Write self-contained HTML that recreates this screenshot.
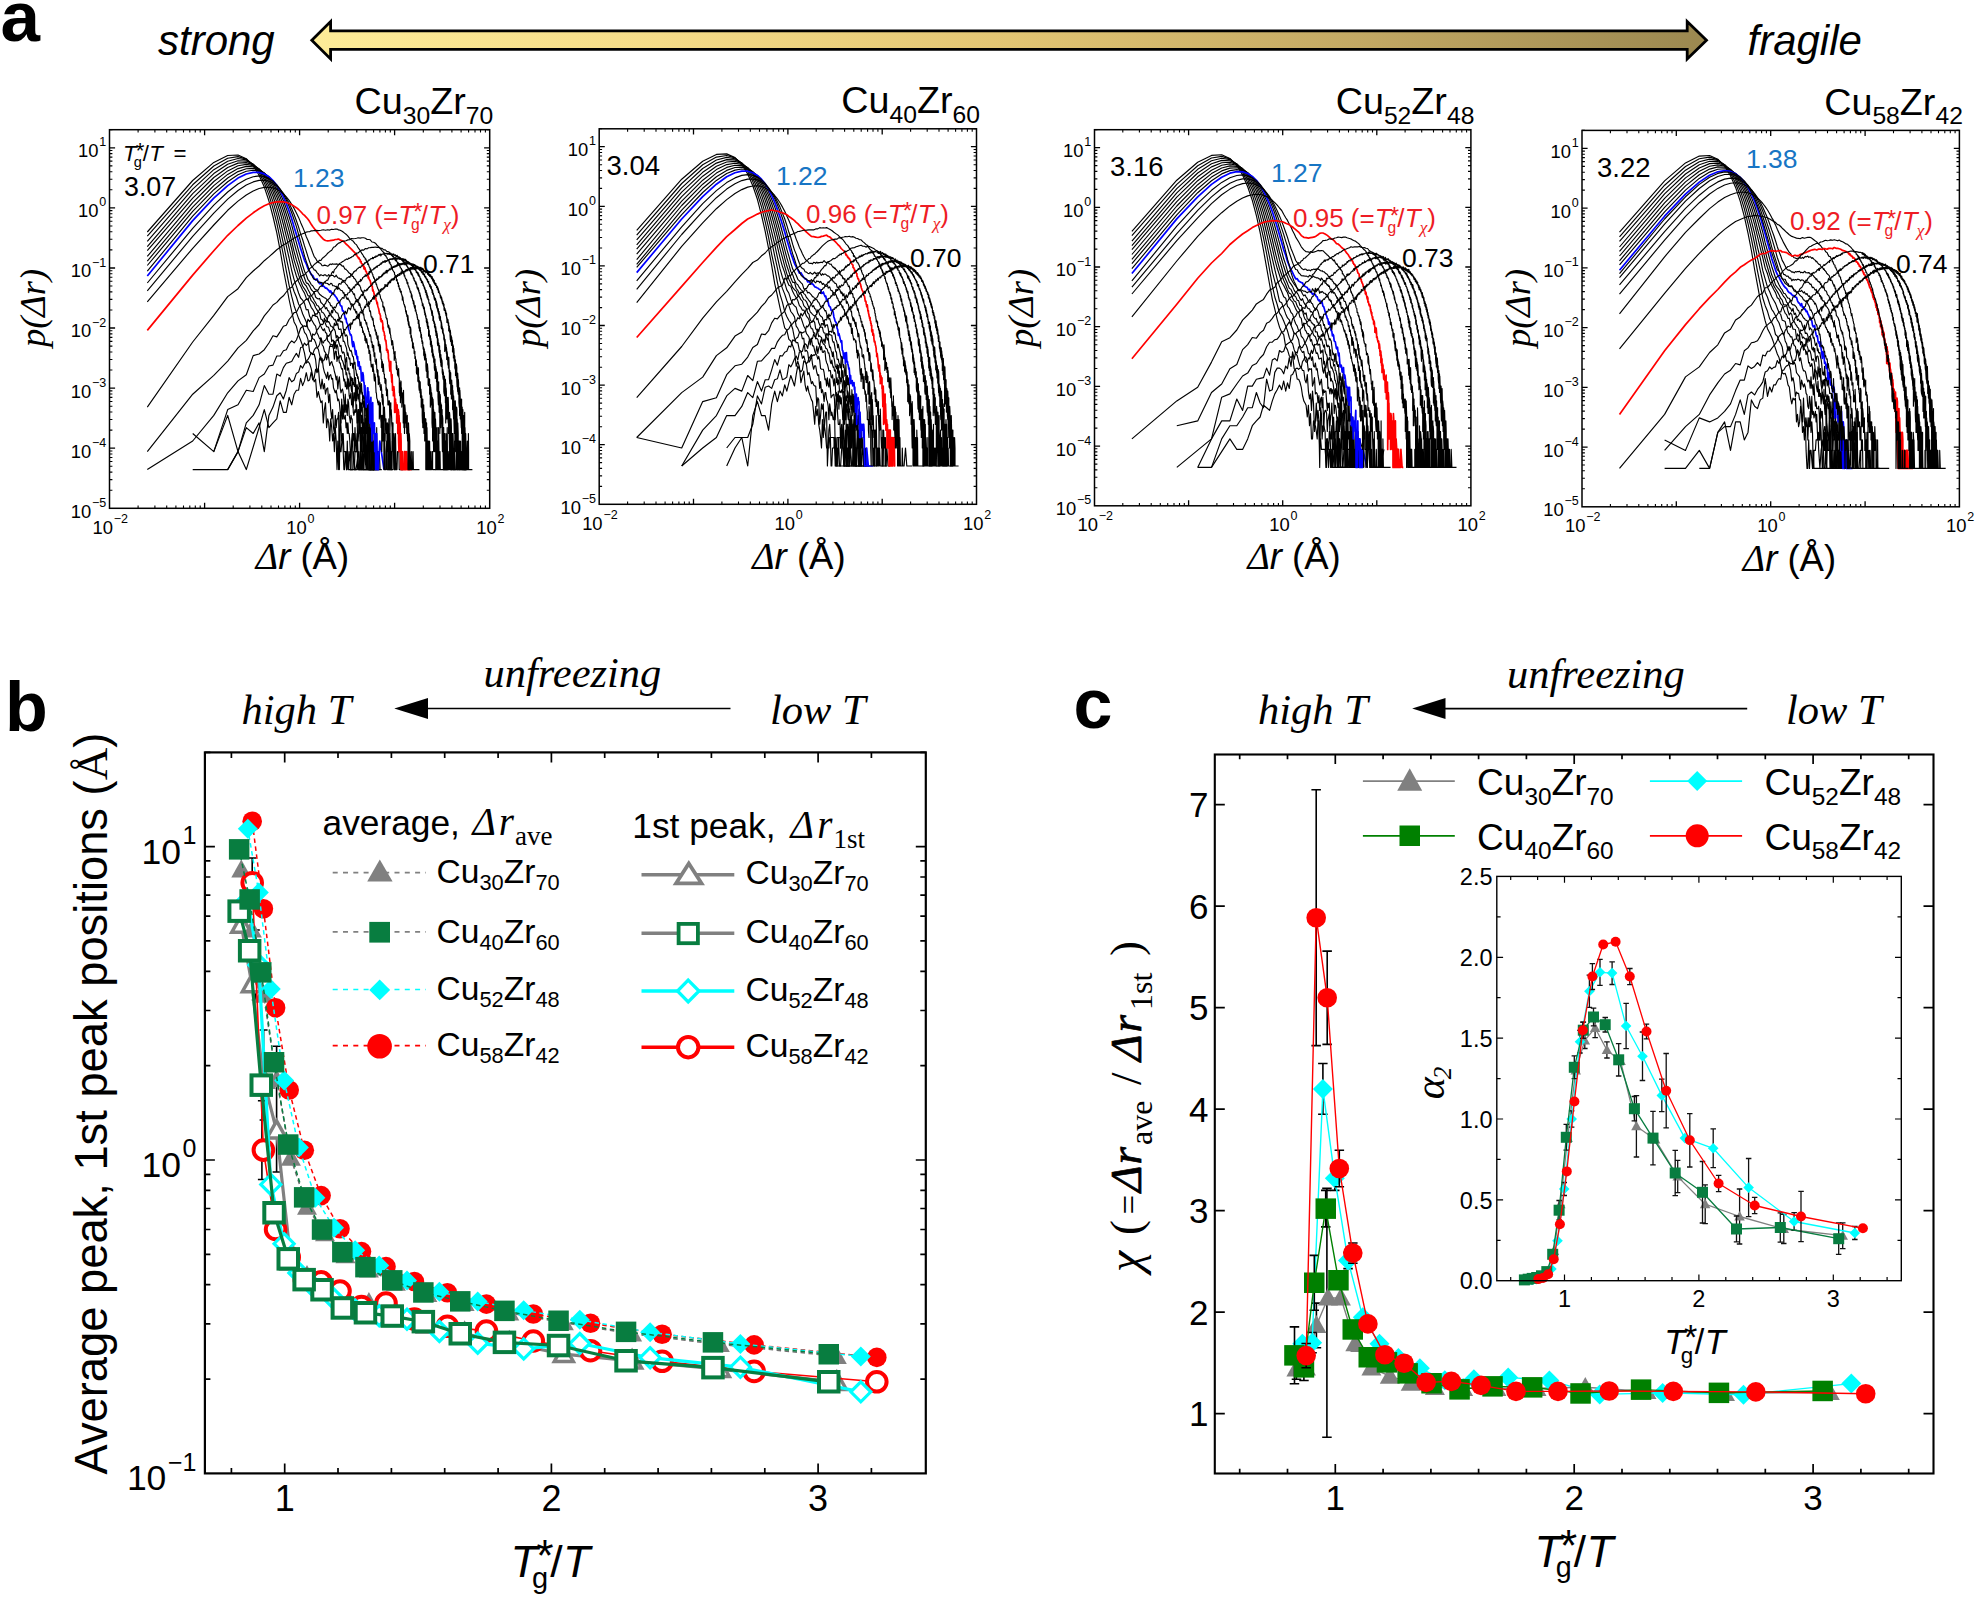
<!DOCTYPE html>
<html lang="en"><head><meta charset="utf-8"><title>Figure</title>
<style>html,body{margin:0;padding:0;background:#fff}svg{display:block}</style></head>
<body>
<svg width="1975" height="1598" viewBox="0 0 1975 1598">
<rect width="1975" height="1598" fill="#fff"/>
<defs><linearGradient id="ga" x1="0" x2="1" y1="0" y2="0"><stop offset="0" stop-color="#fdec98"/><stop offset="0.25" stop-color="#f5dc88"/><stop offset="0.5" stop-color="#e2c573"/><stop offset="0.75" stop-color="#c3a964"/><stop offset="1" stop-color="#9b8850"/></linearGradient></defs>
<path d="M311.8 40.2L330.6 21.5L330.6 30.8L1687.2 30.8L1687.2 21.5L1706.5 40.2L1687.2 58.9L1687.2 49.4L330.6 49.4L330.6 58.9Z" fill="url(#ga)" stroke="#000" stroke-width="2.8" stroke-linejoin="miter"/>
<text x="0.5" y="41" font-family='"Liberation Sans", Arial, Helvetica, sans-serif' font-size="71" text-anchor="start" fill="#000" font-weight="bold" >a</text>
<text x="158" y="55" font-family='"Liberation Sans", Arial, Helvetica, sans-serif' font-size="42" text-anchor="start" fill="#000" font-style="italic" >strong</text>
<text x="1747.5" y="55" font-family='"Liberation Sans", Arial, Helvetica, sans-serif' font-size="42" text-anchor="start" fill="#000" font-style="italic" >fragile</text>
<path d="M204.6 508.3L204.6 502.7M204.6 129.7L204.6 135.3M299.6 508.3L299.6 502.7M299.6 129.7L299.6 135.3M394.6 508.3L394.6 502.7M394.6 129.7L394.6 135.3M109.5 448.2L115.1 448.2M489.7 448.2L484.1 448.2M109.5 388.1L115.1 388.1M489.7 388.1L484.1 388.1M109.5 328L115.1 328M489.7 328L484.1 328M109.5 268L115.1 268M489.7 268L484.1 268M109.5 207.9L115.1 207.9M489.7 207.9L484.1 207.9M109.5 147.8L115.1 147.8M489.7 147.8L484.1 147.8" stroke="#000" stroke-width="1.3" fill="none"/>
<path d="M138.1 508.3L138.1 505.4M138.1 129.7L138.1 132.6M154.9 508.3L154.9 505.4M154.9 129.7L154.9 132.6M166.7 508.3L166.7 505.4M166.7 129.7L166.7 132.6M175.9 508.3L175.9 505.4M175.9 129.7L175.9 132.6M183.5 508.3L183.5 505.4M183.5 129.7L183.5 132.6M189.8 508.3L189.8 505.4M189.8 129.7L189.8 132.6M195.3 508.3L195.3 505.4M195.3 129.7L195.3 132.6M200.2 508.3L200.2 505.4M200.2 129.7L200.2 132.6M233.2 508.3L233.2 505.4M233.2 129.7L233.2 132.6M249.9 508.3L249.9 505.4M249.9 129.7L249.9 132.6M261.8 508.3L261.8 505.4M261.8 129.7L261.8 132.6M271 508.3L271 505.4M271 129.7L271 132.6M278.5 508.3L278.5 505.4M278.5 129.7L278.5 132.6M284.9 508.3L284.9 505.4M284.9 129.7L284.9 132.6M290.4 508.3L290.4 505.4M290.4 129.7L290.4 132.6M295.3 508.3L295.3 505.4M295.3 129.7L295.3 132.6M328.2 508.3L328.2 505.4M328.2 129.7L328.2 132.6M345 508.3L345 505.4M345 129.7L345 132.6M356.8 508.3L356.8 505.4M356.8 129.7L356.8 132.6M366 508.3L366 505.4M366 129.7L366 132.6M373.6 508.3L373.6 505.4M373.6 129.7L373.6 132.6M379.9 508.3L379.9 505.4M379.9 129.7L379.9 132.6M385.4 508.3L385.4 505.4M385.4 129.7L385.4 132.6M390.3 508.3L390.3 505.4M390.3 129.7L390.3 132.6M423.3 508.3L423.3 505.4M423.3 129.7L423.3 132.6M440 508.3L440 505.4M440 129.7L440 132.6M451.9 508.3L451.9 505.4M451.9 129.7L451.9 132.6M461.1 508.3L461.1 505.4M461.1 129.7L461.1 132.6M468.6 508.3L468.6 505.4M468.6 129.7L468.6 132.6M475 508.3L475 505.4M475 129.7L475 132.6M480.5 508.3L480.5 505.4M480.5 129.7L480.5 132.6M485.4 508.3L485.4 505.4M485.4 129.7L485.4 132.6M109.5 490.2L112.4 490.2M489.7 490.2L486.8 490.2M109.5 479.6L112.4 479.6M489.7 479.6L486.8 479.6M109.5 472.1L112.4 472.1M489.7 472.1L486.8 472.1M109.5 466.3L112.4 466.3M489.7 466.3L486.8 466.3M109.5 461.5L112.4 461.5M489.7 461.5L486.8 461.5M109.5 457.5L112.4 457.5M489.7 457.5L486.8 457.5M109.5 454L112.4 454M489.7 454L486.8 454M109.5 451L112.4 451M489.7 451L486.8 451M109.5 430.1L112.4 430.1M489.7 430.1L486.8 430.1M109.5 419.5L112.4 419.5M489.7 419.5L486.8 419.5M109.5 412L112.4 412M489.7 412L486.8 412M109.5 406.2L112.4 406.2M489.7 406.2L486.8 406.2M109.5 401.5L112.4 401.5M489.7 401.5L486.8 401.5M109.5 397.4L112.4 397.4M489.7 397.4L486.8 397.4M109.5 394L112.4 394M489.7 394L486.8 394M109.5 390.9L112.4 390.9M489.7 390.9L486.8 390.9M109.5 370L112.4 370M489.7 370L486.8 370M109.5 359.5L112.4 359.5M489.7 359.5L486.8 359.5M109.5 352L112.4 352M489.7 352L486.8 352M109.5 346.1L112.4 346.1M489.7 346.1L486.8 346.1M109.5 341.4L112.4 341.4M489.7 341.4L486.8 341.4M109.5 337.4L112.4 337.4M489.7 337.4L486.8 337.4M109.5 333.9L112.4 333.9M489.7 333.9L486.8 333.9M109.5 330.8L112.4 330.8M489.7 330.8L486.8 330.8M109.5 310L112.4 310M489.7 310L486.8 310M109.5 299.4L112.4 299.4M489.7 299.4L486.8 299.4M109.5 291.9L112.4 291.9M489.7 291.9L486.8 291.9M109.5 286L112.4 286M489.7 286L486.8 286M109.5 281.3L112.4 281.3M489.7 281.3L486.8 281.3M109.5 277.3L112.4 277.3M489.7 277.3L486.8 277.3M109.5 273.8L112.4 273.8M489.7 273.8L486.8 273.8M109.5 270.7L112.4 270.7M489.7 270.7L486.8 270.7M109.5 249.9L112.4 249.9M489.7 249.9L486.8 249.9M109.5 239.3L112.4 239.3M489.7 239.3L486.8 239.3M109.5 231.8L112.4 231.8M489.7 231.8L486.8 231.8M109.5 226L112.4 226M489.7 226L486.8 226M109.5 221.2L112.4 221.2M489.7 221.2L486.8 221.2M109.5 217.2L112.4 217.2M489.7 217.2L486.8 217.2M109.5 213.7L112.4 213.7M489.7 213.7L486.8 213.7M109.5 210.6L112.4 210.6M489.7 210.6L486.8 210.6M109.5 189.8L112.4 189.8M489.7 189.8L486.8 189.8M109.5 179.2L112.4 179.2M489.7 179.2L486.8 179.2M109.5 171.7L112.4 171.7M489.7 171.7L486.8 171.7M109.5 165.9L112.4 165.9M489.7 165.9L486.8 165.9M109.5 161.1L112.4 161.1M489.7 161.1L486.8 161.1M109.5 157.1L112.4 157.1M489.7 157.1L486.8 157.1M109.5 153.6L112.4 153.6M489.7 153.6L486.8 153.6M109.5 150.5L112.4 150.5M489.7 150.5L486.8 150.5M109.5 129.7L112.4 129.7M489.7 129.7L486.8 129.7" stroke="#000" stroke-width="1.1" fill="none"/>
<rect x="109.5" y="129.7" width="380.2" height="378.6" fill="none" stroke="#000" stroke-width="1.5"/>
<text x="106.3" y="517.7" font-family='"Liberation Sans", Arial, Helvetica, sans-serif' font-size="18.4" text-anchor="end" fill="#000" >10<tspan dy="-10.9" dx="0.8" font-size="12.5">−5</tspan></text>
<text x="106.3" y="457.6" font-family='"Liberation Sans", Arial, Helvetica, sans-serif' font-size="18.4" text-anchor="end" fill="#000" >10<tspan dy="-10.9" dx="0.8" font-size="12.5">−4</tspan></text>
<text x="106.3" y="397.5" font-family='"Liberation Sans", Arial, Helvetica, sans-serif' font-size="18.4" text-anchor="end" fill="#000" >10<tspan dy="-10.9" dx="0.8" font-size="12.5">−3</tspan></text>
<text x="106.3" y="337.4" font-family='"Liberation Sans", Arial, Helvetica, sans-serif' font-size="18.4" text-anchor="end" fill="#000" >10<tspan dy="-10.9" dx="0.8" font-size="12.5">−2</tspan></text>
<text x="106.3" y="277.4" font-family='"Liberation Sans", Arial, Helvetica, sans-serif' font-size="18.4" text-anchor="end" fill="#000" >10<tspan dy="-10.9" dx="0.8" font-size="12.5">−1</tspan></text>
<text x="106.3" y="217.3" font-family='"Liberation Sans", Arial, Helvetica, sans-serif' font-size="18.4" text-anchor="end" fill="#000" >10<tspan dy="-10.9" dx="0.8" font-size="12.5">0</tspan></text>
<text x="106.3" y="157.2" font-family='"Liberation Sans", Arial, Helvetica, sans-serif' font-size="18.4" text-anchor="end" fill="#000" >10<tspan dy="-10.9" dx="0.8" font-size="12.5">1</tspan></text>
<text x="110.2" y="533.7" font-family='"Liberation Sans", Arial, Helvetica, sans-serif' font-size="18.4" text-anchor="middle" fill="#000" >10<tspan dy="-10.9" dx="0.8" font-size="12.5">−2</tspan></text>
<text x="300.3" y="533.7" font-family='"Liberation Sans", Arial, Helvetica, sans-serif' font-size="18.4" text-anchor="middle" fill="#000" >10<tspan dy="-10.9" dx="0.8" font-size="12.5">0</tspan></text>
<text x="490.4" y="533.7" font-family='"Liberation Sans", Arial, Helvetica, sans-serif' font-size="18.4" text-anchor="middle" fill="#000" >10<tspan dy="-10.9" dx="0.8" font-size="12.5">2</tspan></text>
<text x="302.5" y="568.7" font-family='"Liberation Sans", Arial, Helvetica, sans-serif' font-size="36.5" text-anchor="middle" fill="#000" ><tspan font-size="38" font-family='"Liberation Serif", "Times New Roman", Times, serif' font-style="italic">Δ</tspan><tspan font-style="italic">r</tspan> (Å)</text>
<text x="0" y="0" font-family='"Liberation Serif", "Times New Roman", Times, serif' font-size="36.5" text-anchor="middle" fill="#000" font-style="italic" transform="translate(45,308) rotate(-90)" >p(Δr)</text>
<text x="493.2" y="114.1" font-family='"Liberation Sans", Arial, Helvetica, sans-serif' font-size="37.7" text-anchor="end" fill="#000" >Cu<tspan dy="9.5" font-size="24.7">30</tspan><tspan dy="-9.5" font-size="37.7">Zr</tspan><tspan dy="9.5" font-size="24.7">70</tspan></text>
<path d="M693.5 504.3L693.5 498.7M693.5 128.8L693.5 134.4M787.9 504.3L787.9 498.7M787.9 128.8L787.9 134.4M882.2 504.3L882.2 498.7M882.2 128.8L882.2 134.4M599.2 444.7L604.8 444.7M976.5 444.7L970.9 444.7M599.2 385.1L604.8 385.1M976.5 385.1L970.9 385.1M599.2 325.5L604.8 325.5M976.5 325.5L970.9 325.5M599.2 265.9L604.8 265.9M976.5 265.9L970.9 265.9M599.2 206.3L604.8 206.3M976.5 206.3L970.9 206.3M599.2 146.7L604.8 146.7M976.5 146.7L970.9 146.7" stroke="#000" stroke-width="1.3" fill="none"/>
<path d="M627.6 504.3L627.6 501.4M627.6 128.8L627.6 131.7M644.2 504.3L644.2 501.4M644.2 128.8L644.2 131.7M656 504.3L656 501.4M656 128.8L656 131.7M665.1 504.3L665.1 501.4M665.1 128.8L665.1 131.7M672.6 504.3L672.6 501.4M672.6 128.8L672.6 131.7M678.9 504.3L678.9 501.4M678.9 128.8L678.9 131.7M684.4 504.3L684.4 501.4M684.4 128.8L684.4 131.7M689.2 504.3L689.2 501.4M689.2 128.8L689.2 131.7M721.9 504.3L721.9 501.4M721.9 128.8L721.9 131.7M738.5 504.3L738.5 501.4M738.5 128.8L738.5 131.7M750.3 504.3L750.3 501.4M750.3 128.8L750.3 131.7M759.5 504.3L759.5 501.4M759.5 128.8L759.5 131.7M766.9 504.3L766.9 501.4M766.9 128.8L766.9 131.7M773.2 504.3L773.2 501.4M773.2 128.8L773.2 131.7M778.7 504.3L778.7 501.4M778.7 128.8L778.7 131.7M783.5 504.3L783.5 501.4M783.5 128.8L783.5 131.7M816.2 504.3L816.2 501.4M816.2 128.8L816.2 131.7M832.9 504.3L832.9 501.4M832.9 128.8L832.9 131.7M844.6 504.3L844.6 501.4M844.6 128.8L844.6 131.7M853.8 504.3L853.8 501.4M853.8 128.8L853.8 131.7M861.2 504.3L861.2 501.4M861.2 128.8L861.2 131.7M867.6 504.3L867.6 501.4M867.6 128.8L867.6 131.7M873 504.3L873 501.4M873 128.8L873 131.7M877.9 504.3L877.9 501.4M877.9 128.8L877.9 131.7M910.6 504.3L910.6 501.4M910.6 128.8L910.6 131.7M927.2 504.3L927.2 501.4M927.2 128.8L927.2 131.7M939 504.3L939 501.4M939 128.8L939 131.7M948.1 504.3L948.1 501.4M948.1 128.8L948.1 131.7M955.6 504.3L955.6 501.4M955.6 128.8L955.6 131.7M961.9 504.3L961.9 501.4M961.9 128.8L961.9 131.7M967.4 504.3L967.4 501.4M967.4 128.8L967.4 131.7M972.2 504.3L972.2 501.4M972.2 128.8L972.2 131.7M599.2 486.4L602.1 486.4M976.5 486.4L973.6 486.4M599.2 475.9L602.1 475.9M976.5 475.9L973.6 475.9M599.2 468.4L602.1 468.4M976.5 468.4L973.6 468.4M599.2 462.6L602.1 462.6M976.5 462.6L973.6 462.6M599.2 457.9L602.1 457.9M976.5 457.9L973.6 457.9M599.2 453.9L602.1 453.9M976.5 453.9L973.6 453.9M599.2 450.5L602.1 450.5M976.5 450.5L973.6 450.5M599.2 447.4L602.1 447.4M976.5 447.4L973.6 447.4M599.2 426.8L602.1 426.8M976.5 426.8L973.6 426.8M599.2 416.3L602.1 416.3M976.5 416.3L973.6 416.3M599.2 408.8L602.1 408.8M976.5 408.8L973.6 408.8M599.2 403.1L602.1 403.1M976.5 403.1L973.6 403.1M599.2 398.3L602.1 398.3M976.5 398.3L973.6 398.3M599.2 394.3L602.1 394.3M976.5 394.3L973.6 394.3M599.2 390.9L602.1 390.9M976.5 390.9L973.6 390.9M599.2 387.8L602.1 387.8M976.5 387.8L973.6 387.8M599.2 367.2L602.1 367.2M976.5 367.2L973.6 367.2M599.2 356.7L602.1 356.7M976.5 356.7L973.6 356.7M599.2 349.2L602.1 349.2M976.5 349.2L973.6 349.2M599.2 343.5L602.1 343.5M976.5 343.5L973.6 343.5M599.2 338.7L602.1 338.7M976.5 338.7L973.6 338.7M599.2 334.8L602.1 334.8M976.5 334.8L973.6 334.8M599.2 331.3L602.1 331.3M976.5 331.3L973.6 331.3M599.2 328.2L602.1 328.2M976.5 328.2L973.6 328.2M599.2 307.6L602.1 307.6M976.5 307.6L973.6 307.6M599.2 297.1L602.1 297.1M976.5 297.1L973.6 297.1M599.2 289.6L602.1 289.6M976.5 289.6L973.6 289.6M599.2 283.9L602.1 283.9M976.5 283.9L973.6 283.9M599.2 279.1L602.1 279.1M976.5 279.1L973.6 279.1M599.2 275.2L602.1 275.2M976.5 275.2L973.6 275.2M599.2 271.7L602.1 271.7M976.5 271.7L973.6 271.7M599.2 268.7L602.1 268.7M976.5 268.7L973.6 268.7M599.2 248L602.1 248M976.5 248L973.6 248M599.2 237.5L602.1 237.5M976.5 237.5L973.6 237.5M599.2 230L602.1 230M976.5 230L973.6 230M599.2 224.3L602.1 224.3M976.5 224.3L973.6 224.3M599.2 219.6L602.1 219.6M976.5 219.6L973.6 219.6M599.2 215.6L602.1 215.6M976.5 215.6L973.6 215.6M599.2 212.1L602.1 212.1M976.5 212.1L973.6 212.1M599.2 209.1L602.1 209.1M976.5 209.1L973.6 209.1M599.2 188.4L602.1 188.4M976.5 188.4L973.6 188.4M599.2 177.9L602.1 177.9M976.5 177.9L973.6 177.9M599.2 170.5L602.1 170.5M976.5 170.5L973.6 170.5M599.2 164.7L602.1 164.7M976.5 164.7L973.6 164.7M599.2 160L602.1 160M976.5 160L973.6 160M599.2 156L602.1 156M976.5 156L973.6 156M599.2 152.5L602.1 152.5M976.5 152.5L973.6 152.5M599.2 149.5L602.1 149.5M976.5 149.5L973.6 149.5M599.2 128.8L602.1 128.8M976.5 128.8L973.6 128.8" stroke="#000" stroke-width="1.1" fill="none"/>
<rect x="599.2" y="128.8" width="377.3" height="375.5" fill="none" stroke="#000" stroke-width="1.5"/>
<text x="596" y="513.7" font-family='"Liberation Sans", Arial, Helvetica, sans-serif' font-size="18.4" text-anchor="end" fill="#000" >10<tspan dy="-10.9" dx="0.8" font-size="12.5">−5</tspan></text>
<text x="596" y="454.1" font-family='"Liberation Sans", Arial, Helvetica, sans-serif' font-size="18.4" text-anchor="end" fill="#000" >10<tspan dy="-10.9" dx="0.8" font-size="12.5">−4</tspan></text>
<text x="596" y="394.5" font-family='"Liberation Sans", Arial, Helvetica, sans-serif' font-size="18.4" text-anchor="end" fill="#000" >10<tspan dy="-10.9" dx="0.8" font-size="12.5">−3</tspan></text>
<text x="596" y="334.9" font-family='"Liberation Sans", Arial, Helvetica, sans-serif' font-size="18.4" text-anchor="end" fill="#000" >10<tspan dy="-10.9" dx="0.8" font-size="12.5">−2</tspan></text>
<text x="596" y="275.3" font-family='"Liberation Sans", Arial, Helvetica, sans-serif' font-size="18.4" text-anchor="end" fill="#000" >10<tspan dy="-10.9" dx="0.8" font-size="12.5">−1</tspan></text>
<text x="596" y="215.7" font-family='"Liberation Sans", Arial, Helvetica, sans-serif' font-size="18.4" text-anchor="end" fill="#000" >10<tspan dy="-10.9" dx="0.8" font-size="12.5">0</tspan></text>
<text x="596" y="156.1" font-family='"Liberation Sans", Arial, Helvetica, sans-serif' font-size="18.4" text-anchor="end" fill="#000" >10<tspan dy="-10.9" dx="0.8" font-size="12.5">1</tspan></text>
<text x="599.9" y="529.7" font-family='"Liberation Sans", Arial, Helvetica, sans-serif' font-size="18.4" text-anchor="middle" fill="#000" >10<tspan dy="-10.9" dx="0.8" font-size="12.5">−2</tspan></text>
<text x="788.6" y="529.7" font-family='"Liberation Sans", Arial, Helvetica, sans-serif' font-size="18.4" text-anchor="middle" fill="#000" >10<tspan dy="-10.9" dx="0.8" font-size="12.5">0</tspan></text>
<text x="977.2" y="529.7" font-family='"Liberation Sans", Arial, Helvetica, sans-serif' font-size="18.4" text-anchor="middle" fill="#000" >10<tspan dy="-10.9" dx="0.8" font-size="12.5">2</tspan></text>
<text x="798.9" y="569.3" font-family='"Liberation Sans", Arial, Helvetica, sans-serif' font-size="36.5" text-anchor="middle" fill="#000" ><tspan font-size="38" font-family='"Liberation Serif", "Times New Roman", Times, serif' font-style="italic">Δ</tspan><tspan font-style="italic">r</tspan> (Å)</text>
<text x="0" y="0" font-family='"Liberation Serif", "Times New Roman", Times, serif' font-size="36.5" text-anchor="middle" fill="#000" font-style="italic" transform="translate(539.7,308) rotate(-90)" >p(Δr)</text>
<text x="980" y="113.2" font-family='"Liberation Sans", Arial, Helvetica, sans-serif' font-size="37.7" text-anchor="end" fill="#000" >Cu<tspan dy="9.5" font-size="24.7">40</tspan><tspan dy="-9.5" font-size="37.7">Zr</tspan><tspan dy="9.5" font-size="24.7">60</tspan></text>
<path d="M1188.6 505.8L1188.6 500.2M1188.6 129.7L1188.6 135.3M1282.7 505.8L1282.7 500.2M1282.7 129.7L1282.7 135.3M1376.8 505.8L1376.8 500.2M1376.8 129.7L1376.8 135.3M1094.5 446.1L1100.1 446.1M1470.9 446.1L1465.3 446.1M1094.5 386.4L1100.1 386.4M1470.9 386.4L1465.3 386.4M1094.5 326.7L1100.1 326.7M1470.9 326.7L1465.3 326.7M1094.5 267L1100.1 267M1470.9 267L1465.3 267M1094.5 207.4L1100.1 207.4M1470.9 207.4L1465.3 207.4M1094.5 147.7L1100.1 147.7M1470.9 147.7L1465.3 147.7" stroke="#000" stroke-width="1.3" fill="none"/>
<path d="M1122.8 505.8L1122.8 502.9M1122.8 129.7L1122.8 132.6M1139.4 505.8L1139.4 502.9M1139.4 129.7L1139.4 132.6M1151.2 505.8L1151.2 502.9M1151.2 129.7L1151.2 132.6M1160.3 505.8L1160.3 502.9M1160.3 129.7L1160.3 132.6M1167.7 505.8L1167.7 502.9M1167.7 129.7L1167.7 132.6M1174 505.8L1174 502.9M1174 129.7L1174 132.6M1179.5 505.8L1179.5 502.9M1179.5 129.7L1179.5 132.6M1184.3 505.8L1184.3 502.9M1184.3 129.7L1184.3 132.6M1216.9 505.8L1216.9 502.9M1216.9 129.7L1216.9 132.6M1233.5 505.8L1233.5 502.9M1233.5 129.7L1233.5 132.6M1245.3 505.8L1245.3 502.9M1245.3 129.7L1245.3 132.6M1254.4 505.8L1254.4 502.9M1254.4 129.7L1254.4 132.6M1261.8 505.8L1261.8 502.9M1261.8 129.7L1261.8 132.6M1268.1 505.8L1268.1 502.9M1268.1 129.7L1268.1 132.6M1273.6 505.8L1273.6 502.9M1273.6 129.7L1273.6 132.6M1278.4 505.8L1278.4 502.9M1278.4 129.7L1278.4 132.6M1311 505.8L1311 502.9M1311 129.7L1311 132.6M1327.6 505.8L1327.6 502.9M1327.6 129.7L1327.6 132.6M1339.4 505.8L1339.4 502.9M1339.4 129.7L1339.4 132.6M1348.5 505.8L1348.5 502.9M1348.5 129.7L1348.5 132.6M1355.9 505.8L1355.9 502.9M1355.9 129.7L1355.9 132.6M1362.2 505.8L1362.2 502.9M1362.2 129.7L1362.2 132.6M1367.7 505.8L1367.7 502.9M1367.7 129.7L1367.7 132.6M1372.5 505.8L1372.5 502.9M1372.5 129.7L1372.5 132.6M1405.1 505.8L1405.1 502.9M1405.1 129.7L1405.1 132.6M1421.7 505.8L1421.7 502.9M1421.7 129.7L1421.7 132.6M1433.5 505.8L1433.5 502.9M1433.5 129.7L1433.5 132.6M1442.6 505.8L1442.6 502.9M1442.6 129.7L1442.6 132.6M1450 505.8L1450 502.9M1450 129.7L1450 132.6M1456.3 505.8L1456.3 502.9M1456.3 129.7L1456.3 132.6M1461.8 505.8L1461.8 502.9M1461.8 129.7L1461.8 132.6M1466.6 505.8L1466.6 502.9M1466.6 129.7L1466.6 132.6M1094.5 487.8L1097.4 487.8M1470.9 487.8L1468 487.8M1094.5 477.3L1097.4 477.3M1470.9 477.3L1468 477.3M1094.5 469.9L1097.4 469.9M1470.9 469.9L1468 469.9M1094.5 464.1L1097.4 464.1M1470.9 464.1L1468 464.1M1094.5 459.4L1097.4 459.4M1470.9 459.4L1468 459.4M1094.5 455.4L1097.4 455.4M1470.9 455.4L1468 455.4M1094.5 451.9L1097.4 451.9M1470.9 451.9L1468 451.9M1094.5 448.8L1097.4 448.8M1470.9 448.8L1468 448.8M1094.5 428.1L1097.4 428.1M1470.9 428.1L1468 428.1M1094.5 417.6L1097.4 417.6M1470.9 417.6L1468 417.6M1094.5 410.2L1097.4 410.2M1470.9 410.2L1468 410.2M1094.5 404.4L1097.4 404.4M1470.9 404.4L1468 404.4M1094.5 399.7L1097.4 399.7M1470.9 399.7L1468 399.7M1094.5 395.7L1097.4 395.7M1470.9 395.7L1468 395.7M1094.5 392.2L1097.4 392.2M1470.9 392.2L1468 392.2M1094.5 389.2L1097.4 389.2M1470.9 389.2L1468 389.2M1094.5 368.5L1097.4 368.5M1470.9 368.5L1468 368.5M1094.5 357.9L1097.4 357.9M1470.9 357.9L1468 357.9M1094.5 350.5L1097.4 350.5M1470.9 350.5L1468 350.5M1094.5 344.7L1097.4 344.7M1470.9 344.7L1468 344.7M1094.5 340L1097.4 340M1470.9 340L1468 340M1094.5 336L1097.4 336M1470.9 336L1468 336M1094.5 332.5L1097.4 332.5M1470.9 332.5L1468 332.5M1094.5 329.5L1097.4 329.5M1470.9 329.5L1468 329.5M1094.5 308.8L1097.4 308.8M1470.9 308.8L1468 308.8M1094.5 298.3L1097.4 298.3M1470.9 298.3L1468 298.3M1094.5 290.8L1097.4 290.8M1470.9 290.8L1468 290.8M1094.5 285L1097.4 285M1470.9 285L1468 285M1094.5 280.3L1097.4 280.3M1470.9 280.3L1468 280.3M1094.5 276.3L1097.4 276.3M1470.9 276.3L1468 276.3M1094.5 272.8L1097.4 272.8M1470.9 272.8L1468 272.8M1094.5 269.8L1097.4 269.8M1470.9 269.8L1468 269.8M1094.5 249.1L1097.4 249.1M1470.9 249.1L1468 249.1M1094.5 238.6L1097.4 238.6M1470.9 238.6L1468 238.6M1094.5 231.1L1097.4 231.1M1470.9 231.1L1468 231.1M1094.5 225.3L1097.4 225.3M1470.9 225.3L1468 225.3M1094.5 220.6L1097.4 220.6M1470.9 220.6L1468 220.6M1094.5 216.6L1097.4 216.6M1470.9 216.6L1468 216.6M1094.5 213.1L1097.4 213.1M1470.9 213.1L1468 213.1M1094.5 210.1L1097.4 210.1M1470.9 210.1L1468 210.1M1094.5 189.4L1097.4 189.4M1470.9 189.4L1468 189.4M1094.5 178.9L1097.4 178.9M1470.9 178.9L1468 178.9M1094.5 171.4L1097.4 171.4M1470.9 171.4L1468 171.4M1094.5 165.6L1097.4 165.6M1470.9 165.6L1468 165.6M1094.5 160.9L1097.4 160.9M1470.9 160.9L1468 160.9M1094.5 156.9L1097.4 156.9M1470.9 156.9L1468 156.9M1094.5 153.5L1097.4 153.5M1470.9 153.5L1468 153.5M1094.5 150.4L1097.4 150.4M1470.9 150.4L1468 150.4M1094.5 129.7L1097.4 129.7M1470.9 129.7L1468 129.7" stroke="#000" stroke-width="1.1" fill="none"/>
<rect x="1094.5" y="129.7" width="376.4" height="376.1" fill="none" stroke="#000" stroke-width="1.5"/>
<text x="1091.3" y="515.2" font-family='"Liberation Sans", Arial, Helvetica, sans-serif' font-size="18.4" text-anchor="end" fill="#000" >10<tspan dy="-10.9" dx="0.8" font-size="12.5">−5</tspan></text>
<text x="1091.3" y="455.5" font-family='"Liberation Sans", Arial, Helvetica, sans-serif' font-size="18.4" text-anchor="end" fill="#000" >10<tspan dy="-10.9" dx="0.8" font-size="12.5">−4</tspan></text>
<text x="1091.3" y="395.8" font-family='"Liberation Sans", Arial, Helvetica, sans-serif' font-size="18.4" text-anchor="end" fill="#000" >10<tspan dy="-10.9" dx="0.8" font-size="12.5">−3</tspan></text>
<text x="1091.3" y="336.1" font-family='"Liberation Sans", Arial, Helvetica, sans-serif' font-size="18.4" text-anchor="end" fill="#000" >10<tspan dy="-10.9" dx="0.8" font-size="12.5">−2</tspan></text>
<text x="1091.3" y="276.4" font-family='"Liberation Sans", Arial, Helvetica, sans-serif' font-size="18.4" text-anchor="end" fill="#000" >10<tspan dy="-10.9" dx="0.8" font-size="12.5">−1</tspan></text>
<text x="1091.3" y="216.8" font-family='"Liberation Sans", Arial, Helvetica, sans-serif' font-size="18.4" text-anchor="end" fill="#000" >10<tspan dy="-10.9" dx="0.8" font-size="12.5">0</tspan></text>
<text x="1091.3" y="157.1" font-family='"Liberation Sans", Arial, Helvetica, sans-serif' font-size="18.4" text-anchor="end" fill="#000" >10<tspan dy="-10.9" dx="0.8" font-size="12.5">1</tspan></text>
<text x="1095.2" y="531.2" font-family='"Liberation Sans", Arial, Helvetica, sans-serif' font-size="18.4" text-anchor="middle" fill="#000" >10<tspan dy="-10.9" dx="0.8" font-size="12.5">−2</tspan></text>
<text x="1283.4" y="531.2" font-family='"Liberation Sans", Arial, Helvetica, sans-serif' font-size="18.4" text-anchor="middle" fill="#000" >10<tspan dy="-10.9" dx="0.8" font-size="12.5">0</tspan></text>
<text x="1471.6" y="531.2" font-family='"Liberation Sans", Arial, Helvetica, sans-serif' font-size="18.4" text-anchor="middle" fill="#000" >10<tspan dy="-10.9" dx="0.8" font-size="12.5">2</tspan></text>
<text x="1294.1" y="569.3" font-family='"Liberation Sans", Arial, Helvetica, sans-serif' font-size="36.5" text-anchor="middle" fill="#000" ><tspan font-size="38" font-family='"Liberation Serif", "Times New Roman", Times, serif' font-style="italic">Δ</tspan><tspan font-style="italic">r</tspan> (Å)</text>
<text x="0" y="0" font-family='"Liberation Serif", "Times New Roman", Times, serif' font-size="36.5" text-anchor="middle" fill="#000" font-style="italic" transform="translate(1033,308) rotate(-90)" >p(Δr)</text>
<text x="1474.4" y="114.1" font-family='"Liberation Sans", Arial, Helvetica, sans-serif' font-size="37.7" text-anchor="end" fill="#000" >Cu<tspan dy="9.5" font-size="24.7">52</tspan><tspan dy="-9.5" font-size="37.7">Zr</tspan><tspan dy="9.5" font-size="24.7">48</tspan></text>
<path d="M1676.3 506.8L1676.3 501.2M1676.3 130.4L1676.3 136M1770.7 506.8L1770.7 501.2M1770.7 130.4L1770.7 136M1865.1 506.8L1865.1 501.2M1865.1 130.4L1865.1 136M1582 447.1L1587.6 447.1M1959.4 447.1L1953.8 447.1M1582 387.3L1587.6 387.3M1959.4 387.3L1953.8 387.3M1582 327.6L1587.6 327.6M1959.4 327.6L1953.8 327.6M1582 267.9L1587.6 267.9M1959.4 267.9L1953.8 267.9M1582 208.1L1587.6 208.1M1959.4 208.1L1953.8 208.1M1582 148.4L1587.6 148.4M1959.4 148.4L1953.8 148.4" stroke="#000" stroke-width="1.3" fill="none"/>
<path d="M1610.4 506.8L1610.4 503.9M1610.4 130.4L1610.4 133.3M1627 506.8L1627 503.9M1627 130.4L1627 133.3M1638.8 506.8L1638.8 503.9M1638.8 130.4L1638.8 133.3M1647.9 506.8L1647.9 503.9M1647.9 130.4L1647.9 133.3M1655.4 506.8L1655.4 503.9M1655.4 130.4L1655.4 133.3M1661.7 506.8L1661.7 503.9M1661.7 130.4L1661.7 133.3M1667.2 506.8L1667.2 503.9M1667.2 130.4L1667.2 133.3M1672 506.8L1672 503.9M1672 130.4L1672 133.3M1704.8 506.8L1704.8 503.9M1704.8 130.4L1704.8 133.3M1721.4 506.8L1721.4 503.9M1721.4 130.4L1721.4 133.3M1733.2 506.8L1733.2 503.9M1733.2 130.4L1733.2 133.3M1742.3 506.8L1742.3 503.9M1742.3 130.4L1742.3 133.3M1749.8 506.8L1749.8 503.9M1749.8 130.4L1749.8 133.3M1756.1 506.8L1756.1 503.9M1756.1 130.4L1756.1 133.3M1761.6 506.8L1761.6 503.9M1761.6 130.4L1761.6 133.3M1766.4 506.8L1766.4 503.9M1766.4 130.4L1766.4 133.3M1799.1 506.8L1799.1 503.9M1799.1 130.4L1799.1 133.3M1815.7 506.8L1815.7 503.9M1815.7 130.4L1815.7 133.3M1827.5 506.8L1827.5 503.9M1827.5 130.4L1827.5 133.3M1836.6 506.8L1836.6 503.9M1836.6 130.4L1836.6 133.3M1844.1 506.8L1844.1 503.9M1844.1 130.4L1844.1 133.3M1850.4 506.8L1850.4 503.9M1850.4 130.4L1850.4 133.3M1855.9 506.8L1855.9 503.9M1855.9 130.4L1855.9 133.3M1860.7 506.8L1860.7 503.9M1860.7 130.4L1860.7 133.3M1893.5 506.8L1893.5 503.9M1893.5 130.4L1893.5 133.3M1910.1 506.8L1910.1 503.9M1910.1 130.4L1910.1 133.3M1921.9 506.8L1921.9 503.9M1921.9 130.4L1921.9 133.3M1931 506.8L1931 503.9M1931 130.4L1931 133.3M1938.5 506.8L1938.5 503.9M1938.5 130.4L1938.5 133.3M1944.8 506.8L1944.8 503.9M1944.8 130.4L1944.8 133.3M1950.3 506.8L1950.3 503.9M1950.3 130.4L1950.3 133.3M1955.1 506.8L1955.1 503.9M1955.1 130.4L1955.1 133.3M1582 488.8L1584.9 488.8M1959.4 488.8L1956.5 488.8M1582 478.3L1584.9 478.3M1959.4 478.3L1956.5 478.3M1582 470.8L1584.9 470.8M1959.4 470.8L1956.5 470.8M1582 465L1584.9 465M1959.4 465L1956.5 465M1582 460.3L1584.9 460.3M1959.4 460.3L1956.5 460.3M1582 456.3L1584.9 456.3M1959.4 456.3L1956.5 456.3M1582 452.9L1584.9 452.9M1959.4 452.9L1956.5 452.9M1582 449.8L1584.9 449.8M1959.4 449.8L1956.5 449.8M1582 429.1L1584.9 429.1M1959.4 429.1L1956.5 429.1M1582 418.6L1584.9 418.6M1959.4 418.6L1956.5 418.6M1582 411.1L1584.9 411.1M1959.4 411.1L1956.5 411.1M1582 405.3L1584.9 405.3M1959.4 405.3L1956.5 405.3M1582 400.6L1584.9 400.6M1959.4 400.6L1956.5 400.6M1582 396.6L1584.9 396.6M1959.4 396.6L1956.5 396.6M1582 393.1L1584.9 393.1M1959.4 393.1L1956.5 393.1M1582 390.1L1584.9 390.1M1959.4 390.1L1956.5 390.1M1582 369.3L1584.9 369.3M1959.4 369.3L1956.5 369.3M1582 358.8L1584.9 358.8M1959.4 358.8L1956.5 358.8M1582 351.4L1584.9 351.4M1959.4 351.4L1956.5 351.4M1582 345.6L1584.9 345.6M1959.4 345.6L1956.5 345.6M1582 340.8L1584.9 340.8M1959.4 340.8L1956.5 340.8M1582 336.8L1584.9 336.8M1959.4 336.8L1956.5 336.8M1582 333.4L1584.9 333.4M1959.4 333.4L1956.5 333.4M1582 330.3L1584.9 330.3M1959.4 330.3L1956.5 330.3M1582 309.6L1584.9 309.6M1959.4 309.6L1956.5 309.6M1582 299.1L1584.9 299.1M1959.4 299.1L1956.5 299.1M1582 291.6L1584.9 291.6M1959.4 291.6L1956.5 291.6M1582 285.8L1584.9 285.8M1959.4 285.8L1956.5 285.8M1582 281.1L1584.9 281.1M1959.4 281.1L1956.5 281.1M1582 277.1L1584.9 277.1M1959.4 277.1L1956.5 277.1M1582 273.6L1584.9 273.6M1959.4 273.6L1956.5 273.6M1582 270.6L1584.9 270.6M1959.4 270.6L1956.5 270.6M1582 249.9L1584.9 249.9M1959.4 249.9L1956.5 249.9M1582 239.4L1584.9 239.4M1959.4 239.4L1956.5 239.4M1582 231.9L1584.9 231.9M1959.4 231.9L1956.5 231.9M1582 226.1L1584.9 226.1M1959.4 226.1L1956.5 226.1M1582 221.4L1584.9 221.4M1959.4 221.4L1956.5 221.4M1582 217.4L1584.9 217.4M1959.4 217.4L1956.5 217.4M1582 213.9L1584.9 213.9M1959.4 213.9L1956.5 213.9M1582 210.9L1584.9 210.9M1959.4 210.9L1956.5 210.9M1582 190.1L1584.9 190.1M1959.4 190.1L1956.5 190.1M1582 179.6L1584.9 179.6M1959.4 179.6L1956.5 179.6M1582 172.2L1584.9 172.2M1959.4 172.2L1956.5 172.2M1582 166.4L1584.9 166.4M1959.4 166.4L1956.5 166.4M1582 161.6L1584.9 161.6M1959.4 161.6L1956.5 161.6M1582 157.6L1584.9 157.6M1959.4 157.6L1956.5 157.6M1582 154.2L1584.9 154.2M1959.4 154.2L1956.5 154.2M1582 151.1L1584.9 151.1M1959.4 151.1L1956.5 151.1M1582 130.4L1584.9 130.4M1959.4 130.4L1956.5 130.4" stroke="#000" stroke-width="1.1" fill="none"/>
<rect x="1582" y="130.4" width="377.4" height="376.4" fill="none" stroke="#000" stroke-width="1.5"/>
<text x="1578.8" y="516.2" font-family='"Liberation Sans", Arial, Helvetica, sans-serif' font-size="18.4" text-anchor="end" fill="#000" >10<tspan dy="-10.9" dx="0.8" font-size="12.5">−5</tspan></text>
<text x="1578.8" y="456.5" font-family='"Liberation Sans", Arial, Helvetica, sans-serif' font-size="18.4" text-anchor="end" fill="#000" >10<tspan dy="-10.9" dx="0.8" font-size="12.5">−4</tspan></text>
<text x="1578.8" y="396.7" font-family='"Liberation Sans", Arial, Helvetica, sans-serif' font-size="18.4" text-anchor="end" fill="#000" >10<tspan dy="-10.9" dx="0.8" font-size="12.5">−3</tspan></text>
<text x="1578.8" y="337" font-family='"Liberation Sans", Arial, Helvetica, sans-serif' font-size="18.4" text-anchor="end" fill="#000" >10<tspan dy="-10.9" dx="0.8" font-size="12.5">−2</tspan></text>
<text x="1578.8" y="277.3" font-family='"Liberation Sans", Arial, Helvetica, sans-serif' font-size="18.4" text-anchor="end" fill="#000" >10<tspan dy="-10.9" dx="0.8" font-size="12.5">−1</tspan></text>
<text x="1578.8" y="217.5" font-family='"Liberation Sans", Arial, Helvetica, sans-serif' font-size="18.4" text-anchor="end" fill="#000" >10<tspan dy="-10.9" dx="0.8" font-size="12.5">0</tspan></text>
<text x="1578.8" y="157.8" font-family='"Liberation Sans", Arial, Helvetica, sans-serif' font-size="18.4" text-anchor="end" fill="#000" >10<tspan dy="-10.9" dx="0.8" font-size="12.5">1</tspan></text>
<text x="1582.7" y="532.2" font-family='"Liberation Sans", Arial, Helvetica, sans-serif' font-size="18.4" text-anchor="middle" fill="#000" >10<tspan dy="-10.9" dx="0.8" font-size="12.5">−2</tspan></text>
<text x="1771.4" y="532.2" font-family='"Liberation Sans", Arial, Helvetica, sans-serif' font-size="18.4" text-anchor="middle" fill="#000" >10<tspan dy="-10.9" dx="0.8" font-size="12.5">0</tspan></text>
<text x="1960.1" y="532.2" font-family='"Liberation Sans", Arial, Helvetica, sans-serif' font-size="18.4" text-anchor="middle" fill="#000" >10<tspan dy="-10.9" dx="0.8" font-size="12.5">2</tspan></text>
<text x="1789.5" y="571" font-family='"Liberation Sans", Arial, Helvetica, sans-serif' font-size="36.5" text-anchor="middle" fill="#000" ><tspan font-size="38" font-family='"Liberation Serif", "Times New Roman", Times, serif' font-style="italic">Δ</tspan><tspan font-style="italic">r</tspan> (Å)</text>
<text x="0" y="0" font-family='"Liberation Serif", "Times New Roman", Times, serif' font-size="36.5" text-anchor="middle" fill="#000" font-style="italic" transform="translate(1530,308) rotate(-90)" >p(Δr)</text>
<text x="1962.9" y="114.8" font-family='"Liberation Sans", Arial, Helvetica, sans-serif' font-size="37.7" text-anchor="end" fill="#000" >Cu<tspan dy="9.5" font-size="24.7">58</tspan><tspan dy="-9.5" font-size="37.7">Zr</tspan><tspan dy="9.5" font-size="24.7">42</tspan></text>
<g transform="scale(0.1)" fill="none" stroke-linejoin="round">
<path d="M1473 2320l454-515l211-181l139-69l103-5l83 37l69 70l59 96l52 118l46 137l41 157l38 163l34 178l32 189l29 150l28 150l26 120l24 105l23 43l22 89l20 51l20 55l19 73l18 101l17-17l16 22l16 49l15 75l15 57l14-26l14 181l14-58l12 58l13 54l12-19l12 221l11-133l11-69l11 249l11-87l10 40l10 181l10-221l10 87l9 134l9-75l9 181l9-240l9 134l8 286l8-286l8 286l8-361l8 181l8 0l15-181l7 181l7 180l7 0l7-180l13 180l13-180l7 180l12 0l41 0l21 0l11 0" stroke="#000" stroke-width="11.5"/>
<path d="M1473 2362l454-514l211-188l139-77l103-17l83 25l69 56l59 80l52 102l46 120l41 135l38 147l34 162l32 157l29 159l28 144l26 111l24 93l23 67l22 62l20 47l20 24l19 66l18 23l17 50l16 118l16 20l15 12l15-6l14 55l14 132l14-46l12 137l13 72l12-98l12 98l11-54l11 106l11-52l11-12l10 149l10-85l10 154l10 93l9-93l9 180l9 59l9-181l9 122l8-87l8 0l8-66l8 573l8-542l8 122l7 134l8 0l7-75l7 181l7 0l7 0l7 0l6 180l7-286l6 286l13-180l12 180l24 0l5-180l17 180l10 0l26-180l15 180l4 0l10 0l13 0l13 0l17 0" stroke="#000" stroke-width="11.5"/>
<path d="M1473 2413l454-521l211-195l139-85l103-27l83 14l69 43l59 67l52 87l46 104l41 119l38 130l34 143l32 144l29 142l28 134l26 126l24 77l23 55l22 70l20 36l20 61l19 42l18 41l17 67l16 22l16 49l15 29l15 9l14 30l14 46l14 23l12 55l13 53l12-19l12 92l11 45l11 26l11 37l11-63l10 79l10-46l10-7l10 45l9-8l9 94l9 24l9 26l9-26l8 55l8 51l8-18l8 37l8 96l8 106l7-239l8 199l7-141l7 141l7 0l7-35l7 122l6-47l7 106l6-106l7 106l6 0l6 75l6 106l6 180l6-286l6-75l6 181l16 180l6-180l5 0l11 0l5 0l5-106l10 286l10 0l5-180l9 180l5 0l4-180l14 180l17 0l17 0l46 0l38 0" stroke="#000" stroke-width="11.5"/>
<path d="M1473 2467l454-531l211-200l139-94l103-35l83 4l69 31l59 55l52 73l46 90l41 103l38 116l34 125l32 135l29 120l28 121l26 125l24 91l23 68l22 66l20 50l20 21l19 33l18 64l17-3l16 68l16 28l15 27l15 26l14 17l14 66l14 29l12 33l13-9l12 67l12 18l11 46l11 17l11 22l11 0l10 27l10 78l10-27l10-13l9 36l9 19l9 45l9 32l9 53l8-39l8 129l8-81l8-40l8 109l8 50l7-26l8-12l7 38l7 80l7 115l7-181l7 181l6-75l7 106l6-164l7 37l6 127l6 35l6 40l6-75l6 35l6 0l6 221l5-75l6 0l5 181l6-240l5 134l5 106l6-106l5-75l5 361l5 0l5 0l10 0l5 0l4-286l5 286l14-180l4 180l22-180l25 180l4-180l3 180l8 0l47 0" stroke="#000" stroke-width="11.5"/>
<path d="M1473 2507l454-526l211-206l139-100l103-44l83-5l69 21l59 43l52 62l46 76l41 90l38 101l34 106l32 120l29 119l28 115l26 107l24 97l23 77l22 57l20 41l20 42l19 31l18 50l17 14l16 37l16 41l15 20l15 27l14 44l14-2l14 31l12 38l13 31l12 25l12 20l11-20l11 40l11 4l11 78l10 9l10 12l10 24l10-11l9 6l9 43l9 99l9-77l9-3l8 104l8-49l8 7l8 55l8 0l8 42l7 22l8-6l7 68l7 55l7-17l7 75l7-49l6 72l7-23l6-83l7 83l6 90l6 33l6-33l6-29l6 120l6 0l6-40l5 115l6 31l5-31l6-27l5 27l5-27l6 0l5 27l5 287l5 0l5-75l5-146l5 0l5 221l4-75l5 0l5-59l4 59l5 181l4 180l5 0l8-361l5 75l4 286l8-180l9 180l4-180l8 0l3 180l12 0l19 0l14 0l7 0l55 0" stroke="#000" stroke-width="11.5"/>
<path d="M1473 2564l454-538l211-211l139-106l103-51l83-14l69 12l59 33l52 50l46 65l41 77l38 88l34 98l32 104l29 114l28 105l26 99l24 112l23 76l22 72l20 60l20 51l19 29l18 27l17 40l16 5l16 46l15 14l15 21l14 35l14 22l14 24l12 4l13 64l12 4l12 26l11-12l11 28l11 29l11 2l10 9l10 37l10 8l10 94l9-15l9 2l9 81l9-54l9 62l8-47l8 25l8 67l8 43l8-24l8 0l7 43l8 8l7 21l7 27l7 37l7-51l7 106l6-20l7 49l6 114l7-98l6 75l6-21l6-37l6 58l6 48l6-69l6 225l5-23l6-120l5 0l6 80l5-130l5 218l6-48l5 181l5 0l5-133l5 0l5 239l5-212l5-27l4 420l5-240l5 240l4-106l5-75l4-146l5 327l4 0l4-106l5-134l4 0l4 240l4-327l4 221l5 286l4 0l4-286l4-134l7 240l4 180l4-286l4 286l7 0l4 0l11-180l10 180l7 0l36 0" stroke="#000" stroke-width="11.5"/>
<path d="M1473 2611l454-540l211-215l139-112l103-58l83-22l69 4l59 24l52 40l46 54l41 66l38 77l34 85l32 93l29 100l28 100l26 108l24 101l23 83l22 70l20 82l20 54l19 37l18 18l17 36l16 30l16 31l15 18l15 30l14 23l14 27l14 5l12 26l13 9l12 30l12 3l11 17l11 23l11 11l11 41l10-4l10 18l10 27l10 1l9 12l9 10l9 9l9 22l9 65l8-25l8 12l8 51l8 25l8 22l8-11l7 57l8 20l7-12l7 6l7 28l7 84l7-42l6-22l7 130l6-22l7 0l6 59l6-6l6 84l6-49l6 15l6 62l6-62l5 62l6-19l5 40l6-21l5 0l5 96l6 66l5-130l5 0l5 112l5-48l5 66l5 19l5 127l4-58l5 133l5-75l4 35l5 146l4-264l5 264l4-106l4 106l5-59l4-122l4 256l4-134l4 59l5 0l4-59l4 240l4-287l3 181l4 0l4-134l4 240l4 180l4 0l3 0l4 0l7-286l4 286l7 0l3 0l4 0l3 0l4 0l3-180l7 180l10-180l31 0l9 180l17 0" stroke="#000" stroke-width="11.5"/>
<path d="M1473 2655l454-541l211-217l139-117l103-64l83-28l69-4l59 15l52 31l46 45l41 55l38 66l34 75l32 82l29 89l28 91l26 96l24 97l23 86l22 79l20 67l20 67l19 55l18 49l17 7l16 25l16 34l15 16l15 11l14 48l14 14l14 6l12-6l13 41l12 10l12 15l11 8l11 30l11-13l11 31l10 3l10 34l10-3l10 29l9 0l9 17l9 12l9-4l9 33l8 25l8-17l8 55l8 5l8-4l8 0l7 59l8-16l7 80l7-3l7 11l7 27l7 18l6 20l7 66l6-25l7 38l6 25l6-11l6 75l6-23l6 0l6 5l6 44l5-53l6 69l5 72l6 87l5-80l5 139l6-37l5-32l5 32l5 0l5 12l5-23l5 61l5 168l4 27l5-96l5 44l4 52l5-133l4 18l5 19l4 44l4-63l5 40l4 181l4-40l4 0l4 87l5-87l4 0l4 87l4-122l3 181l4 0l4-59l4 0l4 240l4-287l3 287l4 0l7 180l4-180l3-181l4 181l3 180l4 0l3 0l4-286l10 106l3-106l7 286l6-180l6 0l10 180" stroke="#000" stroke-width="11.5"/>
<path d="M1473 2712l454-550l211-223l139-122l103-69l83-35l69-11l59 8l52 23l46 35l41 47l38 56l34 64l32 72l29 78l28 83l26 83l24 93l23 83l22 81l20 68l20 74l19 62l18 38l17 47l16 19l16 30l15 12l15 23l14 17l14 0l14 27l12 17l13 10l12 10l12 7l11 8l11 4l11 10l11 12l10 18l10 7l10 30l10-1l9 23l9 6l9 9l9 15l9 16l8 4l8 1l8 27l8 33l8 28l8-7l7 9l8-3l7 67l7 15l7 29l7 32l7-6l6-6l7 18l6 78l7 22l6 12l6 24l6 8l6-8l6 16l6 31l6 16l5 0l6 45l5 30l6-17l5 68l5 11l6 51l5-14l5 44l5-15l5 49l5 49l5-11l5-38l4 97l5 27l5-106l4 79l5 13l4 99l5-70l4 33l4-33l5-15l4 212l4-164l4 106l4-69l5 249l4-228l4 75l4 212l3-287l4-21l4 127l4 122l4 0l4 134l3-134l4 420l4 0l3-286l4-75l3 181l4-240l3 59l4 361l3-180l4-106l3 286l7-286l10 286l3-180l3-240l3 420l10-180l9 180l12 0" stroke="#000" stroke-width="11.5"/>
<path d="M1473 2760l454-554l211-224l139-126l103-75l83-41l69-17l59 1l52 15l46 28l41 38l38 47l34 55l32 62l29 68l28 73l26 77l24 82l23 75l22 73l20 67l20 62l19 57l18 37l17 47l16 24l16 35l15 8l15 33l14 13l14-11l14 31l12 17l13-12l12 38l12-4l11 10l11 12l11 0l11 14l10 7l10 18l10-12l10 28l9-6l9 14l9 3l9 15l9 11l8 11l8 21l8 5l8 9l8 31l8 11l7-1l8 49l7-1l7 8l7 40l7 33l7-6l6 41l7 11l6 15l7 43l6 13l6 24l6 20l6-4l6 21l6 65l6 35l5-51l6 20l5 29l6 38l5 43l5-41l6 45l5 38l5-22l5 94l5-19l5-22l5 73l5-11l4-16l5 50l5 94l4 0l5-62l4-20l5 27l4 64l4 9l5 130l4-101l4 101l4 51l4 63l5-44l4-19l4-130l4 0l3 149l4-112l4 93l4 19l4 202l4 0l3-181l4-75l4 303l3-180l4 314l3-287l4-96l3 308l4 0l3-106l4 106l3-106l4 287l3-106l3-75l3 361l4-180l3-106l3-75l3 181l3 180l4 0l3 0l3 0l6-180l3 0l6-106l42 286" stroke="#0000ff" stroke-width="17"/>
<path d="M1473 2830l454-547l211-231l139-132l103-80l83-48l69-25l59-8l52 7l46 18l41 28l38 36l34 44l32 51l29 57l28 62l26 66l24 70l23 68l22 80l20 72l20 68l19 72l18 58l17 47l16 52l16 25l15 33l15 21l14 0l14 7l14 23l12-3l13 7l12-3l12 18l11-24l11 13l11 0l11 3l10 11l10 2l10-15l10 2l9 21l9 1l9 1l9 9l9-5l8 23l8 9l8-16l8 7l8 12l8 7l7 1l8 5l7 21l7-6l7 29l7-8l7 19l6 19l7 9l6-14l7 15l6 12l6 8l6 20l6 16l6-13l6 3l6 14l5 7l6 28l5 10l6-8l5 25l5 14l6-17l5 29l5 20l5-2l5 26l5-1l5 16l5 55l4-19l5-17l5 55l4-8l5 13l4 44l5-14l4 21l4 19l5-13l4 68l4-44l4 53l4 16l5-43l4 35l4 23l4 32l3 5l4-26l4 78l4-31l4 8l4 92l3-57l4 82l4 42l3-24l4 0l3 9l4 60l3-74l4 56l3 12l4 75l3 25l4-69l3 44l3-15l3 87l4 72l3 0l3 45l3 17l3 0l4 37l3 0l3 21l3-21l3-19l4 19l0 162l6-93l0-25l6-44l0 127l6 75l0 47l6-122l0 362l5-181l0-106l6-75l0 256l5 0l0-75l6-146l0 507l8 0l0-361l3 361l6 0l6 0l0-180l6-106l5 286l5 0l11 0l8 0l33 0" stroke="#000" stroke-width="11.5"/>
<path d="M1473 2908l454-544l211-233l139-140l103-86l83-54l69-32l59-15l52-1l46 10l41 19l38 27l34 34l32 41l29 46l28 52l26 55l24 58l23 63l22 63l20 68l20 56l19 64l18 55l17 54l16 48l16 41l15 18l15 24l14 5l14 22l14 14l12 20l13-13l12 6l12 4l11-9l11 0l11 12l11-1l10-14l10 13l10-3l10-1l9-1l9 5l9 12l9-5l9-13l8 15l8 9l8 6l8-1l8 11l8-5l7 7l8 11l7 0l7 17l7-2l7 10l7 10l6 7l7 5l6 12l7 18l6-5l6 14l6 19l6-20l6 21l6 1l6 13l5 14l6 8l5-9l6 31l5 17l5 1l6 18l5-7l5 24l5-2l5-3l5 38l5-21l5 14l4 27l5 0l5 31l4-5l5 30l4-22l5 40l4-9l4 33l5 31l4-1l4-3l4 22l4 19l5-16l4 37l4 6l4 25l3-13l4 34l4 0l4 29l4 21l4-17l3 3l4 20l4 50l3 6l4-8l3 57l4-30l3 22l4 44l3-55l4 107l3 3l4-38l3 87l3-8l3 25l4 14l3-55l3 85l3 45l3-29l4 77l3-66l3 143l3-10l3-75l4 31l0 44l6-9l0 40l6 11l0 24l6-12l0-44l6 56l0 71l5 0l0 35l6 40l0-106l5 66l0 221l6-40l0-35l5 35l0-118l5 118l0 221l5-134l0-87l6 0l0 87l5-47l0 106l5-59l0 240l5 0l0-287l4 47l0 420l5-180l0-106l5-221l0 507l5 0l6-361l5 181l0 180l5 0l4 0l0-180l6 180l4-286l13 106l4 180l4 0l13 0" stroke="#000" stroke-width="11.5"/>
<path d="M1473 3019l454-536l211-233l139-147l103-92l83-61l69-40l59-25l52-11l46-2l41 7l38 14l34 20l32 26l29 30l28 35l26 39l24 41l23 46l22 44l20 50l20 45l19 47l18 51l17 38l16 43l16 37l15 42l15 39l14 17l14 26l14 16l12 4l13 10l12 18l12 0l11-6l11 3l11 4l11 4l10-7l10-11l10-3l10 5l9-8l9 4l9-1l9 2l9-4l8 2l8 2l8 3l8-8l8 9l8-1l7 11l8 5l7-3l7 12l7 14l7 8l7-1l6 9l7 5l6 8l7 11l6 4l6 6l6 0l6 18l6-8l6 20l6-1l5 1l6 19l5-1l6 10l5 1l5 18l6 1l5 15l5 2l5 16l5-7l5 14l5-1l5 13l4 6l5 27l5 4l4 13l5-1l4 15l5 6l4 17l4 8l5 21l4-13l4 21l4 4l4-3l5 21l4 34l4 1l4 18l3 0l4-14l4 18l4 31l4 17l4-8l3 5l4 38l4 21l3-1l4-3l3 27l4 6l3-18l4 39l3 35l4 8l3-10l4 33l3 22l3-15l3 14l4 40l3-26l3 21l3 41l3-19l4 34l3-42l3 100l3-47l3 30l4 31l0 12l6 38l0-79l6 27l0 33l6 37l0 51l6 4l0 81l5-52l0-13l6 35l0 69l5-12l0-62l6 93l0 6l5 0l0 44l5 0l0 43l5 9l0-52l6 16l0 102l5-24l0 79l5-55l0-12l5 12l0 26l4 99l0 21l5 0l0-40l5 19l0 21l5-21l0-19l4 181l0 146l5-181l0-106l5-21l0 96l4 0l0-27l5 93l0 40l4 47l0 240l4-106l0-181l5 0l0 106l4 181l6 180l0-361l6 75l0 106l4 180l5-286l0-75l6 361l5 0l4 0l5-180l11 0l3 0l3 180l10 0l29 0" stroke="#000" stroke-width="11.5"/>
<path d="M1473 3304l454-553l211-244l139-154l103-98l83-74l69-53l59-41l52-29l46-20l41-12l38-7l34-2l32 2l29 6l28 10l26 11l24 15l23 16l22 18l20 20l20 23l19 16l18 19l17 20l16 23l16 26l15 23l29 37l28 36l25 28l24 26l22 13l22 3l20-1l20-3l18-2l18-7l17-1l16-4l16 11l15 5l22 10l21 24l19 17l19 19l18 18l17 18l17 17l5 5l5 16l6-6l5 17l5 8l7 4l0 8l10-1l0 13l10 7l0 17l9-1l0 14l9 6l0 7l9 2l0 18l9-1l0 25l9 5l0-17l8 30l0 5l8 5l0 13l9 8l0 15l8 2l0 25l7-6l0 14l6 8l4 10l4 5l3 11l4 27l4-7l3 15l4 7l3 2l4 45l3-13l4 20l3 0l4 25l3 9l4 15l3 0l3 7l3 3l4 22l3 12l3 7l3 24l3-17l4 31l3 13l3 10l3 9l3 17l4 22l0 8l6 4l0 5l6 16l0 36l6-7l0 27l6-2l0 5l5 3l0-13l6 35l0 48l5-19l0 39l6 4l5 24l0 17l5 3l0 33l5 5l0 11l6 0l0 11l5 47l0 38l5 2l0-15l5 10l0 22l4-11l0-8l5 50l0 27l5 27l0 4l5 17l0 27l4 42l0 12l5-58l0-23l5-13l0 77l4 42l0 13l5 53l0 18l4 9l0-80l4 120l0 35l5 0l0-24l4 24l0 55l4 0l0-90l4 35l0 13l4 42l0 166l5 0l0-133l4 0l0 81l4 0l0-44l4 96l4-27l0 133l4-133l0-48l3 75l0 66l4-35l0 181l4-59l0-180l4 27l0 287l4 106l0-362l3 75l0 181l4 0l0-75l4 75l0-181l3 181l0 106l4 180l0-361l3 75l0 286l3-180l4 0l0 180l5 0l0-180l6 180l4 0l5 0l6 0l0-180l8 0l0 180l2 0l6 0l2 0l6-180l5 180l3 0l6 0l19 0l15 0" stroke="#ff0000" stroke-width="17"/>
<path d="M1473 4071l454-651l211-266l139-188l103-79l83-111l69-66l59-50l52-53l46-38l41-37l38-34l34-25l32-25l29-13l28-21l26-15l24-19l23-10l22-13l20-12l20-8l19-6l18-10l17-3l16-1l16-9l15 0l29-4l28 2l25-3l24-5l22 5l22-6l20 4l20-9l18 3l18-5l17 1l16 8l16 3l15 9l22 15l21 16l19 19l19 25l18 15l17 12l17 23l16 13l15 28l20 27l18 33l7 8l9 15l0 7l9 4l8 15l0 6l8-1l0 14l9 6l0 6l8 8l0 20l7 3l0-9l8 30l8 9l0 14l7-3l0 13l7 13l8 17l0 6l7 8l0 13l7 10l0 12l6-3l6 24l3 0l3 13l3 4l4 25l3-5l3 11l3 15l3 5l4 12l3 9l3 2l3 12l3 4l4 19l0 13l6 6l6 25l0 8l6 10l6 11l0 6l5 12l6 2l0 45l5-7l0 16l6-7l0 27l5 17l0-36l5 37l5 26l6 19l0 18l5 6l0 7l5-5l5 42l0 14l4 5l0 25l5 6l0-25l5 9l0 22l5 19l0 6l4 26l0-52l5 57l5 20l0 19l4 5l0 9l5 41l0 17l4-2l0-13l4-6l0-23l5 40l0 42l4-5l0-17l4 63l0 9l4-18l0 84l4-26l0-46l5-15l0 40l4 23l4 12l0 33l4-5l0 67l4 11l0-46l4 25l0 16l3 0l0 42l4 20l0-45l4-6l0 58l4-27l0-48l4 90l3 8l0 144l4-26l0 55l4-67l0-63l3 101l0 99l4-181l0-37l3 9l0 72l4-12l0 24l3 125l0 44l4-98l0-31l3-14l0 99l4 0l3-37l0 239l3-158l0-169l4 252l0 122l3-47l0-106l3 106l0 106l3-146l0-141l4 48l0 133l3 0l3 0l0-106l3 31l0 122l3 0l3 0l0 59l3 0l0-106l3-75l0 181l3 75l4-134l0 420l5 0l0-467l4 106l0 181l4 180l0-361l5 75l0 286l4-180l7 180l4 0l4 0l0-180l4 180l4 0l6 0l0-180l3 180l5 0l6 0l6 0l9 0l11 0l12 0l11 0" stroke="#000" stroke-width="11.5"/>
<path d="M1473 4516l454-574l211-188l139-143l103-132l83-76l69-94l59-64l52-86l46-56l41-53l38-26l34-39l32-27l29-38l28-35l26-13l24-39l23-23l22-19l20-26l20-10l19-6l18-23l17-12l16-28l16-11l15-12l15-18l14-10l14-12l14-8l12-13l13 3l12-19l12-11l11-7l11-12l11-9l11-15l20-16l20-13l18-30l18-9l17-19l16-14l16-5l15-11l22-4l21-4l19-8l19-3l18-10l17 1l17-2l16-3l15-4l20 3l18-4l18 1l17 5l17 12l15 0l16 3l18 22l17 2l17 10l16 20l16 14l18 21l17 22l16 16l7 7l0 6l5 10l0 7l5 1l6-1l0 10l5 5l6 8l0 8l7 6l7 5l0 11l8 7l0 14l7-5l0 10l6 14l7 3l0 29l7-6l6 21l0 7l7 7l6 12l6 2l0 19l7 12l0 10l6-5l0 15l6 12l0 18l5-2l0-9l3 7l0 14l4 8l0 14l4-7l0-4l4 9l0 30l4-8l0-4l3 14l0 16l4 4l0 8l4 6l0-17l3 10l0 22l4 6l0-13l4 18l3-14l0 27l4 1l0 10l3 0l0 13l3-3l0 41l4-13l0-21l3 14l0 9l4 22l0 5l3 11l0 8l3 8l4 2l0 9l3-2l0 17l3 1l0-8l3 9l0 18l3 17l0 7l4-3l0 14l3 13l0-30l3 32l0 9l3-5l0 20l3-1l0-15l3 35l0 11l4 21l0-59l4 46l0 36l5 18l0-40l4 33l0 25l4 1l0-16l5 25l0 53l4-31l0-35l4 26l0 75l4 8l0-27l4 29l0 27l4-2l0-22l4 47l0 45l4-19l0-32l4 8l0 50l4-9l0-10l4 32l0 37l4 3l0-18l4-5l0 70l4-11l0-10l3 32l0 60l4-23l0-37l4 16l0 116l3 13l0-94l4 35l0 28l4-12l0 50l3-32l0 94l4 9l0-142l3 16l0 100l4-23l0 98l3 35l0-75l3-18l0 37l4 56l0 26l3-72l0-38l3 110l0 45l4-16l0-67l3 38l0 143l3 0l0-63l3-51l0 114l4 25l0 58l3 75l0-202l3-37l0 286l3 0l0-205l3 52l0 153l3 0l0-228l3 106l0 181l3-59l0-153l4 106l0 181l4-134l0-87l4 0l0 146l3-146l0 507l4-180l0-181l4-106l0 467l4 0l0-420l4 240l0 180l4 0l0-180l3-106l0 286l5 0l0-286l3 106l0 180l4 0l3 0l0-286l4 286l4 0l0-180l3 180l4 0l5 0l3-180l7 0l0 180l11 0l4 0l11 0l7 0" stroke="#000" stroke-width="11.5"/>
<path d="M1473 4696l454-286l211-256l139-226l103-119l83-62l69-191l59-16l52-43l46-67l41-72l38 11l34-53l32-53l29-10l28-58l26-32l24-37l23-3l22-44l20-32l20-16l19-22l18-19l17 9l16-37l16-5l15-9l15-33l14 0l14-7l14-10l12-27l13-11l12-1l12-27l11-6l11-11l11-13l11 0l10-23l10-22l10 2l10-29l9-13l9 11l9-32l9-7l9-11l8-11l8-10l8-11l8-8l8-7l8-4l7-4l8-8l7-1l7-5l7-8l7-1l7-6l6-5l7 5l6-2l7-12l6 5l6-3l6-7l6 2l6-8l6-2l6-2l5-5l6-6l5-10l6 2l5-5l5 4l6-14l15-1l20-19l18-12l18 2l17-16l17 4l15-12l16-1l18-2l17 0l17-4l16 4l16 0l18 7l17 3l16 15l16-1l15 16l17 4l15 9l0 6l6 11l7-1l0 10l7 3l0-10l6 13l0 9l7 2l0-8l6 9l0 7l6 1l0 7l7-7l0 24l6-4l0 8l6 5l0-10l6 12l0 7l5 4l0 9l6-9l0 19l6-5l0 11l5 0l0 4l6-2l0 14l5 1l0 13l6 0l5 7l0 12l5 3l5-2l0 13l5 5l0 12l6-4l0 14l7-3l0 23l6-4l0 9l7 21l5 3l0 4l3 3l0 9l3 3l0-12l3 13l0 13l3 13l3 2l0-14l4 4l0 19l4 10l0 6l5-1l0 14l4 2l0 9l4-1l0 15l5 2l0 18l4-3l0 7l4-6l0 14l4 0l0 39l4-12l0-14l4 15l0 24l4-3l0 21l4-4l0 13l4-6l0 30l4 8l0-34l4 25l0 24l4 15l4 13l0-32l4 7l0 48l3-14l4 14l0 11l4 6l0 12l3 4l0 9l4-5l0 26l4-3l0 25l3 3l0-7l4 10l0 35l3 2l0-15l4-19l0 74l3 7l0-47l3 34l0 39l4-16l0-22l3 6l0 26l3 2l0 23l4-3l0 46l3 2l0-24l3-3l0 38l3-10l0 41l4-13l0 31l3-10l0-10l3 10l0 36l3 0l0 24l3 11l0-23l3 5l0 76l3 0l0-58l3-3l0 74l4 33l0-85l4 26l0 44l4 7l0-51l4 71l0 49l3 49l0-125l4 71l0 60l4-39l0 100l4-15l0-124l4 49l0 83l3-60l0 137l4 10l0-64l4-8l0 72l3-10l0-46l4-8l0 150l3 0l0-14l4-82l0 225l3-44l0-160l4 35l0 88l3-17l0 75l3 0l0-120l4 62l0 239l3 47l0-303l3 54l0 383l4-134l0-286l3 58l0 287l3 181l0-420l3 58l0 256l4 0l0-221l3-66l0 393l3-181l0-212l3 153l0 240l3-181l0-146l3 87l0 420l3 0l0-420l3 59l0 361l4 0l0-361l4-59l0 420l4 0l0-286l3 0l0 286l3 0l0-180l4 180l0-420l7 420l3 0l4 0l0-180l3 180l5 0l5 0l4 0l3 0l7 0l5 0l10 0l9 0l26 0" stroke="#000" stroke-width="11.5"/>
<path d="M1927 4335l211 181l139-420l103-48l83-146l69 13l59-139l52-36l46-80l41-9l38-91l34 0l32-52l29-11l28-58l26-30l24 19l23-28l22-57l20-61l20-17l19-6l18 8l17-75l16 24l16-22l15-43l15 7l14-20l14 3l14-25l12-23l13-4l12-10l12-14l11-23l11-5l11-30l11-8l10-9l10-9l10-22l10-8l9-20l9 9l9-34l9-15l9-4l8-19l8 13l8-39l8-7l8 5l8 1l7-23l8 6l7-14l7-7l7 5l7 3l7-16l6-14l7-1l6-4l7-7l6-4l6 9l6-14l6-12l6-7l6 5l6-10l5-7l6-13l5 2l6-9l5-2l5 3l6-14l5-6l5-3l7-4l0-6l10-2l0-4l10 1l0 4l9-10l0-6l9-4l9-5l0-4l9-3l0-7l9-1l0-11l8 3l8-4l0-12l9 2l0 5l8-6l7-11l0-4l8 4l7-11l8-6l7 2l7-6l0-7l7 2l0 11l7-12l7-1l0-7l6 1l0 6l7-10l0-5l6 1l0 7l7-4l6-3l0-6l6 1l0-7l6 4l0-8l6 4l0 4l6-4l0-8l6 5l0 14l6-11l0-5l5 0l6-2l5 0l6-3l5-6l0 13l6-8l5 1l5-5l5 2l6-2l0 6l8 2l0-7l7 2l0 6l7-5l0-5l7 2l0 11l7-4l0-5l7-2l0 8l7 2l6-4l0 8l7 3l0-8l6-4l0 10l6 3l7 3l0-10l6 7l0 7l6-2l0 7l6-2l0-7l5-1l0 10l6 0l0 6l6-2l0 5l6-4l0 9l5-3l0 10l5 5l0-15l6 7l0 7l5 1l0 5l5-1l0 7l6 3l5-1l0 13l5 1l0-18l6 13l0 11l6-1l0 14l7-4l0 12l6 4l0-8l6 5l0 12l6-1l0 10l6-1l0 9l6 3l6 7l0 9l6-6l0 19l6 5l0-10l6 12l0 17l5-10l0 22l6 6l0-14l5 6l0 10l5 3l0 8l6 12l0 9l5-5l0 15l4-7l0 21l4-3l0 8l4-3l0 8l4 3l0 12l4 6l0-19l3 9l0 18l4 4l0-14l4 22l0 16l3-3l0 13l4 2l0-15l3 10l0 17l4 0l0-18l3 18l0 15l4-6l0 17l3 0l0 12l4 7l0-16l3 13l0 21l3 6l0-17l4 23l0 12l3 4l0-12l3 8l0 15l3-4l0 8l4 20l0 5l3 0l0 29l3-2l0-5l3 9l0-23l3 16l0 20l3-10l0 24l3 0l0-5l3-11l0 30l3-22l0 45l4-16l0 37l4 8l0-25l4 21l0 22l4-12l0 26l3 5l0 27l4 13l0-43l4 11l0 47l4 26l0-54l3 11l0 58l4-3l0-23l4 6l0 96l3-45l0-19l4 12l0 27l4 22l0 17l3 23l0-46l4 12l0 83l3 0l0-65l3 23l0 62l4-7l0-46l3 61l0 47l4-3l0-68l3 39l0 70l3-4l0-61l3 45l0 33l4 11l0-47l3 58l0 24l3 9l0-68l3 55l0 61l3 27l0-92l4-20l0 95l3-45l0 143l3-57l0-30l3-32l0 82l3 22l0-83l3 29l0 103l4-34l0 118l4 13l0-194l3 40l0 95l4-10l0 127l4 75l0-192l3-38l0 155l4-58l0 208l3-96l0-112l4 42l0 378l3-146l0-247l3 31l0 123l4-69l0 249l3-87l0-141l4 0l0 181l3 0l0-106l3-27l0 239l3 181l0-362l4 35l0 221l3-75l0 181l3 180l0-420l3 0l0 240l3-106l0 286l3 0l0-361l3 0l0 361l4 0l0-286l3 0l0 286l3 0l0-180l4 180l0-361l5 181l0 180l4 0l0-180l3 180l0-420l4 420l4 0l3 0l0-180l7 180l4 0l2-180l7 180l6 0l7 0l3 0l9 0l17 0l12 0" stroke="#000" stroke-width="11.5"/>
<path d="M2138 4516l139-362l103 362l83-287l69-75l59-106l52-192l46 86l41 0l38-202l34 21l32-85l29-44l28-8l26-9l24-45l23-36l22 39l20-98l20-5l19-40l18 24l17-18l16-29l16 7l15-76l15 14l14-15l14-38l14-14l12-22l13-23l12 7l12-9l11-56l11 25l11 14l11-41l10-27l10 6l10-15l10-41l9 26l9-50l9-9l9 9l9-17l8-25l8-3l8-12l8 8l8-22l8-13l7-4l8-16l7 2l7 7l7-38l7 1l7 1l6-1l7 3l6-20l7-3l6-3l6-4l6-21l6-5l6 4l6-4l6-8l5-14l6-4l5 11l6-19l5-13l5 5l6-4l5-16l5 13l5-15l5-9l5-8l5 0l5 3l4-23l5 16l5-6l4-8l7-11l0-6l9-7l0-4l9 0l8-11l0-8l8 4l0 11l9-8l0-5l8-4l7-11l0-5l8 12l0-26l8-4l0 14l7-7l0-10l7-6l8-4l7 1l7-13l6 3l0-11l7 4l7-10l6-1l0-8l7-1l0 9l6-2l0-13l6-1l6-3l6 2l6-8l0-6l6 2l0-5l6 4l0-14l6 1l0 7l5-9l6-7l0-6l5 2l0 7l6-2l5 1l0-11l5-4l0 9l5-4l0 10l6-10l0-7l5 9l6-3l0-6l7 2l0-4l7 1l0-7l8-3l0 8l7-8l0-5l6 1l0 4l7-2l0-5l7 2l0 7l6-6l0-5l7-1l0 8l6-7l6 0l0 7l7-7l0-9l6 6l0 7l6 2l0-12l6 3l0 12l5-9l0-8l6 9l6 1l0-7l5-6l0 21l6-7l0-8l5 3l0 5l6-1l0 7l5-6l5-1l0 14l5-5l0-10l5 4l0 10l6 6l0-17l7 3l0 9l6 6l0-13l7 0l0 15l6-9l0 19l6-5l0-6l6 6l0 8l6-2l0-5l6 4l0 8l6-4l0 15l6 3l0-10l6 1l0 10l5-2l0 9l6 5l0-10l5-2l0 13l6-3l0 15l5 4l0-14l5 1l0 20l6-7l0 19l5 6l0-19l5 8l0 9l5-2l0 14l6-1l0 18l7 6l0-12l6 8l0 12l5-11l0 24l6 10l0-22l6 19l0 7l6-1l0 16l5 0l0 22l5-3l0-12l3 19l3-4l0 24l3-7l0-11l4 10l0 14l3-6l0-9l3 5l0 11l3 3l0 18l3 3l0-16l3 14l0 8l3-3l0-4l3 16l0 10l4 8l0-18l4 16l0 12l4-3l0 27l4 0l0-15l4-2l0 42l3-6l0-15l4 3l0 34l4 16l0-33l4 20l0 12l3-14l0 29l4 5l0-11l4 8l0 25l3 4l0 10l4-5l0 12l3-7l0 18l4 9l0-21l3 11l0 36l4-7l0 14l3-4l0 18l4-6l0 29l3-16l0 37l3-6l0-40l4 32l0 21l3-5l0 50l3-22l0-21l3 10l0 42l4-6l0 25l3 5l0-21l3 2l0 52l3 3l0-28l3-6l0 42l3-7l0 31l3 18l0-59l3 26l0 64l3-9l0-37l4 6l0 59l3 5l0-48l4 28l0 73l4 24l0-72l3 17l0 38l4-11l0 28l3-26l0 65l4 33l0-74l4 4l0 98l3 21l0-58l3-16l0 81l4 40l0-81l3 7l0 101l4 14l0-88l3 38l0 26l3 29l0-71l3 33l0 89l4 26l0-55l3 11l0 66l3 23l0-77l3 19l0 35l3 49l0 97l4 27l0-142l3-39l0 196l3-67l0-81l3 37l0 56l3-110l0 235l3-200l0 402l4-133l0-218l3 37l0 239l4 35l0-181l3 19l0 96l4-27l0-123l3 75l0 106l4 75l0-256l3 98l0 264l3-106l0-106l4 66l0 146l3 181l0-393l3 31l0 256l3-134l0 420l4-180l0-327l3 87l0 240l3 180l0-507l3 87l0 420l3 0l0-361l3 0l0 361l3-180l0-181l3 0l0 181l4 180l0-361l5 181l0 180l3 0l0-180l4 0l0 180l4 0l0-286l5 286l3 0l4 0l5 0l3-180l5 180l5 0l0-286l13 286l4 0l8 0l9-180l6 180l49 0" stroke="#000" stroke-width="11.5"/>
<path d="M1927 4696l350 0l103-180l83-240l69 59l59-106l52 287l46-362l41-83l38-114l34-29l32 62l29-88l28-126l26 42l24-18l23-66l22-13l20-66l20 26l19-40l18-30l17-16l16-29l16-38l15 15l15-43l14-21l14 0l14-12l12-24l13-64l12 34l12 17l11-25l11-2l11-21l11-29l10 11l10-18l10-15l10-21l9-8l9-19l9-52l9 24l9-11l8-34l8-17l8 19l8-37l8 13l8-6l7-27l8-10l7-9l7-9l7 15l7-30l7 14l6 12l7-23l6-24l7-14l6 7l6 2l6 13l6-19l6-24l6 3l6-3l5-12l6 3l5-10l6-5l5-18l5-7l6 10l5-15l5-6l5 3l5 4l5-24l5 5l5-19l4 6l5-21l5 2l4-8l5 12l4-17l5-14l4 2l4-21l5-4l4 5l4 3l4-5l4 3l5-14l4-3l4 10l4-17l3 2l4-11l4-3l4 1l4-11l4-1l3 3l4-13l4 3l3 1l4-5l3-22l4 14l3-10l4-11l3 1l4 3l3-15l4 11l3-8l3-10l3-5l4 0l3 7l3-8l3-13l3 12l4-2l4-1l6-11l0-14l6 13l6-5l0-10l6 2l6 1l0-6l6 3l0-13l5-4l0 10l6-6l0-12l5 0l0-11l6 2l0 9l5-7l5 1l0-15l5 1l0 7l6 0l0-19l5-5l0 19l6 7l0-26l7 2l0 7l7-9l8-9l0-6l7 1l0 11l6-12l7 2l0-13l7-2l0 12l6-10l0-10l7 0l0 7l6-1l0-11l6-2l0 7l7 0l0-9l6 0l0 8l6-5l0-10l6 6l0-13l5 6l0 9l6-10l0-13l6 5l0 9l5-2l0-10l6-3l0 10l5-2l6 4l0-13l5 6l5 5l0-14l5 0l0 9l5 2l0-9l6 5l0-10l7-5l0 24l6-15l0-8l7 2l0 5l6 4l0-11l6 2l0 8l6 4l0-16l6 1l0 16l6-4l0-8l6 0l0 13l6-8l6 2l0 5l5 5l0-12l6 6l0 7l5-1l0-5l6 1l0 13l5 7l0-22l5 7l0 11l6-4l0-7l5 0l0 9l5 3l0-7l5 1l0 13l6 5l0-10l7 1l0 11l6-1l0 12l5-5l0-6l6-2l0 22l6-2l0-9l6 4l0 20l5-3l0-10l6 5l0 15l5-6l0 15l6 7l0-19l5 11l0 11l5-9l0 22l5-5l0-9l5 9l0 13l6-6l0 18l6-4l0 14l6-9l0 17l5-3l0 12l5 5l0-11l4 16l0 6l4-12l0 24l3-9l4 6l0 10l4-11l0 22l3-2l0 6l4 0l0 8l3-4l0 21l4 3l0-23l3 15l0 12l4-3l0 15l3-1l0-20l4 21l0 15l3 1l0-6l3 6l0 26l4 4l0-32l3 23l0 21l3-4l0-10l4 8l0 16l3-1l0 15l3-11l0 25l3 9l0 5l3-11l0-10l3 22l0 9l3-1l0-21l4 11l0 31l3-11l0 38l3 1l0-42l3 12l0 47l4 10l0-45l3 29l0 26l4-4l0 21l4 14l0-38l3 15l0 34l4-11l0 23l3-28l0 57l4 19l0-56l3 28l0 39l4 0l0-41l3 13l0 33l4-5l0 20l3-12l0 64l3 12l0-64l4 35l0 17l3-10l0 30l3 1l0 23l3 12l0-48l3 18l0 37l4-7l0 22l3-13l0 49l3 11l0-50l3 32l0 31l3-17l0 118l3-19l0-101l3 36l0 65l3-3l0-34l4-11l0 58l4 29l0-64l3 27l0 98l4-15l0-64l3 27l0 56l4-33l0 75l3 14l0-71l3 44l0 53l4 0l0-108l3 82l0 66l3-24l0 87l4 52l0-133l3 24l0 100l3-9l0-78l3-13l0 215l3-40l0-66l4 31l0 123l3-48l0-142l3 67l0 90l3 33l0-134l3 0l0 240l3 0l0-194l3 55l0 139l4 93l0-232l3 51l0 181l4 146l0-327l3 40l0 141l3-93l0 314l4-134l0-268l3 88l0 420l3 0l0-327l4-35l0 362l3 0l0-445l3 25l0 600l3 0l0-507l3 146l0 361l3 0l0-467l4 106l0 361l3 0l0-286l4 0l0 286l3 0l0-286l4 0l0 286l3 0l4 0l4 0l0-286l3 286l4 0l5 0l0-180l3 0l4 180l3-180l10 180l3 0l5 0l3 0l5 0l9 0" stroke="#000" stroke-width="11.5"/>
<path d="M2277 4696l103-180l83 180l128-420l52-180l46 180l41-47l38-40l34-181l32 115l29 0l28-150l26 75l24-106l23-40l22 0l20-118l20 72l19-47l18-82l17 82l16-9l16-79l15 79l15-24l14-84l14 29l14-40l12-97l13-14l12 58l12-25l11-4l11-56l11 56l11-39l10-26l10-74l10 5l10 0l9 2l9-22l9-32l9 32l9-40l8-7l8 7l8-33l8 7l8-2l8-21l7-3l8-12l7-4l7-43l7 1l7 6l7-13l6-17l7-1l6-13l7-6l6-2l6-10l6 52l6-64l6 15l6 0l6-22l5-24l6 7l5-9l6 5l5-13l5 4l6-28l5 21l5-5l5-23l5-15l5 38l5-34l5-20l4-6l5 3l5 9l4-9l5-7l4 4l5-22l4-3l4-9l5-13l4-9l4 13l4-10l4-20l5-5l4 3l4 8l4-16l3 0l4-18l4 28l4-1l4-12l4-19l3-7l4 9l4 0l3-17l4-5l3 0l4-17l3 11l4-7l3-22l4 36l3-12l4-9l3-15l3 1l3-9l4 0l3 5l3 9l3-29l3 10l4-13l3 15l3-25l3 11l3 0l4-10l6-6l0-14l6-10l0 27l6-13l6-9l0-12l5 2l0 5l6-3l0 8l5-12l0-8l6 1l0 6l5-6l0-11l5-2l0-21l5 4l0 19l6-4l0-10l5 0l0 7l5-11l0-6l5 13l0 7l4-25l0-10l5-5l0 16l5-4l0-6l5-6l0-11l4 7l0-13l5 13l0 7l5-10l0-17l4 3l0-10l5 10l4-3l0-12l4 2l0 5l5-2l0 7l4-10l0-6l5 1l0 13l6-5l0-23l7 2l0-5l6-3l0 8l6 4l0-19l6-3l0 9l5 0l0-17l6 3l0 8l6-3l0-8l5 3l0-15l6 3l0 16l5-12l0-6l6 0l0-14l5-4l0 24l5-12l5 2l0-11l5 7l0-15l6 4l0 5l7 1l0-10l6-1l0 10l7-9l0-10l6-5l0 14l6-6l0-10l6-2l0 14l6-1l0-16l6-4l0 8l6 3l0-14l6 5l6 4l0-17l5 2l0 22l6-12l0-12l5-2l0 15l6-4l0-9l5-1l0 22l5-10l0-8l6-1l0 8l5 1l0-18l5 4l0 14l5-1l0-12l6 4l0 13l7-3l0-19l6-4l0 22l5 1l0-17l6 5l0 11l6 1l0-13l6 1l0 22l5-6l0-15l6-3l0 24l5-9l0-9l6 3l0 13l5 3l0-15l5 8l0 7l5-7l0 21l5 8l0-18l6 4l0 6l6-6l0 12l6-3l0 14l5-6l0-14l6 10l0 6l6-13l0 31l5-8l0-12l6 3l0 26l5 4l0-17l6 9l0 17l5 2l0-18l5-1l0 19l5-4l0 15l5 8l0-22l6 6l0 25l4 1l0 13l3-5l0-15l4 2l0 22l3-8l0 18l3 8l0-19l3-8l0 27l3-9l0 18l4 5l0-15l3 4l0 11l3 10l0-22l3 2l0 17l3-2l0 7l3 1l0 17l4 0l0-16l4 18l0 15l3-7l0-16l4 17l0 16l4-13l0 35l3 2l0-22l4 9l0 12l3 4l0 4l4-2l0 10l3 5l0 15l3-9l0 25l4 2l0-21l3 5l0 22l4 9l0-22l3 9l0 26l3-11l0 23l3-11l0 28l4-6l0-19l3 18l0 18l3 8l0-21l3 4l0 28l3-22l0 49l3 12l0-34l3 13l0 19l4 1l0-19l3 21l0 16l3 16l0-34l3 21l0 25l3 10l0-32l4 10l0 45l3-10l0 52l4-3l0-33l3 1l0 30l4 14l0-39l3 40l0 20l4-27l0 81l3-8l0-40l3-1l0 35l3-12l0 39l4-25l0 55l3 44l0-92l3 26l0 84l3-18l0-30l4-7l0 69l3 26l0-84l3 33l0 51l3-7l0-47l3 13l0 106l3-14l0-62l3 39l0 32l3-56l0 122l4-10l0-86l3 38l0 89l4-4l0-54l3 13l0 110l3 16l0-93l4 0l0 155l3-33l0-89l3 19l0 96l3 29l0-135l4 35l0 133l3 58l0-140l3 34l0 106l3 48l0-181l3 66l0 102l3 40l0-150l3 35l0 115l3-64l0 149l4 44l0-129l3-64l0 276l3-106l0-146l4 88l0 199l3 0l0-199l3 58l0 141l4 87l0-228l3-58l0 345l3-59l0-205l3 0l0 445l3-240l0-122l4-58l0 600l3 0l0-542l3 75l0 467l3 0l0-420l3-122l0 542l3-286l0-134l3-153l0 573l3 0l0-420l3 134l0 286l4 0l0-361l3 181l0 180l3 0l0-180l3 0l0 180l4 0l0-180l3-106l0 286l4 0l0-180l4 0l0 180l3 0l0-361l2 181l0 180l3 0l4 0l7 0l7 0l5 0l6 0l6 0" stroke="#000" stroke-width="11.5"/>
</g>
<g transform="scale(0.1)" fill="none" stroke-linejoin="round">
<path d="M6367 2303l450-511l210-180l137-68l103-5l83 37l68 69l59 95l51 117l46 136l41 158l37 162l34 173l31 171l30 179l27 121l26 122l24 102l23 98l21 23l21 92l19 16l19 48l18 52l17 153l16-50l16 56l15 157l15-63l14-52l13 137l14 63l12-51l13 66l12 33l12 37l11 20l11 105l11 122l10-179l11 92l10-65l9 152l10 58l9 74l9 105l9-284l9 179l8-132l9 58l8 74l8 105l8 0l15 0l8-105l42 0l25 285l13 0l35 0l27 0l67 0" stroke="#000" stroke-width="11.5"/>
<path d="M6367 2351l450-516l210-187l137-77l103-16l83 24l68 56l59 80l51 101l46 119l41 134l37 149l34 155l31 170l30 138l27 142l26 120l24 79l23 93l21 49l21 41l19 27l19 58l18 94l17 43l16-2l16 79l15 6l15 73l14-23l13 49l14 43l12 95l13-22l12 54l12 58l11-21l11 32l11 12l10 0l11 204l10-87l9 19l10 247l9-87l9-117l9 52l9-52l8 262l9-105l8-75l8 0l8 539l8-180l7-179l8-58l7 132l7 285l7 0l7-180l14 0l6-105l7 285l6-285l6 285l7-180l6 180l6-285l6 105l6 180l5 0l6 0l11-180l6-105l16 285l88 0l9 0" stroke="#000" stroke-width="11.5"/>
<path d="M6367 2399l450-521l210-193l137-85l103-26l83 13l68 43l59 67l51 86l46 103l41 118l37 130l34 142l31 137l30 145l27 124l26 127l24 75l23 57l21 64l21 51l19 59l19 23l18 31l17 93l16 22l16 39l15-2l15 67l14-6l13 131l14-9l12 18l13 100l12-18l12-55l11 93l11 50l11-34l10 0l11 67l10 30l9-8l10 137l9-68l9 110l9-29l9 45l8 74l9-90l8 0l8 70l8 20l8 48l7 132l8-157l7 52l7 65l7-35l7 35l7 40l7 0l6-105l7 389l6 180l6-180l7-105l6 0l6 0l6 0l6 0l5 0l6 105l17-105l5 0l5 105l6 180l5-180l20 0l5 0l5 180l14 0l4 0l5-180l18 180" stroke="#000" stroke-width="11.5"/>
<path d="M6367 2449l450-527l210-199l137-92l103-35l83 3l68 32l59 54l51 73l46 88l41 103l37 114l34 123l31 133l30 126l27 127l26 115l24 85l23 57l21 70l21 34l19 61l19 43l18 22l17 14l16 61l16 29l15 13l15 42l14 44l13 22l14 53l12 14l13 21l12 76l12-66l11 76l11 0l11 49l10 28l11 18l10 38l9-27l10 40l9 82l9 6l9 0l9 0l8 33l9 72l8-9l8 72l8-81l8 69l7 24l8-84l7 96l7 93l7-18l7 0l7-17l7 0l6 54l7 200l6-105l6-165l7 113l6 117l6 87l6 0l6 0l5-47l6 284l6-179l5-58l6 237l5-105l5-219l6 219l5 285l5-180l5-179l5 359l5-180l5 180l5-180l4 0l5 180l5-359l4 179l5 0l9 0l9 180l4 0l4 0l13-180l12 180l12 0l4 0l7 0l40 0" stroke="#000" stroke-width="11.5"/>
<path d="M6367 2491l450-525l210-204l137-99l103-43l83-6l68 21l59 43l51 61l46 76l41 89l37 100l34 108l31 119l30 116l27 119l26 110l24 87l23 63l21 77l21 50l19 9l19 54l18 34l17 25l16 31l16 50l15 16l15 30l14-1l13 27l14 35l12 12l13 25l12 57l12 30l11 0l11 43l11-1l10 59l11-4l10 10l9 47l10 0l9 57l9-33l9 57l9 3l8-18l9 6l8 83l8 31l8 15l8 32l7 37l8-6l7 0l7 66l7 8l7-32l7 60l7 53l6-72l7 38l6 133l6 0l7-17l6 74l6-105l6 180l6-132l5 0l6 80l6-62l5 62l6 52l5 105l5-40l6-117l5 204l5-247l5 200l5-132l5 596l5-417l5 0l4 58l5 179l5-237l4 237l5 180l4-417l5 58l4 179l5 0l4-179l4 0l4 74l9 285l4-180l4 0l4 180l4-180l8 180l4 0l11 0l4 0l11 0l3 0l4 0" stroke="#000" stroke-width="11.5"/>
<path d="M6367 2542l450-531l210-209l137-106l103-50l83-14l68 12l59 33l51 50l46 64l41 76l37 88l34 97l31 103l30 109l27 106l26 116l24 88l23 88l21 74l21 57l19 40l19 44l18 20l17 14l16 48l16 8l15 30l15 14l14 46l13 14l14 16l12 41l13 14l12 56l12 17l11 5l11-14l11 20l10 62l11 10l10 29l9 39l10-8l9 12l9 3l9 47l9 21l8 2l9 12l8 29l8 2l8 12l8 34l7-3l8 42l7 51l7 15l7-37l7 47l7 27l7-5l6 42l7-13l6 20l6 108l7-47l6 69l6-51l6 29l6 85l5 15l6-15l6 15l5-29l6 0l5 45l5 54l6 125l5-195l5 51l5 87l5 132l5-157l5 82l5-30l4 65l5 40l5-105l4 152l5-47l4 179l5 105l4-284l9 0l4 105l4 74l5 285l4-359l4 359l4-359l4 74l4-74l4 359l4-180l4 180l3-180l8-105l4 105l7 180l11-180l7 180l3 0l7 0l14 0l13 0" stroke="#000" stroke-width="11.5"/>
<path d="M6367 2596l450-541l210-213l137-111l103-57l83-22l68 4l59 24l51 40l46 53l41 66l37 76l34 84l31 93l30 101l27 98l26 105l24 91l23 94l21 77l21 61l19 59l19 46l18-1l17 62l16 19l16 33l15-1l15 35l14 27l13 2l14 18l12 29l13 33l12 38l12 12l11 14l11 8l11 7l10-2l11 39l10-12l9 41l10 23l9 23l9 2l9-1l9 42l8 15l9 1l8 43l8-1l8 28l8-23l7 59l8 40l7-6l7 34l7 18l7 45l7-48l7 60l6 25l7 54l6 11l6 17l7-44l6 90l6-80l6 127l6-68l5 126l6-58l6 37l5-37l6 58l5 74l5 15l6-15l5 105l5-119l5 167l5-68l5-37l5 37l5 20l4 75l5-27l5 0l4 57l5-30l4 30l5 122l4 58l5-145l4 219l4-132l4 132l5-74l4-58l4-47l4 179l4 285l4-180l4 0l4 180l4 0l3 0l4-180l4-237l7 237l4 0l7 180l4-285l7 105l7 0l3 180l23 0l4 0l3-180l9 180l12 0" stroke="#000" stroke-width="11.5"/>
<path d="M6367 2644l450-542l210-219l137-116l103-63l83-29l68-4l59 16l51 31l46 44l41 55l37 65l34 74l31 81l30 89l27 94l26 94l24 93l23 89l21 81l21 70l19 68l19 32l18 54l17 35l16 11l16 30l15 19l15 13l14 27l13 10l14 29l12 12l13 20l12 13l12 21l11 27l11-11l11 31l10 2l11 40l10-20l9 7l10 32l9 11l9 7l9 7l9 42l8-10l9 66l8-21l8 0l8-3l8 39l7 48l8 11l7 2l7 5l7 1l7 52l7 17l7-5l6 30l7 44l6 27l6 0l7 72l6 5l6-5l6 36l6 10l5 43l6-6l6-91l5 188l6 8l5-74l5 58l6 134l5-90l5 104l5-39l5-101l5 77l5 24l5 105l4-66l5 153l5 27l4-165l5 90l4-39l5 62l4 52l5-27l4 92l4 0l4-214l5 122l4-48l4 140l4 145l4-145l4 145l4-58l4-47l4 0l3 105l4-58l4 237l4-179l3 74l4 105l4-324l3 504l4-180l3 180l4-180l3 0l4 180l3 0l14-180l19 180l15 0l12 0l15 0" stroke="#000" stroke-width="11.5"/>
<path d="M6367 2674l450-528l210-221l137-121l103-69l83-34l68-11l59 7l51 23l46 35l41 47l37 55l34 64l31 71l30 77l27 81l26 85l24 90l23 84l21 82l21 70l19 67l19 63l18 28l17 33l16 41l16 16l15 17l15 16l14 45l13 10l14 5l12 27l13-6l12 13l12 13l11 17l11 4l11 15l10 8l11 3l10 22l9 5l10 21l9 23l9 7l9-8l9 12l8 13l9 19l8-4l8 29l8 44l8-25l7 37l8-7l7 25l7 20l7 37l7 6l7 46l7 22l6-14l7 18l6 54l6 8l7 26l6 46l6-35l6 30l6 31l5 21l6 31l6 23l5-15l6 3l5 75l5 32l6-27l5 45l5 71l5-8l5-113l5 155l5 51l5-93l4 93l5-69l5 69l4-22l5 100l4 113l5-80l4 57l5 23l4-142l4 194l4-75l5-74l4 179l4-144l4-18l4 162l4 122l4-122l4 122l4-47l3 0l4 105l4-58l4-87l3 40l4 47l4-152l3 152l4 132l3 105l4 0l3 0l4-179l3 74l4 105l3 0l7-105l6 285l10 0l3-180l3 180l3 0l3 0l3-180l3 180l3 0l9 0l6 0l14 0l11 0" stroke="#000" stroke-width="11.5"/>
<path d="M6367 2726l450-536l210-223l137-125l103-74l83-40l68-17l59 1l51 15l46 27l41 38l37 46l34 55l31 61l30 68l27 72l26 77l24 74l23 76l21 75l21 70l19 65l19 53l18 50l17 35l16 27l16 36l15-5l15 26l14 22l13 14l14 4l12 26l13-6l12 19l12 8l11-2l11 13l11 16l10 4l11 6l10 3l9 10l10 3l9 9l9 32l9-3l9-11l8 22l9 23l8-4l8 46l8-14l8 29l7 33l8 13l7 3l7 31l7 4l7-5l7 22l7 47l6 18l7 26l6 6l6 11l7 53l6 11l6 58l6-18l6 23l5 23l6 23l6 21l5-17l6 93l5 6l5 35l6 41l5-37l5-17l5 108l5-33l5-79l5 93l5-5l4 24l5 21l5 34l4-12l5 75l4 82l5-82l4 71l5 0l4 11l4-30l4 53l5-12l4 0l4-22l4 71l4-25l4 144l4 105l4-82l4-97l3 301l4-179l4-48l4 23l3-62l4 62l4-23l3 140l4 219l3-254l4 122l3 132l4-132l3 0l4 0l3 58l3 0l4 0l3-58l3 132l3-132l4 58l6 359l3 0l3 0l9 0l5 0l0-180l16 180l8 0l20 0l21 0" stroke="#0000ff" stroke-width="17"/>
<path d="M6367 2808l450-540l210-232l137-130l103-80l83-47l68-25l59-8l51 7l46 18l41 27l37 37l34 43l31 51l30 56l27 62l26 67l24 66l23 76l21 73l21 74l19 69l19 67l18 53l17 55l16 43l16 25l15 36l15 14l14 10l13 8l14 12l12 8l13 3l12 8l12-18l11 12l11-5l11 18l10 7l11-19l10 5l9-1l10 14l9-13l9 14l9 16l9-10l8 10l9 10l8 10l8-2l8-12l8 31l7-6l8-6l7 23l7 14l7 0l7 4l7 27l7 16l6-1l7-11l6 3l6 13l7 26l6-2l6 23l6 9l6 18l5-14l6 27l6 0l5 11l6 21l5-15l5 27l6 11l5-2l5 41l5 3l5 14l5-12l5 35l5 11l4-22l5 23l5 46l4-5l5 2l4 24l5 9l4-32l5 101l4-19l4-32l4 65l5 21l4 30l4-12l4 0l4 10l4 2l4 25l4-17l4 57l3 60l4-21l4 75l4-78l3 18l4 37l4-17l3 57l4 62l3 47l4 42l3-55l4 124l3-130l4 93l3 9l3-41l4-8l3 145l3-105l3 105l4-121l3 134l3 0l3 45l3-31l3 31l3 74l3-74l5 74l0 48l6 57l0 75l6 0l5 0l0 105l6 74l0-311l6 92l0 87l5 0l0-87l6 145l0 179l5 180l0-417l5 58l7 0l5 359l9 0l0-180l7 0l0 180l9 0l6 0l0-180l4 180l7 0" stroke="#000" stroke-width="11.5"/>
<path d="M6367 2893l450-548l210-232l137-136l103-86l83-53l68-32l59-15l51-1l46 9l41 19l37 27l34 35l31 40l30 46l27 51l26 54l24 60l23 57l21 64l21 71l19 52l19 69l18 57l17 40l16 49l16 43l15 35l15 17l14 6l13 26l14 4l12 11l13 4l12-13l12 13l11 6l11-10l11-10l10 14l11-4l10-3l9 5l10-9l9 18l9 10l9-16l9 11l8-5l9-3l8 3l8 8l8 8l8 0l7 4l8 8l7 10l7 5l7 10l7 3l7 18l7 2l6 9l7 7l6-2l6 9l7 29l6 4l6-5l6 18l6 5l5 7l6 21l6 15l5-17l6 12l5 28l5-5l6-18l5 34l5 10l5-13l5 24l5 42l5-19l5 7l4 14l5 6l5 22l4 17l5 10l4 1l5-4l4 30l5-4l4 50l4 1l4 26l5 18l4-29l4 31l4-12l4 40l4-14l4 40l4-40l4 44l3 20l4 7l4 16l4 57l3-20l4-15l4 16l3 57l4 14l3 18l4 35l3-15l4 26l3-6l4 17l3 69l3-8l4 8l3 15l3-33l3 10l4 44l3 32l3 15l3 45l3-12l3 117l3-86l3 115l5-29l0-79l6 45l0 63l6-63l0 179l5-105l0-11l6 34l0 179l6 0l0-223l5 143l6 37l0 200l5-132l0-87l5-51l0 317l6 0l0-247l5 125l0 122l5 58l0-145l5 219l5-74l0 359l5-285l5-74l5 74l0 105l4 0l0-324l5 324l0 180l5 0l0-180l4 0l0 180l9 0l0-180l5 0l0 180l6-180l6 180l11 0l19 0l18 0l19 0" stroke="#000" stroke-width="11.5"/>
<path d="M6367 3027l450-563l210-236l137-141l103-91l83-61l68-39l59-25l51-11l46-2l41 7l37 14l34 20l31 26l30 30l27 34l26 38l24 42l23 44l21 48l21 44l19 46l19 49l18 43l17 48l16 39l16 44l15 29l15 35l14 27l13 23l14 18l12 7l13 19l12 2l12-1l11 6l11-15l11 1l10 9l11-14l10 12l9-7l10 1l9-2l9-1l9 3l9-11l8-8l9 10l8 7l8 2l8-2l8 3l7 7l8 8l7 1l7-2l7 15l7 7l7 13l7-4l6 14l7-5l6 14l6 3l7 9l6 9l6 1l6 12l6 13l5-8l6 13l6 9l5-3l6 12l5 22l5-8l6 8l5 11l5-11l5 36l5-5l5-3l5 10l5 17l4 2l5 19l5 4l4-8l5 21l4 24l5 0l4 28l5-3l4 2l4 10l4-5l5 37l4-1l4 6l4 8l4 36l4 14l4-24l4 31l4 12l3-1l4 19l4 28l4-16l3 8l4 26l4 9l3 29l4-1l3 0l4 28l3 2l4 36l3 1l4-9l3 51l3-21l4 6l3 29l3-11l3 23l4 26l3-21l3 41l3 26l3-34l3 63l3 14l3 12l5 18l0-40l6 38l0 79l6-15l0-14l5 0l0 41l6 42l0 37l6-29l0-50l5 39l0 49l6 9l0 89l5-53l0-26l5 73l0 13l6 0l0 37l5 42l0-99l5 65l0 44l5 0l0-10l5 63l0 82l5-45l0-25l5 25l0 119l5-105l0-14l4 142l0 25l5 0l0-68l5 20l0 23l4 0l0 82l5 35l0-92l4-48l0 180l5 105l0 179l4-324l5 0l0 145l4-105l0-105l4 152l4 58l0 74l4 105l5-105l0 285l4 0l0-180l4-105l0-74l4 179l0 180l4-285l0-74l6 179l5-105l4 105l0 180l4-285l7 285l7-180l11 180l3 0l4 0l5 0l9 0" stroke="#000" stroke-width="11.5"/>
<path d="M6367 3375l450-511l210-239l137-151l103-108l83-71l68-60l59-45l51-26l46-23l41-18l37-10l34-6l31-7l30 8l27 2l26 13l24 4l23 11l21 9l21 18l19 13l19 14l18 14l17 17l16 13l16 18l15 15l29 24l27 29l25 21l24 21l22 3l21 4l21 4l19-4l18-7l18-3l17-6l16-3l16 13l15 4l21 20l21 14l19 19l19 21l18 18l17 24l16 15l16 15l5 10l8 11l0 12l9 0l0 9l10 5l0 11l9 3l0 8l10 2l0 8l9 9l0 7l8 15l0 5l9 13l9 8l0 24l8 3l0 8l8 7l0 22l8 4l0-10l8 18l0 5l7 5l0 23l6 8l4 20l3-2l4 4l4 19l3 11l4 6l3 5l4 10l3 8l4 22l3 9l4 10l3 10l3 8l4 2l3 10l3 26l3 0l4 11l3 2l3 13l3 24l3 18l3 0l3-3l3 28l5 18l0 10l6 3l0-22l6 59l0 4l5-4l0 21l6 21l0 9l6 19l0 9l5-10l0 29l6 8l0 19l5 2l0 22l5-2l0 57l6-5l0 17l5-24l0 52l5-11l0-7l5 21l0 19l5 46l5-1l0-6l5 29l0 7l5 12l0 5l4 21l0 24l5 22l0 32l5-18l0-11l4 38l5 49l0 15l4 43l5 12l0 19l4-6l0-53l5 87l0 32l4-39l0 105l4-66l0-16l4 8l0 16l5 28l0 9l4-37l0 105l4-12l0 39l4 105l0 48l4-138l0-66l4 117l0 266l4-152l0-52l4-80l0 162l4 0l0-82l3-97l0 254l4 47l0-204l4 117l0 145l4 0l0-58l3 0l0-47l4 47l0 237l4 0l0-237l3 132l0 105l4 0l3 0l4-105l0-74l3 0l0 359l4 0l0-359l2 74l6-74l0 359l4 0l0-180l5 0l0 180l3 0l0-285l4 105l5 180l4 0l0-285l2 0l3 105l3 0l6-105l4 285l7 0" stroke="#ff0000" stroke-width="17"/>
<path d="M6367 3977l450-512l210-283l137-164l103-105l83-95l68-74l59-61l51-58l46-24l41-43l37-28l34-40l31-23l30-19l27-25l26-14l24-18l23-11l21-15l21 1l19-19l19-6l18-9l17-6l16-11l16-1l15-4l29-8l27-1l25-2l24-2l22 2l21-10l21 0l19-13l18 4l18-2l17 2l16-4l16 9l15 7l21 13l21 18l19 13l19 13l18 17l17 17l16 12l16 21l15 22l19 18l19 33l20 22l0 11l8 2l0 8l9 6l0 25l8 4l0-12l8 15l8 19l0 10l8 5l0 11l7 8l0 5l8 1l0 7l7 6l0 6l7 13l0 8l7 1l0 13l7 7l0 10l7 3l0 14l7 13l0 10l6 2l7 12l0 16l5 13l3 10l3-10l3 11l3 18l3 8l3 5l3 20l5 7l6 4l0 15l6 17l0 6l5 10l0 16l6-3l0 10l6 9l5 12l0 19l6-3l0 6l5 17l0 6l5 13l0 6l6 1l0 25l5-1l0 14l5 10l0 5l5 3l0 16l5-5l0 12l5 19l0 22l5 2l0 24l5 4l0 13l4 22l0 21l5-15l5 17l0 15l4-18l0 50l5-1l0 7l4-8l0 33l5 5l0-18l4 50l5-29l0 61l4 4l0-51l4 60l0 13l4 18l0-37l5 54l0 34l4-43l0-4l4 22l0 10l4 0l0 33l4 0l0-8l4 43l0 80l4-50l0-98l4 65l0 16l4 54l0 122l3-68l0-62l4 12l0 35l4 5l0 59l4 6l0-70l3 10l0 42l4 24l0 27l4-7l0-32l3-12l0 142l4-77l0-34l3 58l0 53l4 0l0-19l3 0l0 75l4-24l0-69l3 69l0 36l4-24l0 66l3 0l0-15l3 66l0-198l4 105l3 58l0 17l3 105l3-48l0 180l3-105l4 0l0-27l3-25l0 117l3-35l0-162l3 132l0 210l3-237l3 27l0 152l3-47l0 105l4 74l0-311l4 27l0 389l5-105l0-254l4 180l0 179l5-105l0-179l4 0l0 105l4 74l0 285l4-180l0-324l6 324l0 180l4-180l0-284l4 284l0 180l5-180l0-105l5 285l9 0l7 0l3-180l5 180l4 0l4 0l5 0l14-180l13 180l3 0l9 0l40 0" stroke="#000" stroke-width="11.5"/>
<path d="M6367 4375l450-449l210-155l137-215l103-78l83-117l68-41l59-100l51-51l46-47l41-58l37-38l34-51l31-25l30-37l27-33l26-16l24-12l23-70l21 13l21-39l19 0l19-35l18-15l17-19l16-13l16-9l15-16l15-15l14-1l13-12l14-12l12-11l13-13l12-3l12-19l11-5l11-13l11-4l10-12l11-9l19-20l19-21l18-20l17-15l17-15l16-13l15-9l22-7l21-4l20-5l19 0l18-15l17 4l17-8l16-2l15-5l20 2l18-5l18 8l17-4l17 6l16 10l15 3l18 11l18 2l17 18l16 13l15 15l18 11l17 32l17 15l12 7l0 11l5 5l0 5l5 3l0-9l5 17l0 7l6 1l0 13l8 1l7 1l0 21l7-2l0 11l7 1l0 7l7 13l6 3l0 14l7-3l0 23l7-5l0 13l6-3l0 26l6-4l0 12l7 2l0 17l6-8l0 22l6-5l0 11l6 19l0 5l6 3l0 6l5 3l0 19l3-6l0-9l4 23l0 8l4 9l0 7l4 3l0 8l3 1l0 8l4 3l0-10l4 14l0 19l3-2l0 9l4-4l0 23l3 7l0-19l4 21l0 4l3 16l4-1l0 15l3 5l0-15l4 15l0 18l3-3l0-13l3 19l0 25l4 5l0 5l3 4l0-20l3 11l0 37l3 9l0-22l3 8l0 8l4 2l0 6l3 6l0 38l3 0l0-18l3 23l0 5l3 3l0-11l3 19l0 48l3-13l0-24l4 3l0 16l4 12l0 34l5 10l0-20l4 15l0 42l5 11l0-25l4 11l0 27l4-10l0 24l4 8l0 22l4 11l0-33l5 13l0 40l4 30l0-72l4 70l0 19l4 12l4 0l0 20l3 4l0 14l4 18l0 38l4 25l0-76l4 30l0 84l4-7l0-16l4-32l0 80l3-8l0 35l4-24l0 91l4-11l0-76l3 33l0 48l4-39l0 98l3 7l0-109l4 33l0 76l3 14l0-80l4 40l0 55l3-22l0-33l3 26l0 108l4-38l0-70l3 70l0 60l4 24l0 144l3-156l0-63l3 100l0 29l3-29l0 119l4 23l0-191l3 148l0 43l3-62l0 179l3-35l0-179l3 35l0 114l3-52l0-80l3 105l0 27l3 30l0 122l3-122l0-82l4 25l0 237l4 179l0-464l4 140l0 145l4-58l0 417l3 0l0-464l4 179l0 105l4 180l0-464l4 105l0 359l3 0l0-180l4-105l0 285l4 0l0-180l3-105l0 285l4 0l0-180l5 180l0-359l4 179l0 180l3 0l0-285l3 285l5 0l5 0l4 0l6 0l4 0l6 0l2 0l9 0l7 0l7 0l10 0" stroke="#000" stroke-width="11.5"/>
<path d="M6367 4375l450 105l210-464l137-39l103-230l83-89l68-16l59-71l51-95l46-31l41-105l37 6l34-39l31-78l30-47l27 7l26-33l24-23l23-22l21-56l21-16l19 5l19-49l18 4l17-19l16-10l16-33l15-16l15 3l14-8l13-31l14 0l12-21l13-21l12 1l12-25l11 2l11-21l11-24l10 2l11-31l10 11l9-29l10-6l9-14l9-13l9-10l9-8l8-14l9-9l8 3l8-22l8-13l8-8l7 3l8-6l7-4l7-4l7-7l7-5l7-8l7 4l6-2l7-1l6-7l6-8l7 2l6-6l6-13l6 0l6-2l5-12l6 3l6 6l5-14l6 1l5-1l5-3l6-6l5-3l5-14l8 12l17-12l18-9l18-17l17-3l17-1l16-11l15-3l18-6l18-6l17 10l16 0l15 9l18-7l17 2l17 7l15 7l16 8l17 16l18 6l0 7l7 2l0 8l7 6l0-15l6 14l7 7l0 8l6-3l0 13l7-3l0-4l6 11l0 11l6 1l0-13l6 14l0 10l6-4l0 16l6 3l0-12l5 9l0 10l6 4l6 8l0 5l5 1l0 16l6 2l0-6l5 8l0 15l5-5l0 12l5-6l0 12l6-3l0 15l5 7l0-20l6 20l0 22l6-8l0 22l7-6l0 13l6-3l0 26l6 7l0-19l5 15l0 15l3 1l0 8l3 3l0-14l3 5l0 22l4 3l0-10l4 30l0 13l5-3l0-10l4 8l0 23l5 1l0-6l4 2l0 24l4-1l0 10l4-2l0 25l4 10l0-22l5 22l4 5l0 15l4 0l0-6l4 15l0 19l4 10l0-21l3 12l0 35l4-4l0 16l4-14l0-10l4 39l0 21l4 5l0-17l4 6l0 20l3 1l0 13l4-4l0 26l4-12l0 28l3 2l0-15l4 15l0 29l3 17l0-38l4 31l0 22l3-18l0 51l4-1l0-33l3-19l0 63l3 11l0-64l4 69l0 15l3-14l0 41l4 2l0-36l3 16l0 52l3-5l0 32l3-10l0 24l4-3l0-44l3 36l0 59l3-27l0-31l3 38l0 30l3-8l0-31l3 45l0 32l3-5l0-33l3 4l0 52l3 27l0-72l4 55l0 38l4 6l0-33l4 24l0 66l4 39l0-79l3 17l0 62l4 24l0-63l4 43l0 103l4-56l0-51l3 56l0 73l4-22l0-45l4 6l0 85l3 8l0-40l4-21l0 154l3 39l0-114l4 29l0 71l3 29l0-147l4 105l0 112l3 95l0-219l4-35l0 179l3-90l0 195l3-125l0-85l4 48l0 237l3-40l0-197l3 57l0 140l4 40l0-180l3-57l0 284l3 58l0-210l3 65l0 219l3-74l0-105l3 47l0-122l4-30l0 389l3 0l0-284l3-132l0 596l3-180l0-179l3-105l0 464l4-180l0-237l3 132l0 285l4 0l0-464l4 105l0 359l3 0l0-417l4 417l3 0l0-285l4 105l0 180l7 0l0-180l4 180l4 0l0-285l2 285l6 0l3 0l14 0l21 0" stroke="#000" stroke-width="11.5"/>
<path d="M6817 4660l210-359l137-145l103-197l83-75l68 27l59-156l51 52l46-194l41-4l37-42l34-35l31-48l30 0l27-66l26-37l24-28l23-5l21-45l21-16l19-37l19-13l18-25l17 1l16-36l16 12l15-56l15 27l14-27l13-11l14-35l12 4l13-6l12-28l12-18l11-11l11-28l11 3l10-21l11-5l10-16l9-25l10-11l9 9l9-38l9-1l9-16l8 1l9-21l8-12l8-3l8-11l8-16l7 11l8-19l7-3l7-18l7 13l7-26l7-3l7 11l6-3l7-11l6-19l6-1l7 2l6-4l6-21l6 4l6-24l5 25l6-13l6-6l5-11l6-1l5 4l5-12l6 8l5-14l5-12l8 3l0-16l9-1l0 8l10-11l0-9l9-2l0 8l10-7l0-7l9-11l0-10l8 3l9-6l9 5l0-14l8 8l0-16l8-1l0 8l8-9l8-13l7 0l0-7l8 3l7-1l7-10l0-5l8-3l0 10l7-4l0-4l6 0l0-10l7-3l0 11l7-2l6-6l0-7l7 2l6-3l7-3l0-5l6-1l6 2l6 3l6-9l5 1l0-5l6-3l0 7l6 0l5-7l0-5l6 5l5 6l0-16l6 4l5-1l0 6l5-3l0 7l5-8l5-4l7-3l0 8l7-3l7-3l8 5l7-1l6-6l0 14l7 6l0-17l7 6l0 9l6-4l0-5l7 7l0-16l6 11l0 13l7-5l6 0l0-7l6 4l0 11l6 4l0-8l6 4l0 6l6 2l0-10l5 8l0 9l6-8l0-6l6 9l0 9l5 1l0 6l6 3l0-16l5 8l0 9l5-2l0 10l5-2l0-6l6 10l5 4l6-1l0 18l6-2l7 9l0 5l6 5l0-11l6 4l0 18l7-8l0 17l6 0l0-5l6 12l0 4l6 0l0 16l5-1l0 8l6-3l0 5l6 4l0 14l6-11l0 22l5-2l6 6l0 17l5-3l0 13l5-4l0 17l6 10l0-27l5 26l0 10l5-2l0 12l4-1l0-7l4 12l0 7l4 10l0 5l3-10l0 28l4-7l0 22l4-5l0-13l3 1l0 19l4 0l0 12l3-2l0 7l4-6l0 19l3-1l0 7l4 7l0 12l3 8l0-21l4 19l0 18l3 6l0-15l3 10l0 12l4 10l0-25l3 25l0 17l3-9l0 33l3-8l0-5l4 15l0 12l3-6l0 13l3 3l0-11l3 3l0 17l3 13l0 11l3-2l0 27l3-14l0-19l3 32l0 12l4-12l0 42l4 10l0-26l4-10l0 44l4-5l0 15l3-11l0 25l4-4l0 40l4-5l0-24l4 5l0 57l4 3l0-23l3 18l0 9l4 2l0 41l4 6l0-29l3 10l0 35l4-7l0 51l3-14l0-29l4 17l0 44l3 20l0-42l4 14l0 28l3 9l0 46l3 30l0-69l4 20l0 32l3 29l0-71l3 61l0 46l4 28l0-86l3 41l0 45l3 0l0-31l3 15l0 100l4-9l0-75l3 54l0 64l3 27l0-87l3-16l0 115l3 0l0-73l3 29l0 97l3-47l0-45l4 33l0 136l3-19l0-99l4 0l0 57l4 24l0 58l3-40l0 114l4 31l0-187l3 42l0 114l4 0l0-39l3-65l0 189l4-37l0-62l3 29l0 113l4 82l0-261l3 82l0 149l4 65l0-197l3 0l0 284l3 0l0-122l3-125l0 379l4 285l0-664l3 160l0 324l3 0l0-416l3 179l0 417l4-359l0-180l3 180l0 359l3 0l0-464l3 105l0 359l3 0l0-285l3-74l0 359l3 0l0-285l3 0l0 285l4 0l0-285l4-132l0 417l3 0l0-180l4 180l4 0l0-180l4 0l0 180l4 0l0-180l3 180l5 0l3 0l12 0l6 0l10 0l5 0l4 0" stroke="#000" stroke-width="11.5"/>
<path d="M6817 4660l210-180l137-105l103-219l83 0l68-92l59-138l51 51l46-161l41 95l37-114l34 0l31-99l30-102l27 56l26-96l24 4l23-38l21-9l21-53l19 10l19-72l18 12l17-28l16-10l16-46l15-3l15 7l14-10l13-2l14-58l12 10l13-26l12-16l12-4l11-10l11-19l11-21l10-25l11-7l10-43l9 5l10-11l9-8l9-9l9-23l9 9l8-26l9-15l8-11l8 0l8 7l8-29l7-4l8-2l7-5l7-20l7 5l7-14l7-19l7-3l6 4l7 10l6-44l6 16l7-20l6 12l6-14l6-14l6-18l5 13l6 0l6-17l5-6l6 9l5-1l5-5l6-12l5-19l5 2l5-6l5-2l5-5l5-9l5-5l4-12l5 6l5 5l4-17l5-7l4 3l7-4l0-18l9 2l0 17l8-22l0-7l9-11l8-2l0 7l8-16l8 2l0-12l8 3l0-7l7 1l0-9l8 0l0-9l7-2l0 9l7-8l7-3l0-8l7 6l0 4l7-18l7-2l0-5l6-5l0 11l7-21l6 5l6-8l7-2l0-8l6 4l6-8l6 0l6 0l0-8l5 1l0 5l6-1l0-24l6 11l5-2l0-5l6 5l0-14l5 5l5-2l6 2l5 3l0-7l5-2l0-10l5 3l0 6l6-4l0-5l8-1l7 4l0-12l7 5l7-9l0-4l7-4l0 14l6-2l0-10l7-2l0 17l7-7l0-11l6 4l0 4l6-3l0-6l7 2l0 5l6-1l0-8l6 3l6 0l6 4l6-4l0-4l5-5l0 16l6-1l0-5l5 6l0-12l6 7l0 7l5-1l0-13l6 12l0 5l5-7l0-7l5 6l5 1l0 12l5-4l0-10l6 4l7 1l0 13l6-2l0-5l7-2l0 14l6-1l0-6l6 8l6 6l0 11l6-7l0-14l6 13l0 9l6 1l0 4l6 7l0-21l5 18l6-3l0 13l5-1l0 8l6-4l0-4l5 8l0 12l6 1l0-7l5 5l5 5l0 11l5-3l0 12l5 0l0-9l6 9l0 15l6 2l0 9l6 3l0-12l6 11l0 15l6-4l0 11l6-2l0 9l5 3l0 7l6 0l0 13l5-1l0 23l6 13l0-29l4 18l3-9l0 24l4-5l0 13l3-7l0 18l3-3l3-1l0 4l3-7l0 22l3 0l0 8l3 2l0-12l3 17l0 5l4-11l0 31l4 0l0 7l4-2l0 16l4 13l0-27l3 16l0 12l4 9l0 5l4-2l0 19l4-3l0-18l4 27l0 15l3-20l0 49l4-11l0-15l3 10l0 18l4-7l0 26l4-9l0 33l3-7l0-30l4 29l0 17l3-8l0 18l4-9l0 22l3-4l0 26l3 11l0-29l4 33l0 13l3-9l0 22l3-1l0 7l4 16l0-32l3 19l0 60l3-25l0-20l3-1l0 35l3 12l0-28l4 26l0 36l3 1l0-16l3-3l0 58l3 6l0-43l3 14l0 31l3-2l0 7l3-3l0 36l4 36l0-74l4 34l0 37l3 15l0-34l4 8l0 47l4-23l0 73l3-4l0-55l4 30l0 60l3 16l0-58l4 23l0 37l3-33l0 84l3 6l0-70l4 5l0 97l3-14l0-61l4 61l0 65l3-31l0 93l3-17l0-92l3 38l0 96l4-47l0-83l3 99l0 81l3-23l0-74l3 16l0 81l3 33l0-102l3 32l0 53l3 36l0-75l4 47l0 58l3-21l0 68l3 0l0-113l3 8l0 163l4-58l0 272l4-140l0-132l3 0l0 237l3-57l0-105l4-17l0 179l3 35l0-117l4-62l0 266l3 0l0-152l3 0l0 152l4-87l0 504l3-180l0-416l3 57l0 180l3 74l0-254l4 122l0 237l3 180l0-539l3 75l0 464l3 0l0-359l3-58l0 132l3-219l0 504l3 0l0-285l3 105l0 180l4 0l0-285l5-74l0 359l4 0l0-180l4 0l0 180l3 0l0-285l3 105l0 180l3 0l5 0l0-180l4 180l2 0l7 0l3 0l11 0l6 0l14 0" stroke="#000" stroke-width="11.5"/>
<path d="M7267 4480l83-105l68 0l59 0l51-132l46-284l41 80l37-167l34-12l31 24l30-87l27-9l26-90l24 99l23-9l21-17l21-124l19 22l19-37l18-45l17-27l16 40l16-81l15 0l15-6l14-60l13-15l14 12l12 36l13-76l12-6l12-20l11 2l11-45l11 23l10 13l11-47l10-40l9 26l10-43l9-2l9-36l9 0l9 16l8-35l9-20l8-1l8 5l8-41l8 16l7-35l8 23l7-5l7-11l7-27l7-11l7-18l7 2l6 1l7-21l6 5l6 0l7-24l6 7l6-3l6-5l6-4l5-25l6 9l6-17l5-2l6-16l5-7l5 4l6 4l5-5l5-10l5-10l5-17l5-8l5 23l5 3l4-12l5-14l5-22l4 14l5-25l4-3l5 26l4-13l5-7l4-10l4-12l4-19l5 17l4-6l4-6l4 1l4-6l4-20l4-1l4 8l4 13l3-29l4 7l4-23l4 7l3-11l4 15l4-10l3-3l4-10l3-2l4-9l3-2l4-6l3 4l4 0l3-14l3-10l4 13l3-1l3-5l3 0l4-10l3 10l3-4l3-6l3-6l3-6l5 0l0-11l6 6l0-14l6 7l6 0l5-4l0-15l6 3l6-7l5-1l6-6l5-8l5 0l0 8l6-10l0-6l5-9l5 0l0 4l5-3l0-7l6-3l0 7l8-7l0-8l7-4l0 12l7-8l0-10l7 1l0-5l7-4l0 8l6-5l0-10l7 0l0 8l7-3l0-12l6 1l0 10l6-2l0-22l7 11l0 9l6-13l0-11l6 6l0 6l6-10l0-4l6 1l0 7l6-1l0-8l5 4l0-10l6 6l0 7l5-11l0-5l6-3l0 6l5 3l0-6l6-4l0 17l5-12l0-9l5-4l0 12l5-1l0-5l5-3l0 10l6-1l0-13l7-2l0 10l6 4l0-17l7 7l0 12l6-4l0-7l6 2l0-10l6 5l0 4l6-3l0 8l6-4l0-6l6 7l0 6l6 6l0-20l5 10l0 9l6 3l0-12l5-6l0 13l6-2l0 6l5-2l0-10l6 2l0 15l5 2l0-9l5 3l0-9l5 6l0 15l5 2l0-11l6 2l0 7l6 3l0-6l6 0l0 6l6-1l0 18l6 4l0-21l6 5l0 13l5-8l0 16l6-1l0 6l5-2l0 13l6-3l0-8l5 11l0 11l6-4l0 13l5-14l5 7l0 13l5-1l0 10l5-5l0 13l6 4l0-15l6 12l0 17l6-4l0 11l5-6l0 19l6 7l0-15l5 17l0 10l3-4l0 8l4 1l0 6l4-3l0 10l3 4l4-1l0 16l3 0l0-10l4 3l0 25l3-4l0 20l4 0l0-14l3 11l0 9l4 0l0-19l3 21l0 11l3 7l0 9l4 4l0-13l3 4l0 18l3 0l0-4l3 2l0 19l4 1l0 17l3 7l0-27l3 14l0 20l3-3l0 15l3 9l0-27l3 10l0 27l3-5l0 16l3 11l0-23l3 12l0 22l4 5l0-29l3 24l0 16l4 6l0 11l4 0l0 21l3 5l0-25l4 20l0 25l4 18l0-45l3 23l0 31l4 11l0-34l3 32l0 34l3-2l0-17l4-5l0 31l3-15l0 39l4-8l0 44l3-3l0-16l3-1l0 18l3-5l0 43l4 22l0-68l3 36l0 43l3 13l0-46l3-9l0 90l3 13l0-62l4 27l0 79l3-18l0-73l3 36l0 47l3 36l0-85l3 15l0 82l3-14l0-53l4 29l0 58l3-15l0 51l4-34l0 69l3 28l0-102l4 33l0 81l3-4l0-102l3 52l0 93l4 14l0-79l3 18l0 127l3-29l0-65l4 23l0 84l3 21l0-74l3-6l0 127l3-16l0-105l4 89l0 79l3 11l0-145l3 13l0 143l3 78l0-215l3 68l0 132l3 48l0-122l3 23l0 99l3-99l0 204l4 0l0-167l3-13l0 237l3 75l0-237l4 37l0 160l3 145l0-390l4 105l0 180l3 47l0-227l3-20l0 305l3-237l0 596l4-180l0-441l3 82l0 359l3 180l0-417l3-152l0 569l3 0l0-359l4-58l0 417l3 0l0-285l3-132l0 417l3 0l0-359l3-105l0 464l3 0l0-180l3 180l0-417l4 237l0 180l5 0l0-285l4 285l3 0l0-180l3 180l4 0l2 0l5 0l3 0l10 0l9 0l6 0l8 0" stroke="#000" stroke-width="11.5"/>
<path d="M7267 4660l83-180l68-105l59 285l51-504l46-140l41 140l37 0l34 145l31-262l30-128l27 105l26-105l24 48l23-111l21 63l21-85l19-71l19 52l18 53l17-113l16-89l16 40l15 20l15-20l14-89l13 13l14 15l12-15l13-39l12-16l12-21l11 14l11-11l11 4l10-18l11-75l10 75l9-54l10-26l9-43l9-26l9 39l9-15l8-20l9 44l8-59l8-38l8 1l8 25l7-45l8-4l7 0l7 2l7 8l7-46l7-35l7 38l6-21l7-16l6 4l6 0l7 13l6-23l6-11l6-15l6 6l5-14l6-32l6 31l5-18l6-16l5-9l5 5l6 1l5-25l5-10l5 19l5-22l5 27l5-37l5-7l4 8l5-29l5 10l4-24l5 21l4-15l5-19l4 3l5 16l4-3l4-21l4-13l5 13l4-10l4 3l4-29l4 7l4-3l4-8l4 21l4-27l3 4l4-16l4 4l4-6l3-11l4-7l4 4l3-5l4-10l3-3l4 3l3-12l4 16l3-11l4-15l3-1l3-5l4-5l3 2l3 15l3-28l4 8l3-21l3 15l3 1l3 6l3-17l3-8l3-6l5-1l0-12l6-3l0 8l6-7l5-2l0-6l6 0l0-7l6-11l5 1l0-8l6 9l5 3l0-17l5-3l0 14l6-6l0-15l5-10l5 4l0-15l5 1l0 14l5 4l0-15l5-1l0-7l5 3l5-1l0-19l4 7l0 4l5-3l0-4l5-2l0-8l4 2l0-11l5 10l0 10l4-10l0-9l5-3l4-4l5-1l0-7l4 7l0 4l4-10l5 1l0-10l7-3l6-2l0-4l6 5l0-19l6 5l0-11l6 0l0 11l6-1l0-12l5 1l0 13l6-13l0-17l5 9l0 5l6-1l0-14l5 8l6-9l5-3l0 8l5-6l0-4l5-1l0 8l5-8l0-16l6 5l0 17l7-9l0-24l6 8l0 6l7 7l0-21l6 6l6 4l0-11l6 3l0-12l6-6l0 16l6 1l0-18l6-1l0 20l6-4l0-8l5-4l0 7l6-3l0-6l5-3l0 10l6 2l0-5l5 3l0-13l6-3l0 9l5-1l0-9l5-1l0 21l5-8l0-14l5 1l0 18l6-3l0-14l6-5l0 13l6 6l0-13l6 0l0 13l6-3l0-10l6 5l0 8l5 2l0-7l6 2l0-7l5 5l0 9l6 4l0-19l5-3l0 22l6-5l0-5l5 2l0 13l5 4l0-14l5-3l0 18l5 2l0-17l6 11l0 8l6 6l0-13l6 1l0 22l5 6l0-18l6 1l0 18l6 2l0-16l5 7l0 18l6 9l0-24l5 14l0 9l5-5l0 16l5 3l0-20l6 6l0 23l5 1l0-17l5 10l0 20l5 4l0-14l5-1l0 16l3-4l0 14l3 2l0-11l3-5l0 14l4 1l0 11l3-11l0 23l3 7l0-17l3 3l0 12l3-3l3-4l0 21l3 0l0-14l4 14l0 24l3 2l0-17l4 5l0 21l4 4l0-17l3 12l0 22l4-4l0-15l3 8l0 17l4-6l0 20l3 11l0-23l4 12l0 15l3-2l4 3l0 19l3 8l0-17l4 1l0 15l3-2l0 35l3-6l0-16l3-6l0 39l4 6l0-14l3-1l0 35l3 9l0-36l3 19l0 20l4-15l0 33l3 10l0-19l3-5l0 38l3 8l0-35l3 21l0 17l3 6l0-22l3 18l0 40l3 5l0-22l4 2l0 40l3 9l0-28l4-1l0 26l3-4l0 32l4 13l0-34l3 8l0 58l4 9l0-36l3 10l0 42l3 28l0-73l4 14l0 45l3-20l0 59l3 3l0-45l3 12l0 62l4 6l0-54l3 16l0 38l3-14l0 59l3-22l0 50l3 0l0-60l3 23l0 41l3-2l0 52l3 21l0-60l4-9l0 87l3 18l0-57l3 18l0 74l4 19l0-90l3-11l0 105l4 17l0-93l3 46l0 69l3-73l0 156l4-13l0-96l3 62l0 89l3-61l0-103l3 80l0 134l3-9l0-130l4 74l0 105l3-145l0 372l3-68l0-327l3 102l0 126l3-71l0 213l3-43l0-180l3-19l0 199l3-112l0 237l4-57l0-180l3 27l0 153l3-87l0 179l4 40l0-285l3 85l0 379l3-179l0-200l4-19l0 266l3 0l0-152l3 65l0 324l3 0l0-416l3 57l0 254l3-219l0 504l3 0l0-417l4-47l0 464l3 0l0-504l3 145l0 359l3 0l0-285l3-74l0 359l3 0l0-285l4-74l0 359l4 0l0-285l3 0l0 285l3 0l0-180l4 0l0 180l3 0l0-285l4 105l0 180l3 0l3 0l4 0l6 0l3 0l3 0l9 0l5 0" stroke="#000" stroke-width="11.5"/>
</g>
<g transform="scale(0.1)" fill="none" stroke-linejoin="round">
<path d="M11319 2313l449-511l209-180l138-68l102-6l82 37l69 69l58 96l51 117l46 137l41 152l37 167l34 179l31 174l30 169l27 146l25 100l24 102l23 79l22 49l20 26l20 121l18 31l18 59l17 18l16-18l16 129l15 18l15 87l14 0l13 28l14 53l12 82l13 54l12 21l11 22l12 118l11-118l11 205l10-122l10 254l10 0l10-180l10 48l9 0l9 58l9 74l8-180l9 0l8 285l9-105l8 105l7 0l23 0l7 0l15 180l7-285l13 285l7-180l6 0l7 180l6-180l6 180l12 0l40 0l92 0" stroke="#000" stroke-width="11.5"/>
<path d="M11319 2356l449-512l209-187l138-77l102-16l82 25l69 55l58 81l51 102l46 119l41 135l37 151l34 147l31 156l30 165l27 154l25 116l24 75l23 87l22 32l20 46l20 51l18 47l18 67l17 43l16 19l16 62l15 39l15 17l14 62l13 43l14 16l12 29l13 0l12 96l11 28l12-84l11 166l11 79l10-51l10 165l10-193l10 119l10 285l9-106l9-179l9 179l8-105l9 105l8 465l9-597l8 58l7 254l8-132l8 0l14 58l8 359l7-285l7 0l13 105l7-179l6 0l7 179l6 0l6 180l6 0l6-359l6 179l6 0l11 180l17-180l16 180l10 0l25 0" stroke="#000" stroke-width="11.5"/>
<path d="M11319 2411l449-525l209-193l138-85l102-26l82 14l69 44l58 67l51 87l46 104l41 118l37 132l34 139l31 145l30 142l27 142l25 97l24 95l23 106l22 13l20 57l20 55l18 40l18 19l17 53l16 41l16 46l15-1l15 31l14 29l13 83l14 25l12 20l13-12l12 87l11 21l12 0l11 90l11-24l10 6l10-6l10 174l10-32l10-53l9 163l9-14l9 14l8 91l9-75l8 149l9-114l8-18l7 105l8-105l8 343l7-180l7-31l8 0l7 31l7 180l6-106l7-39l7-35l6 180l7 74l6 0l6-132l6 237l6 180l12-180l6-105l5 0l6 285l5-180l11-179l6 359l5 0l5-285l5 105l5 0l5 180l19 0l37 0l48 0l4 0" stroke="#000" stroke-width="11.5"/>
<path d="M11319 2457l449-528l209-199l138-92l102-34l82 4l69 32l58 55l51 74l46 90l41 103l37 116l34 122l31 130l30 135l27 122l25 107l24 97l23 72l22 52l20 52l20 15l18 81l18 20l17 42l16 16l16 56l15 41l15 23l14 45l13-4l14 61l12 12l13 20l12 42l11 11l12 35l11 52l11 6l10 17l10 46l10-35l10 91l10 10l9-40l9 69l9-12l8 65l9 49l8 49l9-30l8-28l7 81l8 82l8-58l7 28l7-14l8 0l7 98l7 95l6-74l7 47l7-47l6 227l7-87l6-35l6-105l6 140l6 219l6-219l6 145l6 359l5-359l6 0l5-106l6 180l5 285l6-359l5-58l5 417l5-285l10 285l5-359l5 74l5 105l4 180l5 0l9-180l5 0l4 0l5-105l4 105l50 0l19 180l10 0" stroke="#000" stroke-width="11.5"/>
<path d="M11319 2497l449-525l209-204l138-99l102-42l82-5l69 22l58 44l51 62l46 77l41 90l37 102l34 111l31 117l30 121l27 113l25 113l24 89l23 70l22 70l20 32l20 41l18 32l18 54l17 21l16 15l16 34l15 37l15 26l14 5l13 51l14 13l12 78l13-31l12 67l11 14l12 28l11-5l11 19l10 58l10-17l10 49l10 14l10 14l9 30l9 33l9-7l8 20l9 40l8 0l9-4l8-4l7 70l8 61l8 20l7-55l7 17l8 75l7 8l7-52l6 161l7-12l7 24l6 42l7-54l6 0l6 54l6-42l6 28l6 14l6 196l6-83l5 0l6 25l5 58l6 74l5-39l6 324l5-285l5-105l5 211l5-180l5 74l5 48l10 132l4-74l5 179l5 0l4-237l5 58l4 359l5-359l4 359l9-285l4 285l4 0l5 0l8 0l12 0l4-180l4 0l3 180l4 0l4 0l8-285l3 285l4 0l21 0l7 0l3 0" stroke="#000" stroke-width="11.5"/>
<path d="M11319 2545l449-529l209-209l138-105l102-50l82-13l69 13l58 34l51 51l46 66l41 78l37 89l34 98l31 103l30 117l27 107l25 110l24 97l23 83l22 65l20 53l20 44l18 50l18 35l17 9l16 38l16 31l15 7l15 44l14 22l13 25l14-2l12 2l13 53l12 30l11 11l12 45l11 14l11 4l10 25l10 21l10 6l10 32l10 11l9 8l9 27l9 25l8 33l9-9l8-2l9 90l8-25l7 15l8-23l8 141l7-27l7 57l8 11l7-60l7-37l6 86l7 41l7 41l6-41l7 99l6-26l6 26l6 0l6 19l6 44l6 99l6-61l5-26l6 105l5-93l6 93l5 40l6 47l5-47l5 105l5 35l5-140l5 140l5-161l5 200l5 48l4 58l5 74l5-132l4-122l5 0l4 0l5 254l4 285l5-359l4 74l4-132l4 417l5-180l8 180l12 0l4 0l4-180l3-105l4 0l4 285l11-285l4 285l28 0l10 0l3 0l23 0" stroke="#000" stroke-width="11.5"/>
<path d="M11319 2594l449-534l209-213l138-111l102-56l82-21l69 5l58 25l51 41l46 55l41 67l37 77l34 87l31 95l30 98l27 104l25 99l24 89l23 98l22 76l20 75l20 45l18 41l18 46l17 12l16 36l16 28l15 8l15 37l14 3l13 48l14 0l12 40l13 31l12 16l11-12l12 61l11 2l11 15l10-6l10 28l10 2l10 18l10-2l9 71l9 0l9 3l8 46l9-7l8 13l9 29l8-15l7 19l8 38l8 28l7-24l7 65l8 25l7 7l7 31l6 20l7 4l7-27l6 19l7 63l6 26l6-11l6 17l6 18l6 19l6 14l6 63l5 0l6 28l5 11l6 99l5 70l6-98l5-50l5 94l5 35l5 40l5 74l5-219l5 87l5 343l4-180l5 0l5-31l4 105l5-105l4 31l5-58l4-25l5 118l4 504l4-417l4 237l5-285l4 180l4 0l4-74l4 359l4-359l4 74l4 105l3-179l4 179l8-237l4 417l3-285l7 0l4 285l11-180l3 180l4 0l3-180l3 180l7 0l7 0l6 0l13 0l3 0" stroke="#000" stroke-width="11.5"/>
<path d="M11319 2636l449-532l209-217l138-116l102-62l82-28l69-3l58 17l51 32l46 46l41 57l37 67l34 75l31 83l30 89l27 100l25 90l24 93l23 93l22 75l20 68l20 62l18 45l18 48l17 23l16 25l16 38l15 22l15 2l14 26l13 32l14 18l12-17l13 37l12 20l11 5l12 29l11 9l11 0l10 32l10-3l10 10l10 42l10 11l9 10l9-5l9 38l8-1l9 34l8-2l9-6l8 48l7 12l8 14l8 31l7-2l7 50l8-1l7 56l7 13l6-17l7 14l7-2l6 95l7-59l6 89l6 8l6 8l6-12l6 68l6-15l6 5l5 55l6 0l5 26l6 29l5 50l6 51l5 50l5-151l5 60l5 9l5 82l5 28l5-99l5 71l4 98l5 0l5-37l4 80l5 52l4-52l5-22l4 22l5 25l4 180l4-48l4 285l5-442l4 52l4 105l4-74l4 74l4-39l4 324l4-179l3-58l4 132l4 105l4-179l4 179l3-324l4 145l3 74l4 285l4 0l3-180l4 180l3-417l4 417l6-285l4 0l6 285l4-285l9 105l13 180" stroke="#000" stroke-width="11.5"/>
<path d="M11319 2687l449-538l209-222l138-120l102-68l82-33l69-10l58 9l51 24l46 37l41 48l37 57l34 66l31 72l30 80l27 85l25 86l24 87l23 85l22 80l20 76l20 58l18 66l18 45l17 32l16 28l16 25l15 19l15 22l14 23l13-1l14 8l12 27l13 19l12-11l11 23l12 15l11 33l11 4l10-13l10 23l10 5l10 31l10 10l9 21l9-19l9 17l8 15l9 32l8 37l9-18l8 34l7-7l8 26l8 37l7-9l7 43l8-6l7 25l7 17l6 16l7 25l7 34l6-13l7 16l6 8l6 50l6 50l6 38l6-16l6 16l6 69l5-72l6-10l5 105l6-23l5 48l6-20l5 15l5 92l5 49l5-70l5 70l5-33l5 105l5-12l4-77l5-46l5 135l4 38l5 28l4-129l5 162l4 80l5-62l4 62l4-167l4 87l5-17l4 149l4 31l4-105l4 140l4 39l4 0l4-74l3 0l4 74l4-39l4 219l4-180l3 285l4-179l3-58l4 237l4 180l7-180l3 0l4 180l3-285l3-74l4 74l3 285l3-180l4 0l3-179l3 359l3 0l7-285l33 105l11 180" stroke="#000" stroke-width="11.5"/>
<path d="M11319 2735l449-546l209-220l138-125l102-72l82-40l69-16l58 2l51 17l46 29l41 39l37 49l34 56l31 63l30 70l27 74l25 78l24 76l23 81l22 76l20 71l20 56l18 62l18 44l17 36l16 32l16 33l15 28l15-1l14 23l13 7l14 9l12 2l13 31l12 3l11 8l12 6l11 22l11-4l10 27l10 4l10 18l10-8l10 7l9 4l9 21l9 2l8 28l9 11l8-8l9 29l8 0l7-7l8 39l8 6l7 23l7 24l8 31l7 12l7 28l6 5l7 51l7-20l6 18l7 48l6 20l6 3l6 48l6-15l6 12l6 53l6 6l5 4l6 35l5 30l6 8l5-19l6 56l5 30l5-26l5 72l5 66l5-5l5-15l5 15l5 53l4 6l5-25l5-23l4 69l5 39l4-32l5 32l4 45l5 44l4-12l4 12l4 0l5 117l4 19l4-136l4 179l4-179l4 117l4-18l4 37l3-37l4 285l4 0l4-48l4-39l3 39l4 180l3-132l4 58l4-106l3 48l4-48l3-39l4-66l3 570l7-359l3 359l3-285l4-180l3 285l3-105l3 105l3-105l4 285l3-180l3-105l3 285l3 0l7 0l0-180l6 0l0 180l6 0l0-180l4 0l39 180" stroke="#0000ff" stroke-width="17"/>
<path d="M11319 2809l449-548l209-228l138-130l102-79l82-46l69-23l58-6l51 8l46 20l41 29l37 38l34 46l31 53l30 59l27 64l25 67l24 72l23 81l22 73l20 78l20 79l18 76l18 62l17 70l16 50l16 43l15 29l15 38l14 14l13 0l14 1l12 7l13 6l12-1l11 9l12 8l11-9l11-2l10-2l10 7l10-35l10 15l10 19l9-39l9 35l9-28l8 1l9 11l8 32l9-15l8 6l7-10l8 7l8 10l7 1l7 1l8 15l7-4l7 12l6 3l7 23l7 20l6-9l7 23l6-10l6 39l6 5l6 21l6-28l6 42l6-10l5 13l6 28l5 5l6-8l5 39l6 0l5-27l5 49l5-28l5 67l5-18l5 26l5-13l5 36l4-1l5 22l5 19l4 16l5 19l4-17l5 33l4 12l5 28l4-34l4 61l4-18l5 62l4-38l4 34l4 43l4-34l4 68l4 13l4 16l3 36l4-19l4 43l4 13l4 14l3 20l4 10l3 46l4-66l4 5l3 74l4 36l3-73l4 123l3-86l3 96l4-10l3-34l3 233l4-70l3-66l3 38l3-14l3 155l4-80l3 0l3 198l3-161l3 200l3-39l4 0l0-118l6 0l0 157l6-39l0 324l6-324l0-66l6 211l0 359l5-417l6 58l0 74l5-74l0 179l6 0l0 180l7-180l0-237l6 58l0 359l10-180l5 0l4-105l6 285l12 0l0-180l4 180l4-180l5 180l6 0l18 0l29 0" stroke="#000" stroke-width="11.5"/>
<path d="M11319 2872l449-535l209-234l138-134l102-84l82-53l69-30l58-13l51 1l46 11l41 22l37 29l34 36l31 43l30 49l27 53l25 58l24 62l23 63l22 68l20 60l20 67l18 53l18 64l17 49l16 49l16 40l15 29l15 3l14 30l13 11l14 17l12 2l13 0l12 4l11-2l12 6l11 3l11-16l10 4l10 12l10 2l10-11l10 12l9 0l9 6l9 0l8 1l9 9l8 1l9 15l8-24l7 9l8 12l8 7l7-1l7 25l8-3l7 12l7 12l6-6l7 18l7-7l6 26l7 16l6-10l6 10l6 19l6-3l6 16l6-7l6 8l5 11l6 16l5 1l6 22l5-7l6 27l5-4l5 15l5 6l5 26l5-26l5 54l5 10l5-11l4 3l5 9l5 32l4 1l5 9l4 14l5 32l4-12l5 18l4 22l4-4l4 12l5 5l4 48l4 6l4-12l4 58l4-15l4 1l4 55l3-8l4 20l4 86l4-71l4-5l3 76l4-37l3 26l4 90l4-49l3 22l4-6l3-6l4 80l3-80l3 39l4 23l3-10l3 47l4 34l3-9l3 88l3-12l3-33l4 21l3 129l3-58l3-47l3 124l3-19l4 63l6-23l0-10l6 57l0 112l6-98l0-14l6 14l5 166l0 58l6 35l0-118l5 83l0 35l6-118l5 52l0 285l5 0l0-254l5 122l0 417l5-359l0-58l5 132l0 105l5 0l5-105l0-74l4 179l6 0l0 180l5 0l0-180l7 180l4 0l4 0l9 0l9 0l6 0l25 0l35 0" stroke="#000" stroke-width="11.5"/>
<path d="M11319 2940l449-534l209-228l138-142l102-88l82-57l69-36l58-19l51-6l46 4l41 13l37 21l34 27l31 34l30 38l27 43l25 47l24 50l23 52l22 55l20 52l20 56l18 52l18 59l17 52l16 39l16 40l15 41l15 21l14 20l13 16l14 18l12 11l13 6l12-7l11 3l12 12l11-4l11 0l10 8l10-13l10 2l10-7l10 5l9-5l9 9l9-10l8-1l9 5l8 6l9 8l8 2l7-3l8 9l8 1l7 3l7 8l8 9l7 1l7 7l6 9l7 14l7-4l6 19l7 10l6 4l6-7l6 23l6 1l6 12l6 13l6-6l5 7l6 15l5 3l6 12l5 1l6 27l5-11l5 17l5 14l5 0l5 15l5 14l5-7l5 5l4 29l5 5l5 3l4 27l5 5l4-1l5 0l4 15l5 23l4-2l4 21l4 17l5 19l4-25l4 27l4 28l4 13l4 9l4 5l4 21l3-9l4 29l4 40l4 16l4-17l3 40l4-11l3-7l4 24l4 28l3 15l4-18l3 40l4-17l3 63l3-9l4-4l3 21l3 18l4 57l3 19l3-56l3 102l3-65l4 97l3-25l3 37l3-23l3 27l3 0l4 49l0 15l6-15l0-45l6 70l0 23l6 25l0 50l6-16l0 58l5-26l0-8l6-24l0 109l5-32l0-9l6 9l0 68l5 42l0-110l5 161l5 19l0-70l5 70l0 95l5 0l0-27l5 0l0 27l5 0l0 66l5 0l0-66l5 66l0 324l5 0l0-324l4-35l0 180l5-58l0-48l5-39l0 87l6 237l0 180l5 0l4 0l0-285l5 0l0-74l4 359l3 0l4 0l5 0l4-180l5 180l10 0l3 0l19 0l40-180" stroke="#000" stroke-width="11.5"/>
<path d="M11319 3168l449-558l209-246l138-144l102-93l82-68l69-47l58-32l51-21l46-12l41-4l37 2l34 8l31 13l30 17l27 20l25 23l24 26l23 28l22 25l20 38l20 34l18 27l18 39l17 28l16 37l16 29l15 34l29 47l27 50l25 31l23 18l23 2l11 5l10-8l20 8l20-5l18-6l17-9l17 5l17-3l15 1l22 21l8 9l7 4l7 10l6 1l7 11l7 6l6 5l7 9l6 3l6 2l6 3l6 10l6 8l6-10l6 14l5 15l6 5l5 12l6-7l5 13l6 11l5 9l5-3l5 11l8 4l0 15l9 1l0 8l10 6l0 24l9 0l0 11l10 6l0 5l9 6l0 13l6 12l5 18l4-3l4 14l4 6l5 16l4 5l4 3l4 0l4 19l4 11l4 11l4 17l3 18l4-7l4 20l4 1l4 17l3-5l4 29l3 1l4 19l4 18l3-2l4 22l3 10l4 8l3 18l3 7l4 3l3 41l3-3l4 2l3 31l3-4l3 17l3-10l4 30l3 20l3-15l3 46l3 8l3-29l4 36l0 31l6 23l0 9l6-18l0 56l6 18l0-56l6 33l0 50l5 20l0 9l6 6l0 4l5 0l0 26l6-23l0 60l5 17l0 29l5-3l5 3l0-16l5 23l0 66l5 19l0-78l5 68l0 20l5 5l0 32l5 37l0 14l5-39l0-6l5 75l0 8l4 44l0 20l5 0l0 57l5-12l0-35l4-40l0 220l5-91l0-42l4 0l0 155l5 0l0-179l4 179l0 118l4-35l0-105l4 47l0 58l5 122l4 58l0-285l4 179l0 106l4-180l0-58l4 180l0 132l4-132l0-48l4 180l0 285l4-417l0-48l4 106l3 359l5-180l0-179l3 74l0 285l6 0l4 0l0-465l3 465l4 0l0-180l4 0l0 180l3 0l4 0l0-285l5 285l4 0l4 0l4 0l2 0l4 0l6 0l48 0" stroke="#000" stroke-width="11.5"/>
<path d="M11319 3588l449-545l209-260l138-153l102-95l82-90l69-58l58-47l51-32l46-32l41-22l37-17l34-13l31-9l30-4l27-4l25 2l24 0l23 6l22 0l20 7l20 11l18 7l18 6l17 15l16 9l16 14l15 12l29 25l27 35l25 17l23 4l23 5l21-5l20-4l20-4l18-10l17-12l17-13l17-4l15 0l22 10l22 14l20 17l19 17l18 9l18 17l16 22l17 4l15 13l20 22l19 14l18 21l15 22l8 8l9 10l0 5l8 11l8 10l0 4l8 4l7 11l0 7l8 6l0 7l7 4l0 14l7 3l0 8l7 1l7 12l0 9l7 18l7 4l7 13l0 11l6 14l0 5l7 4l6 9l0 18l6 9l0 4l5 4l3 0l3 16l4-2l0 19l6 7l0 9l6 6l6 19l0 8l6 15l5 6l0 5l6 13l0 7l5 10l0 20l6 6l0-22l5 29l5 21l0 9l5-13l0 27l5-15l0 41l5-4l0 11l5 9l0 11l5 11l5 4l0-12l5 32l0 18l5-3l0 24l4-4l0 21l5-13l0 31l5 8l0 17l4-14l0 29l5-4l4 15l0 33l5-21l0-9l4 23l0 21l4 21l0 47l4-32l0-15l5 14l0 28l4 18l0-53l4 56l0 37l4-5l0-5l4 19l0 11l4 13l0 8l4-2l0 12l4-6l0-10l4 58l0 15l4-35l0-9l4 39l0 35l3 9l0 33l4-39l0-9l4 12l0 107l3-18l0-60l4 65l0 42l4-67l0 136l3-54l0-30l4 0l0 25l3-10l0 26l4 43l0 21l3 47l0-99l4 18l0 27l3 46l0 17l4-17l0-16l3 52l0 30l3 75l4-28l0-105l3-40l0 98l3 75l0 65l3 0l0-129l3 78l0 51l4-65l0-105l3 119l0 555l3-179l0-263l3-43l0-84l3 47l0 58l3 0l3 227l0 132l4-132l0-122l4 0l0 180l5-180l0 359l4-179l0-180l4 35l0 145l5 0l0-58l4 58l0 179l4 0l0-285l4 0l0 465l4-180l0-359l4 74l0 285l4 0l0 180l4 0l0-359l4 74l0 285l4 0l0-465l4 465l3-180l0-105l6 105l0 180l3 0l0-180l6 0l0 180l2-180l5 180l2-180l8 180l12 0l4-180l12 180l3 0l6 0l3 0" stroke="#ff0000" stroke-width="17"/>
<path d="M11319 4389l449-380l209-136l138-252l102-203l82-41l69-77l58-99l51-51l46-49l41-62l37-25l34-20l31-52l30-41l27-13l25-16l24-48l23-15l22-26l20-27l20-8l18-21l18-14l17-15l16-27l16-14l15-6l15-6l14-18l13 5l14-23l12-4l13-23l12-1l11-11l12-11l11-10l11-12l10-8l20-21l20-21l18-22l17-11l17-15l17-14l15-19l22-2l22-4l20-12l19 3l18 0l18-11l16-2l17-7l15 2l20 3l19-5l18-1l17 7l17 6l16 5l15 6l18 11l18 6l17 14l16 11l16 20l15 16l17 20l17 13l14 18l0 5l6 14l0 6l5-1l5 12l6-4l0 16l8 4l0 9l7-2l0 24l7 2l0-11l7 15l0 7l7 15l0 6l7 0l0 11l6 7l0 11l7-9l0 21l6-1l0 15l7 2l0 16l6 3l0 6l6-2l0 11l6 14l0 9l6 8l0 6l6 1l0 18l5 0l0 16l4-2l0-12l3 25l0 6l4 6l4 11l0 21l4-5l0-6l3 6l0 10l4 14l0 5l4 5l3 29l0 6l4-6l3 4l0-11l4 9l0 28l3 12l0-28l4 16l0 7l3 10l0 13l3 10l4 9l0 6l3-4l0 21l3 1l3 12l4 15l0 18l3-22l0-7l3 41l0 4l3-7l0 14l3 14l3-3l0 27l4 2l0 4l3-9l0 35l3-15l0-8l3 2l0 39l5 4l0 15l4-5l0 53l5 4l0-12l4-11l0 33l4-8l0 35l5-2l0 26l4 3l0-12l4-3l0 65l4 17l0-51l4 32l0 9l4-32l0 64l4 32l0 8l4-31l0 64l4 35l0-91l4 62l0 29l4-14l0 29l4 33l0-67l3 34l0 74l4 12l0-109l4 101l0 30l3 30l0-72l4 25l0 32l4 25l0-53l3 28l0 48l4 0l0-48l3 36l0 64l4 15l0-49l3 73l0 8l4 9l0-41l3-36l0 161l3-24l0-41l4 30l0 140l3-105l0-125l3 165l0 105l4-58l0-132l3 115l0 122l3-87l0-51l3 91l0 47l3-47l0-40l4 19l0 21l3-40l0 114l3 31l0-126l3-19l0 325l3-58l0-153l3-27l0 132l3 180l0-380l4 126l0 539l4-417l0-48l4-39l0 87l4-48l0 465l4-285l0-74l4 74l0 285l3 0l0-359l4 74l0 285l4-180l0-179l4 179l0 180l4 0l3 0l0-180l6 0l0 180l3 0l0-180l4 180l5 0l5 0l4 0l5 0l3 0l5 0l0-180l4 180l7 0l27 0l19 0l10 0" stroke="#000" stroke-width="11.5"/>
<path d="M11768 4257l209-48l138-284l102-85l82-153l69-42l58-149l51-50l46-71l41 7l37-53l34-27l31-70l30-15l27-33l25-39l24-12l23-37l22-28l20-7l20-22l18-27l18-28l17-15l16-6l16-12l15-26l15-16l14-15l13 8l14-19l12-19l13-8l12-20l11-17l12-1l11-7l11-14l10-11l10-10l10-31l10-5l10-11l9-16l9-9l9-21l8 1l9-17l8-6l9-20l8 2l7-17l8-4l8-7l7-15l7 15l8-17l7 2l7 2l6-8l7 4l7-18l6-1l7 4l6-4l6-7l6-6l6 0l6 1l6-8l6-9l5 3l6-7l5-5l6-5l5-1l6 4l5-2l5-13l15-1l19-15l19-14l18-4l17-7l16-6l15-10l16 6l18-4l17-2l17 2l16-4l15 6l18 6l17-1l16 7l16 2l15 20l17 10l14 6l0 5l6 7l7-3l0 14l7 0l0 6l6 1l0-8l6 10l0 10l7-1l0 14l6-2l0 12l6 3l0-11l6 7l0 6l6 1l6 7l0 12l6-5l0 16l5-10l0 19l6-1l0 7l5-4l0 11l6-1l0 9l5 13l0 4l6-5l0 13l5 2l0 5l5 4l0 6l5 3l0 7l5-5l0 22l6-5l0 18l6 1l0 16l7-1l0 24l6 5l0-11l5 12l0 7l3 3l0-9l3 7l3 23l3 6l4 3l0 14l4-8l0 19l5-10l0 35l4-8l0-23l4 27l0 14l5 1l0 15l4 0l0 9l4-2l0 17l4 5l0 15l4-5l0-20l4 31l0 12l4-2l0 28l4 12l0-27l4 30l0 7l4 6l0 14l4-2l0 9l4 0l0 6l4 13l0 11l4-17l0 41l3 3l0 11l4-7l4 0l0 24l3 2l0 26l4 4l0-12l3 17l0 8l4 4l0 19l3-11l0 31l4-4l0-25l3 26l0 7l4 31l0 36l3-9l0-21l4-4l0 33l3-6l0 20l3 9l0 30l3-10l0-38l4 44l0 10l3-7l0 32l3-16l0 47l3 8l0-32l3 22l0 23l4-4l0 27l3-6l0-50l3 81l0 31l3-33l0-19l3 44l0 49l3-4l0-53l4 47l0 13l4 20l0-67l4 77l0 75l4 0l0-19l4 9l0-38l4 25l0 64l3 30l0 41l4-28l0-132l4 95l0 105l3-40l0-59l4 75l0 61l4 11l0-164l3 134l0 87l4-12l0-45l3 10l0 75l4 0l0-28l3 14l0-50l4 78l0 165l3-74l0-105l3 65l0 267l4-122l0-126l3-19l0 267l3-48l0-157l4 52l0 66l3 0l0-66l3 0l0 66l3 0l0 504l3-285l0-219l3 0l0 145l4-58l0 417l3-180l0-179l3-58l0 132l3 285l0-597l3 132l0 465l4 0l0-285l3 105l0 180l4 0l0-180l6 180l0-417l3 417l5 0l0-180l3 180l0-359l6 74l0 285l4 0l0-285l4 285l5 0l0-180l4 180l4 0l0-180l8 180l4 0l5 0l0-180l9 180l15 0l19 0" stroke="#000" stroke-width="11.5"/>
<path d="M11977 4674l138-285l102-417l82-33l69-99l58-80l51-29l46-76l41-20l37-55l34-35l31-77l30-46l27 0l25-25l24-6l23-29l22-45l20 1l20-43l18-29l18-27l17 31l16-62l16-14l15-14l15-33l14 0l13-18l14-12l12-20l13 2l12 6l11-49l12-8l11-13l11-18l10 9l10-25l10-18l10-2l10-19l9-28l9-10l9 2l8-18l9-10l8-13l9-11l8-15l7 7l8-28l8-9l7-1l7 0l8 7l7-34l7 8l6-8l7 0l7 4l6-17l7-7l6-2l6-9l6 4l6 0l6-15l6-15l6 7l5-2l6-9l5-11l6 2l5-10l6-1l5-8l5-2l5-1l8-6l0-5l9-7l10-3l0-17l9 6l10-1l0-10l9-6l8 4l0-10l9-5l0-9l8-4l0 9l9-15l0-4l8 1l8 4l0-13l8-1l7 0l0-7l8 1l7-1l0-7l7 1l0-9l7 3l7-4l7-1l0-5l7-2l0-8l7 6l6-2l0-4l7 0l6-1l0-8l6-3l6-3l0 7l6-4l6-2l0-5l6 0l0 9l6-7l6 1l0-4l5 3l6-3l5-4l6-1l5-7l5 6l6-2l5 2l5 7l0-17l6-1l0 13l8-5l0-10l7 9l0 6l7 0l7-2l0-5l7-1l0 11l7 5l0-15l6 3l0 9l7-6l6 2l0 13l7-7l0-5l6-4l0 13l6-7l0 14l6-8l6 2l6 7l0 4l6-4l0 9l6-3l5-2l0 10l6-2l0-5l5 6l0 9l6 3l0-15l5 17l5-2l0 13l6 10l0-21l5 10l0 6l5-3l0 12l6-3l0-9l6 14l0 7l7-3l0 15l6-8l0 17l6 7l0-19l7 13l0 11l6-8l0 27l6 0l0-11l6 11l0 8l5-2l0 9l6-1l0 11l6-1l0 23l5-8l0 21l6-4l0-8l5 6l0 19l6 5l0-16l5 11l0 16l5-1l0 10l6 4l0 6l4 14l4 0l0 11l4-2l0 13l3-1l4 3l0 15l4 0l0 14l3-7l4 5l0 18l3-6l0 15l4 1l0-7l3 13l0 7l4-9l0 32l3 8l0-18l4 2l0 21l3 14l0-30l4 12l0 17l3 0l0 10l3-9l0 37l3 8l0-26l4 17l3 7l0 26l3 9l0-37l3 35l0 9l3 9l0-25l4 22l0 19l3-9l0 28l3-18l0-12l3 36l0 12l3 8l0-17l3 7l0 21l4-11l0 38l4-2l0-12l4 22l0 16l4 4l0 17l4-12l0 39l4-30l0 64l3 1l0-50l4 22l0 67l4-21l0-13l3-22l0 77l4 10l0-22l4-2l0 49l3 10l0-53l4 47l0 28l3-3l0-22l4 2l0 38l3 5l0-15l4 6l0 52l3-16l0 35l3-2l0-51l4 32l0 62l3 19l0-44l3 25l0 55l4 20l0-72l3 36l0 29l3-32l0 72l3 77l0-158l3 41l0 56l3-12l0 95l4-42l0-61l3 33l0 88l3 6l0-90l3 39l0 92l3-28l0-79l4 79l0 86l3 19l0-77l4 40l0 105l4-12l0-56l3 56l0-117l4 52l0 65l3-24l0 191l4-62l0-93l3 0l0 112l4-37l0 105l3 0l0-122l4 75l0 74l3 31l0-180l3 0l0 360l4-58l0-87l3-93l0 312l3-74l0-211l3-27l0 417l4 0l0-485l3 200l0 465l4-180l0-179l3-180l0 539l3 0l0-465l3 48l0 237l3 0l0-105l3 0l0 285l4 0l0-180l3 180l0-359l4 179l0 180l4 0l0-359l4 179l0 180l4 0l0-180l4-105l0 285l3 0l0-285l3 285l3 0l7 0l5 0l11 0l20 0l7 0l13 0" stroke="#000" stroke-width="11.5"/>
<path d="M11768 4674l347-285l102-180l82 0l69-219l58 114l51-243l46 0l41-69l37-8l34-8l31-95l30 71l27-152l25-16l24 24l23-103l22 17l20-9l20-60l18-16l18-11l17-14l16-17l16-64l15 7l15-20l14-6l13-9l14-21l12-10l13-38l12 4l11-6l12-13l11-11l11-10l10-27l10-24l10 0l10-33l10-15l9 3l9-18l9-15l8-20l9-6l8-13l9 6l8-27l7 6l8-17l8-9l7 5l7-15l8-7l7-10l7 9l6-21l7-15l7-9l6-5l7-8l6-1l6 17l6-14l6-16l6-2l6-4l6-7l5-6l6-5l5-26l6 12l5-5l6-7l5-4l5-6l5-4l5-2l5-16l5 6l5-5l5-30l4 7l5 11l5-16l4 7l5-5l7-11l0-8l8-2l9-9l0-20l8-1l0 14l9-6l0-8l8-2l0 8l8-12l8-7l0-8l7-2l8-10l7 4l0-12l7-10l0-5l7-1l0 19l7-18l7-7l0-9l7 0l0 8l7-5l0-6l6-3l0 7l7-3l0-7l6-6l0-6l6 1l0 5l6-7l6-1l6-7l6-2l0-9l6-2l0 9l6-7l5 1l6-7l0-15l5 18l6-5l0-5l5 1l5-7l6 0l5-7l5-5l6-3l0 14l8-10l0-11l7 0l0 9l7-1l0-7l7 2l0 7l7-9l0-6l7-2l0 6l6-6l7 2l0-6l6 0l0 6l7 5l0-18l6 7l6 3l0-10l6 3l0 8l6 1l0-11l6 2l0 6l6-3l0-4l6 1l5-2l0 6l6 0l0-6l5-2l0 11l6 2l0-7l5 1l5 3l0-13l6 6l0 7l5 7l5-1l0 5l6 0l0-16l6 14l0 9l7 0l0-6l6 1l0 7l6-1l0-9l7 1l0 12l6 0l0 7l6 4l0-11l6 8l0 14l5-5l0-7l6 10l0 8l6-1l0-9l5 0l0 17l6-3l0 13l5 2l0-16l6 12l5 9l0 9l5 3l0-12l6 10l0 9l5-3l0 15l5 2l0-17l5 10l0 18l6 1l0-7l6 4l0 24l6-10l0 20l6 9l0-19l6 4l0 16l6 2l0 11l5 1l0 16l6 11l0-27l5 26l0 11l5 4l0-15l3 5l0 25l3 3l0-12l3 3l0 11l3-7l0 22l4-4l0 18l3-7l0-7l3-4l0 13l3 4l0-9l3 16l0 15l3 3l0-8l4 11l4 4l0 13l4 1l0 18l4-8l0 20l4-2l0 15l4 3l0-18l3 23l0 10l4-3l0 15l4-6l0 20l3-7l0 28l4 1l0-26l4 21l0 32l3 4l0-37l4 35l0 7l3-4l0 12l4-7l0 35l3 7l0-24l3 3l0 34l4-5l3 14l0 23l4 2l0-12l3 7l0 31l3 6l0-23l3 6l0 30l4-9l0 26l3 6l0-38l3 25l0 44l3 21l0-42l3-1l0 32l3 4l0 16l3-3l0 36l3 12l0-45l3 17l0 43l4 17l0-35l4 8l0 30l3 8l0 35l4 20l0-45l3 7l0 85l4 0l0-75l4 45l0 32l3 28l0-70l4 46l0 37l3-20l0 80l4 68l0-145l3 31l0 49l3 25l0-54l4-17l0 82l3 4l0-50l3 42l0 138l4-110l0-12l3 34l0 51l3-36l0 79l3-69l0 146l3-49l0-87l4 46l0 186l3-68l0-118l3 27l0 112l3-82l0 187l3-58l0-105l3 0l0 163l3 17l0-143l4 21l0 227l3-47l0-157l4 82l0 180l3-126l0-136l4 66l0 196l3 0l0-163l4 18l0 219l3 106l0-306l3 126l0 254l4-74l0-238l3 0l0 238l3-180l0 539l4-285l0-337l3 118l0 324l3 180l0-417l3 0l0 417l3 0l0-417l3-48l0 465l3-180l0-237l4 58l0 179l3-105l0 285l3 0l0-285l3 0l0 285l3 0l0-285l4 285l4 0l0-180l3-105l0 285l7 0l0-180l4 180l4 0l5 0l4 0l3-180l7 180l2 0l5 0l2 0l11 0l17 0" stroke="#000" stroke-width="11.5"/>
<path d="M11977 4674l138 0l102-285l82-132l69 0l58-87l51-93l46 0l41-152l37 105l34 47l31-285l30 119l27-14l25-173l24-43l23 0l22 18l20 39l20-78l18 27l18-111l17 89l16-146l16 73l15-73l15 13l14-60l13-14l14 22l12-8l13-24l12-15l11-23l12-24l11-34l11 16l10-16l10-17l10-11l10-37l10-18l9 6l9-17l9-3l8-4l9-13l8-9l9-25l8-11l7-26l8 21l8-45l7-2l7 1l8-3l7-26l7 7l6-7l7-22l7 8l6 5l7-12l6-11l6-9l6-2l6-12l6 2l6-4l6-6l5-9l6-6l5-6l6-23l5 17l6-30l5 8l5-10l5 13l5-32l5 13l5 2l5-25l5 23l4-41l5 2l5 3l4-1l5 0l4-28l5 3l4 8l5-14l4 3l4-13l4 18l5-27l4-12l4 9l4-23l4 12l4-14l4 2l4 10l3-7l4 0l4-27l4-5l4 6l3 3l4 10l3-18l4 4l4-19l3-8l4 0l3 6l4-3l3-4l3 0l4-7l3-4l3 1l4-18l3 12l3-15l3 3l3-15l4 13l3-11l3 2l4 0l0-7l6 2l0-8l6-6l6 7l0-14l6 8l0-22l6 2l5-4l0 18l6-11l0-6l5 5l0-17l6-5l0 14l5-6l0-11l5 0l6-4l0-6l5 1l0 5l5 5l0-13l6-10l0 26l8-12l0-19l7-2l0 17l7-10l0-12l7-1l0 5l7-7l0-6l7-6l0 15l6-6l0-10l7 2l0 9l6-11l0-11l7 2l6-6l0-4l6 0l0 9l6-7l0-6l6-2l0-6l6-1l0 7l6-3l0 6l6 4l0-17l5-1l0 11l6 5l0-15l5-8l0 26l6-18l0-6l5 4l5-1l0-7l6 4l0 6l5-1l0-8l5 5l0-13l6 6l0 9l6 10l0-19l7-2l0 11l6-4l0-12l6-2l0 11l7 0l6 3l0-6l6-2l6-2l0 13l5-6l0-7l6 1l0 11l6 3l0-7l5 4l0-10l6 7l0 9l5 0l0-15l6 7l0 9l5-1l0-4l5 3l0 8l6 2l0-11l5-4l0 19l5-1l0-6l5 3l0 10l6 1l0-10l6 1l0 16l6 4l0-15l6-1l0 17l6 6l0-14l6 13l0 7l5 3l0-9l6 8l0 14l5 5l0-14l6 7l0 4l5-3l0 14l5-4l0 13l6-3l5 4l0 12l5 7l0-14l5 7l0 15l6-11l0 24l6-10l0 21l6 9l0-18l6 12l0 14l4-4l0 12l4-4l0 14l4-11l0 25l3 3l0-13l4 8l0 7l3-6l0 27l4-4l0-19l3 12l0 11l4 3l0 13l3 11l0-22l4-7l0 27l3 18l0-42l4 33l0 9l3 5l0-12l3 5l0 20l3-9l0 32l4-6l0-17l3 11l0 20l3 12l0-37l3 32l0 13l3 4l0-18l4 14l0 24l3-2l0-19l3 10l0 23l3 7l0-23l3 25l0 14l3 10l0-26l3 24l0 17l4-15l0 44l4-13l0-27l3 39l0 22l4-2l0-31l4 10l0 48l3 23l0-58l4 16l0 52l3 14l0-30l4 19l0 21l3 0l0-24l3 27l0 30l4-4l0-32l3 24l0 27l3 11l0-34l4 20l0 33l3-4l0 36l3-8l0-30l3 17l0 44l4 3l0-25l3 17l0 26l3-18l0 67l3 7l0-53l3 6l0 47l3 22l0-54l3 11l0 36l3 13l0-35l4 9l0 36l3 24l0 29l4-15l0 65l3 16l0-63l4 10l0 50l3-28l0 70l3-18l0 73l4-5l0-79l3 29l0 55l4-14l0 78l3 6l0-97l3 18l0 92l3-31l0 123l4 51l0-185l3 62l0 91l3 11l0-141l3 32l0 142l3 0l0-89l3 45l0 21l4-74l0 254l3-91l0-129l3 75l0 167l3-43l0-124l3 12l0 155l3 52l0-179l4 84l0 200l3 0l0-179l4-75l0 254l3 48l0-227l3-21l0 248l4-122l0 359l3-105l0-254l3-58l0 312l3 105l0-285l3-39l0 504l4 0l0-465l3 48l0 417l3 0l0-359l3-106l0 465l3 0l0-285l4-74l0 359l3 0l0-359l3 179l0 180l3 0l0-285l4 0l0 285l3 0l0-285l3 105l0 180l4 0l0-180l4 180l3 0l4 0l0-180l6 180l7 0l6 0l7 0l5 0" stroke="#000" stroke-width="11.5"/>
<path d="M12115 4674l184-285l69 105l58 0l51-105l46-132l41-48l37-39l34-118l31 25l30 27l27-95l25-70l24-42l23-47l22 47l20-87l20 101l18-82l18 56l17-133l16-7l16-34l15-24l15-6l14 12l13-12l14-5l12-59l13-21l12-27l11 4l12 48l11-41l11 8l10-53l10-33l10 33l10-30l10-61l9 4l9-2l9-17l8-23l9-31l8 2l9-12l8-18l7 20l8-32l8 27l7 0l7-25l8-33l7-11l7 29l6-37l7 4l7-17l6 1l7-3l6-42l6 70l6-66l6 1l6-4l6 18l6-49l5 42l6 0l5-52l6-2l5-38l6 54l5-11l5-60l5 29l5-21l5 9l5-25l5-8l5 8l4 1l5-2l5-31l4 2l5 36l4-13l5-28l4-10l5 8l4-15l4-2l4-1l5 18l4-11l4-25l4 0l4-21l4 5l4-1l4 3l3-5l4-23l4-4l4-2l4 1l3 6l4 15l3-21l4 0l4-12l3-7l4-12l3 11l4 14l3-30l3 28l4-42l3 17l3-25l4 8l3-8l3-15l3 13l3-10l4-3l3 11l3-20l3 3l3-5l3-4l4 6l0-25l6 2l0 9l6-1l6 1l0-17l6-11l0-12l5 3l0 9l6-15l0 33l5-22l0-7l6 4l0-17l5 2l0 6l5 0l0-22l5 8l0 5l5-5l5 1l0-6l5-5l5 2l0-24l5 12l0 5l5-17l0-11l5 9l0 5l4 5l0-16l5-2l0 6l5 6l0-17l4-3l0 10l5-16l0-7l4 10l5 2l0-16l4 3l0 7l4-9l4-1l6 9l0-19l6 2l0 5l6-9l0-11l6 5l0-13l6-3l0 20l6-11l0-10l6 4l0-10l5 6l0-12l6 0l0 4l6 4l0-19l5 6l0 7l5-2l0-11l6-2l0 5l5-4l0-9l5 2l0 19l5-16l0-17l5 8l0 9l6-1l0-10l7 1l0-8l6-4l0 15l7-6l0-11l6-3l0 6l6-1l0-7l6 0l0-12l6-4l0 14l6 3l0-15l6 2l0 8l6-2l0-9l5 2l0 6l6-4l5-5l0 11l6-4l0-19l5 13l0 9l5-8l0-11l6 2l0 14l5-2l0-22l5 9l0 14l6-4l0-5l6 4l0-20l6 15l0 12l6-4l0-12l6-7l0 21l6-7l0-6l5 0l0 5l6-4l0 9l6-3l0 14l5 1l0-18l6 5l0 15l5 8l0-30l5 13l0 8l6 5l0-15l5 0l0 20l5 3l0-25l5 11l0 16l5-3l0-12l6 4l0 23l6-2l0-19l6 5l0 22l5-2l0-29l6 19l0 15l5 5l0-12l6 0l0 18l5-2l0 9l6 6l0-16l5 6l0 17l5 1l0-12l5 8l0 12l5-3l0 17l6-10l0 24l5-3l0-14l3 7l0 11l3-5l0 23l3-5l0-18l3 8l0 19l4 8l0-17l3 3l0 18l3 6l0-26l3 13l0 17l3-8l0-6l3-2l0 23l3-3l0 13l4-8l0 23l4 9l0-24l3 2l0 39l4-3l0-12l4-9l0 21l3-9l0 19l4-9l0 23l3 1l0-24l4 25l0 17l3-4l0-12l3 19l0 12l4 22l0-48l3 22l0 20l3 10l0-24l4 15l0 13l3-12l0 28l3 14l0-37l3 34l0 26l4-6l0-18l3 4l0 45l3-8l0-25l3 9l0 32l3 7l0-14l3-15l0 51l3 1l0-27l3 0l0 48l4 0l0-30l3 12l0 47l4 6l0-32l3 16l0 41l4 0l0-27l3 18l0 19l3-5l0 34l4 15l0-38l3 3l0 53l4 0l0-34l3 13l0 51l3 26l0-54l3 31l0 14l4-6l0 42l3 15l0-38l3 15l0 49l3-12l0-35l3 18l0 38l3 15l0 32l4 11l0-62l3 15l0 40l3-21l0 46l3 25l0-63l3 31l0 60l3 32l0-70l4-5l0 58l3-6l0 70l4 43l0-107l3 13l0 129l3 0l0-97l4 23l0 74l3 23l0-113l3 46l0 98l3-31l0-38l3 5l0 124l4 45l0-111l3-13l0 180l3-12l0-135l3 0l0 187l3-14l0-151l3 80l0 71l3-38l0 99l3 58l0-169l4 0l0 243l3 105l0-284l3 14l0 138l4 27l0-219l3 145l0 227l3 0l0-248l4 43l0 263l3-58l0-153l3-27l0 312l3 105l0-390l3 66l0 324l3 0l0-390l4 153l0 417l3-285l0-180l3 106l0 359l3 0l0-465l3 106l0 359l4 0l0-285l3 0l0 285l4 0l0-285l3 105l0 180l4 0l0-285l3 105l0 180l4 0l0-180l5 0l0 180l3 0l0-180l4 180l2 0l4 0l5 0l2-180l7 180l3 0l9 0l34 0" stroke="#000" stroke-width="11.5"/>
</g>
<g transform="scale(0.1)" fill="none" stroke-linejoin="round">
<path d="M16195 2322l451-513l209-180l138-68l103-6l82 37l68 69l59 96l51 117l46 137l41 152l37 169l34 173l32 190l29 157l28 151l25 109l24 97l23 78l22 44l20 41l20 57l18 57l18 54l17 34l17 85l15 68l15 13l15-7l14 44l14 72l13 21l13 111l12 58l12-58l12 18l12-18l11 238l10-75l11 122l10-47l10-157l10 82l9 180l10-58l9 133l9-220l8 325l9 180l8 0l9-285l8 285l7-180l8 0l15 180l8-180l7 180l14 0l13 0l13 0l7 0l12 0l6 0l18 0l34 0l5 0" stroke="#000" stroke-width="11.5"/>
<path d="M16195 2369l451-517l209-187l138-77l103-17l82 25l68 56l59 80l51 101l46 119l41 135l37 148l34 154l32 163l29 159l28 137l25 132l24 77l23 56l22 75l20 38l20 42l18 77l18 17l17 45l17 28l15 34l15 102l15-24l14 66l14-4l13 40l13 53l12 108l12-33l12 61l12 126l11-44l10 14l11 0l10 65l10 0l10 145l9 75l10-238l9 238l9 47l8 0l9-87l8 220l9-220l8 87l7-152l8 210l8-105l7 105l8 360l7-180l7 0l7 0l7-105l13 0l6-75l7 180l12 180l12-180l18-105l6 105l5 180l11 0l6-180l10 180l5 0l6 0l82 0l9 0l8 0" stroke="#000" stroke-width="11.5"/>
<path d="M16195 2414l451-518l209-194l138-85l103-26l82 13l68 43l59 67l51 86l46 103l41 118l37 133l34 135l32 147l29 144l28 126l25 111l24 105l23 50l22 68l20 53l20 29l18 36l18 42l17 27l17 52l15 30l15 33l15 67l14 28l14 71l13-41l13 80l12 38l12 59l12-23l12 28l11 78l10 13l11 14l10 15l10 125l10-93l9 37l10 32l9-32l9 32l8 64l9 15l8 113l9 24l8-122l7 54l8 161l8-215l7 180l8-30l7 65l7-35l7-30l7 105l6-75l7 180l6 75l7-75l6 75l6 0l6-180l6 105l6 180l6 180l6 0l6-360l5 180l6-180l5 180l6-180l10 360l5-180l16 0l5-105l4 105l5 180l14-180l14 0l5 180l13 0l56 0" stroke="#000" stroke-width="11.5"/>
<path d="M16195 2470l451-531l209-199l138-93l103-35l82 4l68 31l59 55l51 73l46 89l41 102l37 115l34 128l32 125l29 140l28 109l25 124l24 85l23 80l22 45l20 50l20 35l18 32l18 48l17 43l17 20l15 57l15 5l15 8l14 71l14 45l13 11l13 28l12-3l12 52l12 36l12 9l11 70l10-29l11 55l10 49l10-31l10 57l9 44l10 29l9 0l9 6l8 33l9 46l8 26l9-18l8 9l7 72l8-113l8 113l7-33l8 100l7-111l7 143l7 81l7-44l6 68l7 0l6 0l7-24l6 82l6 255l6-313l6 93l6-65l6 0l6 152l6 238l5-180l6-58l5 0l6 58l5 0l5 180l5-105l6 105l5-105l5 0l5-75l4 0l5 360l5-360l9 360l5-180l5 180l4 0l5 0l8-180l5 180l8-180l21 0l15 180l47 0" stroke="#000" stroke-width="11.5"/>
<path d="M16195 2514l451-530l209-205l138-99l103-44l82-5l68 21l59 43l51 61l46 76l41 89l37 101l34 110l32 112l29 122l28 115l25 98l24 102l23 57l22 76l20 42l20 39l18 31l18 51l17 13l17 46l15 15l15 43l15 39l14 14l14 37l13-2l13 70l12-7l12 47l12 1l12 2l11 87l10 18l11 17l10-63l10 92l10-31l9 14l10 35l9 28l9 7l8 48l9-36l8 46l9 73l8-4l7 38l8-5l8-24l7 39l8 119l7-24l7-79l7 95l7 53l6 44l7 38l6-110l7 154l6-70l6 70l6-30l6 105l6-75l6-44l6 79l6 40l5-145l6 192l5 58l6 0l5-105l5 180l5 47l6 133l5 0l5-75l5-145l4 40l5 285l5-105l5-133l4-47l5 47l5 133l4 0l5 0l4 0l4 0l5-180l4 465l4-180l4 180l4 0l5 0l12-180l11 180l4 0l8 0l7-180l4 180l3 0l4 0" stroke="#000" stroke-width="11.5"/>
<path d="M16195 2560l451-532l209-209l138-106l103-50l82-14l68 12l59 33l51 50l46 64l41 77l37 87l34 97l32 108l29 111l28 103l25 109l24 93l23 82l22 72l20 53l20 56l18 32l18 28l17 31l17 37l15 17l15 49l15-2l14 4l14 61l13 37l13-21l12 16l12 61l12 9l12 26l11 13l10 18l11 9l10 48l10 2l10 11l9 40l10-12l9 14l9 5l8 0l9 68l8 22l9 37l8-14l7 11l8 34l8 54l7 0l8-12l7 16l7 44l7 71l7-12l6 32l7 53l6-124l7 39l6 61l6-55l6 40l6 95l6 33l6 82l6 0l6-15l5 32l6-17l5 122l6-87l5 400l5-313l5-68l6 0l5 68l5-47l5 140l4 0l5-117l5 52l5 152l4-87l5 325l5-285l4 285l5-180l4-105l4 105l5 0l4 0l4-58l4 238l9 180l4 0l4-285l4 0l7-75l8 75l4 105l7 180l4 0l4-360l3 360l11 0l4 0l3 0l7 0l3 0l36 0l32 0l6 0" stroke="#000" stroke-width="11.5"/>
<path d="M16195 2608l451-535l209-214l138-111l103-57l82-22l68 4l59 24l51 40l46 53l41 66l37 76l34 85l32 93l29 96l28 104l25 98l24 102l23 91l22 72l20 75l20 44l18 57l18 24l17 20l17 23l15 26l15 25l15 16l14 38l14 14l13 41l13 5l12 33l12-30l12 61l12-13l11 35l10 38l11-14l10 25l10-5l10 19l9 30l10 24l9 4l9 46l8-3l9 3l8 22l9 44l8 11l7-37l8 10l8 100l7 15l8-25l7 45l7-35l7 94l7 39l6-53l7-4l6 4l7 41l6 91l6 12l6-23l6 116l6 18l6 63l6-81l6 0l5 58l6-66l5 8l6 163l5-15l5 69l5-37l6-32l5 69l5-54l5 35l4 220l5-201l5 161l5-65l4 0l5-96l5 248l4-180l5 93l4 87l4-47l5 47l4-87l4 40l4 465l4-360l5 180l4-180l4 75l4 105l4 180l3-180l4 180l4-180l4-238l4 418l3-285l4-75l4 180l7 180l4 0l20 0l20 0l10 0l6 0l18 0l9 0" stroke="#000" stroke-width="11.5"/>
<path d="M16195 2649l451-530l209-218l138-117l103-63l82-29l68-4l59 16l51 31l46 44l41 55l37 66l34 74l32 81l29 90l28 88l25 90l24 106l23 81l22 81l20 71l20 60l18 55l18 33l17 38l17 33l15 18l15 34l15 5l14 25l14 19l13 0l13 31l12 28l12 8l12 0l12 11l11 14l10 26l11 4l10 30l10-1l10 10l9 16l10 22l9 2l9 17l8 2l9 4l8 14l9 27l8 51l7-19l8 9l8 8l7 42l8 44l7-8l7 41l7 40l7-11l6-13l7 77l6-19l7 39l6 3l6-6l6 46l6 22l6 46l6 75l6 33l6-27l5 34l6-90l5 69l6 77l5-33l5 24l5 58l6-30l5-68l5 109l5 12l4 52l5 0l5 0l5 0l4 47l5-47l5 30l4 75l5 105l4-145l4-18l5 198l4-65l4 30l4 180l4-105l5 47l4 58l4 0l4-145l4 220l3-75l4 0l4 75l4 285l4-180l3-105l4 105l4-105l3 0l4-75l4 180l3 0l4 180l3-285l3 285l4 0l3 0l4 0l6 0l7-180l6 180l19 0l41 0" stroke="#000" stroke-width="11.5"/>
<path d="M16195 2702l451-540l209-220l138-121l103-68l82-35l68-11l59 7l51 23l46 36l41 46l37 55l34 64l32 72l29 77l28 83l25 85l24 85l23 85l22 81l20 78l20 61l18 56l18 42l17 28l17 34l15 28l15 23l15 19l14 11l14 27l13 14l13 4l12 15l12 11l12-2l12 17l11 1l10 35l11 20l10 7l10 22l10-21l9 40l10-6l9 23l9-2l8 25l9-5l8 26l9 15l8 23l7 0l8 24l8 9l7 43l8 17l7-6l7-7l7 59l7 30l6 21l7-6l6 52l7 18l6-10l6 45l6-45l6 65l6 35l6 66l6-66l6 15l5 16l6 85l5-14l6 18l5 46l5-26l5-15l6 149l5 0l5-66l5 6l4 7l5 98l5 11l5-20l4 30l5 0l5 61l4 0l5-26l4-24l4 24l5 285l4-140l4 0l4-21l4 44l5-23l4 140l4-140l4 180l4-40l3-35l4 0l4-30l4 152l4 238l3-105l4 105l4-390l3 105l4 180l7 285l4-465l3 47l3 133l4 285l3 0l4-180l6 0l4 0l3-105l3 285l3 0l3 0l10 0l3 0l12 0l7 0l5 0l7 0l10 0" stroke="#0000ff" stroke-width="17"/>
<path d="M16195 2737l451-547l209-222l138-124l103-72l82-38l68-15l59 4l51 18l46 30l41 41l37 50l34 59l32 65l29 72l28 78l25 79l24 81l23 81l22 76l20 71l20 63l18 54l18 56l17 14l17 51l15 25l15 5l15 1l14 34l14 7l13 31l13-6l12-1l12 27l12 26l12 2l11 10l10 1l11 11l10 13l10 11l10 8l9 10l10 22l9 1l9 14l8-5l9 5l8 25l9 14l8 16l7 34l8-5l8 20l7 13l8 30l7 21l7 18l7 32l7 13l6 5l7 29l6 22l7 3l6 43l6-6l6 48l6 78l6-12l6-2l6 28l6-12l5 50l6-6l5 54l6-10l5 28l5 8l5-4l6 90l5-44l5 39l5 28l4 6l5 69l5-63l5 33l4 135l5 0l5 38l4 0l5-135l4 97l4 12l5 124l4-69l4-15l4 15l4 137l5-152l4 65l4 145l4-126l4 68l3-47l4 140l4 325l4-442l4 82l3 0l4 255l4-337l3 442l4-285l4 47l3 58l4 75l3-75l3-58l7 133l4 285l3-285l3 105l7-105l3 0l3 105l3 180l4-285l3 285l3-285l6 285l6 0l9-180l6 180l46 0" stroke="#000" stroke-width="11.5"/>
<path d="M16195 2777l451-536l209-229l138-127l103-77l82-43l68-20l59-3l51 12l46 23l41 34l37 42l34 50l32 57l29 64l28 68l25 75l24 71l23 73l22 81l20 77l20 70l18 55l18 57l17 60l17 36l15 40l15 21l15 26l14 8l14 13l13 10l13 1l12 0l12 15l12 17l12 5l11 22l10-6l11-4l10-5l10 5l10-12l9 14l10 13l9-12l9 20l8 5l9-8l8 19l9 10l8-5l7 17l8 8l8 11l7 2l8 16l7 5l7 23l7-9l7 18l6 19l7 22l6 17l7 23l6-4l6 22l6-2l6 19l6 21l6 19l6-20l6 41l5-41l6 47l5 21l6 23l5-3l5 19l5 0l6 31l5-10l5 7l5 35l4 13l5-40l5 92l5-36l4 13l5 55l5-16l4-2l5 34l4-5l4 49l5-27l4 42l4 9l4 48l4 28l5 66l4-122l4 17l4 75l4-19l3 55l4-6l4 54l4-43l4 103l3-73l4 57l4 16l3-24l4 125l4-12l3-33l4 57l3-129l3 222l4 40l3-169l4 169l3-58l3 0l4 105l3-47l3-105l3 245l3-117l4-23l3 47l3 313l3-220l3-117l3 204l4 133l6-75l0 180l6 0l0-360l6 180l0 75l6-75l0 180l5 180l0-360l6-58l0 133l5 105l0 180l7-285l7 105l0 180l5 0l0-180l6 180l8 0l15 0l25 0" stroke="#000" stroke-width="11.5"/>
<path d="M16195 2848l451-532l209-232l138-132l103-83l82-50l68-28l59-10l51 3l46 15l41 24l37 32l34 40l32 46l29 53l28 57l25 61l24 66l23 71l22 64l20 66l20 68l18 62l18 66l17 49l17 49l15 36l15 35l15 5l14 14l14-2l13 20l13 0l12 27l12-15l12 9l12-7l11 6l10-9l11 2l10 3l10 12l10-10l9 1l10 6l9 11l9 11l8-9l9 4l8-3l9 6l8 8l7 11l8-5l8 24l7 12l8-3l7 6l7 17l7 6l7-9l6 17l7 4l6 12l7 7l6 8l6 24l6-8l6 35l6-22l6 33l6 4l6 5l5-3l6 17l5 32l6-13l5 20l5 3l5 5l6 11l5 5l5 10l5 35l4-14l5 27l5 8l5 36l4-38l5 25l5 40l4 3l5 10l4 38l4-63l5 59l4-8l4 32l4 25l4 8l5 55l4-27l4 27l4 3l4-29l3 62l4-19l4 45l4 20l4-2l3-13l4 13l4 5l3 57l4 62l4-56l3 42l4 77l3-23l3-36l4-18l3 50l4 32l3 59l3-23l4 69l3 31l3-45l3 14l3 152l4-145l3 98l3-30l3-52l3 93l3 79l4-43l0-12l6 55l0 32l6-17l0 98l6 52l0 65l6-93l5 93l0 87l6 0l0 133l5-75l0 180l6-180l0-105l5 47l0 133l5-180l0-40l5 87l0 418l6-180l0-180l5 360l5-285l0-75l6 360l6 0l6 0l12-180l5 0l0 180l4 0l20 0" stroke="#000" stroke-width="11.5"/>
<path d="M16195 2941l451-540l209-237l138-137l103-87l82-56l68-34l59-18l51-5l46 6l41 15l37 23l34 29l32 36l29 41l28 45l25 50l24 56l23 53l22 59l20 59l20 54l18 55l18 59l17 48l17 42l15 47l15 25l15 30l14 30l14 12l13 0l13 8l12 12l12-2l12 10l12-13l11 5l10-5l11 0l10-3l10 15l10-5l9 3l10 0l9-12l9 4l8 10l9-1l8 2l9-3l8 5l7 10l8 5l8-12l7 14l8 9l7 10l7 10l7 2l7 18l6-10l7 18l6 9l7 0l6 10l6-5l6 26l6-8l6 33l6-12l6 22l6-5l5-6l6 29l5 9l6 0l5 5l5 9l5 20l6 9l5 3l5 5l5 13l4 16l5 3l5 17l5 17l4 4l5-2l5 30l4-9l5 24l4-16l4 16l5 21l4 20l4-9l4 21l4 32l5 4l4 8l4 3l4 8l4 7l3 19l4-3l4 36l4 28l4 8l3 20l4 16l4-7l3 15l4 23l4-21l3 30l4 25l3 0l3 30l4 10l3 82l4-40l3 22l3-10l4 39l3-27l3 83l3 14l3 3l4 4l3 8l3 8l3 16l3 22l3-22l4 32l0 47l6 6l0-53l6 84l0 68l6-8l0-73l6 65l0 64l5-11l0-9l6 0l0 77l5 0l0 112l6-19l0-18l5-32l0 69l5 0l0-124l5 124l0 68l6 28l0 65l5 0l0 145l5 180l0-418l5 93l0 40l4 47l0-152l5 152l5 0l5 0l0-47l4 180l5 0l0-75l5-58l0 133l4 0l0 105l5 0l0-105l5 0l5 285l5 0l3 0l5 0l6 0l7 0l10 0l11 0l9 0l7 0" stroke="#000" stroke-width="11.5"/>
<path d="M16195 3138l451-570l209-244l138-139l103-99l82-65l68-45l59-29l51-17l46-8l41 0l37 6l34 13l32 17l29 22l28 26l25 29l24 31l23 34l22 37l20 39l20 33l18 40l18 43l17 38l17 37l15 30l15 32l29 52l27 44l13 11l12 26l12 2l12 14l12 2l11 8l10-6l11-1l10-11l10 12l10-1l9-8l10 10l9-10l9-9l8 5l9-5l8-4l9 13l8-3l7-2l8 6l8 9l7-6l8 8l7 9l7 5l7 4l7 15l6-5l7 13l6 7l7 9l6 3l6-2l6 14l6 11l6 2l6 5l6 6l6 14l5-8l6 18l5 1l6 9l5 5l5 14l5 2l6 8l7 4l10 12l0 10l10 17l0 18l7-4l4 2l5 6l5 16l4 15l5 0l4 22l4-13l5 14l4 26l4-7l4 23l4 9l5-2l4 10l4 10l4 15l4 14l3 11l4 11l4 1l4 20l4 7l3 1l4 4l4 48l3-24l4 33l4-1l3 38l4 4l3 12l3 27l4-16l3 12l4 3l3 7l3 25l4 3l3-3l3 36l3-6l3 39l4 0l3 9l3 27l3-25l3 46l3-20l4 20l0 52l6 30l6 2l0-15l6 50l0 17l6 2l0-39l5 60l0 5l6 0l0 107l5 4l0-69l6 18l0 26l5-7l0 48l5 16l0 37l5-53l0 126l6-53l0 127l5-99l0-23l5 48l0 34l5 40l0 48l4-30l0-58l5-7l0 140l5-12l0 38l5 29l0 69l4 0l0-69l5 32l0-99l5 24l0 180l4 0l0 180l5-87l0-140l4-21l0 161l4 87l0-180l5 58l0 35l4 0l0 145l4 0l0-105l4-40l0 87l4 133l0 105l5 0l0-105l4 105l0 180l4-285l0-75l4 360l4 0l0-285l3 105l0 180l4-285l0-75l4 0l0 180l4 0l3 180l6-180l4 180l4 0l0-180l6 180l22 0l0-180l5 180l4 0l58 0" stroke="#000" stroke-width="11.5"/>
<path d="M16195 3489l451-555l209-250l138-151l103-103l82-77l68-59l59-44l51-34l46-21l41-17l37-13l34-4l32-7l29 3l28 4l25 4l24 7l23 5l22 13l20 13l20 13l18 8l18 20l17 6l17 15l15 17l15 13l29 28l27 24l25 17l24 8l23 9l21 3l20 2l19-10l19 6l17-5l17-3l17-2l15 4l15 12l22 17l20 14l20 22l18 14l18 26l17 6l17 31l15 9l6 17l7 10l0 6l10 4l10 3l0 6l9 19l9 10l0 16l9 1l0 8l9 21l9 4l0 17l8 4l0 6l8 17l9 22l8 6l0 5l7 16l0 15l8 1l0 7l8 7l0 14l5 9l4 12l3 19l4 8l4 2l3-3l4 15l3 23l3 1l4 19l3 5l4 6l3 8l3 23l4-10l3 13l3 19l3 31l3-21l4 26l3 5l3 21l3 12l3-1l3 11l4 9l0 26l6 2l6 24l0 22l6 16l0 16l6-3l0-19l5 43l6 17l0 12l5 12l0 10l6 13l0 50l5 17l0-38l5 19l0 16l5 18l0 11l6-4l0 96l5-18l0-6l5 4l0-28l5 28l0 98l4-19l0-49l5 52l0 30l5-3l0 31l5-3l0-33l4 56l0 26l5 4l0-37l5 11l0 55l4-33l0-22l5 64l0 73l4 19l0-42l4 11l0 97l5-53l0-61l4 90l0 80l4 21l0-85l4 8l0 66l4-40l5 30l4-48l0 148l4 0l0-29l4 0l0 29l4 15l0 35l3 19l0-69l4 90l0 180l4-40l0 145l4-180l4 0l0 75l3 47l0-204l4 24l0 238l4-105l0-105l3 152l0 58l4 0l0-105l4 0l0 180l3-75l0-58l4-47l0 465l3-180l0-180l3 0l0-58l4 133l0 105l3-105l0 285l4-180l0-180l3 180l0 180l3 0l0-180l5 0l0-105l3-133l8 238l4-105l0 285l2-285l3 285l4 0l4 0l3 0l0-285l3 285l6 0l11 0l48 0l48 0" stroke="#000" stroke-width="11.5"/>
<path d="M16195 4144l451-636l209-262l138-159l103-111l82-81l68-73l59-61l51-43l46-45l41-25l37-27l34-21l32-15l29-20l28-23l25-7l24-1l23-14l22-7l20-7l20 2l18 6l18-4l17-4l17 1l15 13l15 0l29 6l14 10l13 11l13 2l12 11l12 0l12-6l12 0l11 4l10-2l11 2l10-11l10-4l10-2l9 2l10-12l9-1l17-6l17-8l17-7l15-6l15-5l22-5l20 7l20-10l18 2l18 3l17-10l17 4l15 2l16-7l19-1l19 5l17-13l17 8l17 1l15 4l15 5l19 11l17 5l17 6l16 10l10 6l0 6l6-4l0 10l6 0l0 6l6 4l0-11l6 16l6 5l6-1l5 9l0 8l6-3l5 1l0 4l5-1l6 14l0 11l5-2l0-8l5 7l0 13l5-2l0 6l6 2l8 4l0 12l7-2l0 8l7 8l0 10l7-2l0 7l7 1l0 12l7 5l0 10l7 0l0 8l6 2l0 14l7 2l0 10l6-4l0 19l6-1l7 9l0 13l6-3l0 17l6-4l0 12l5 11l3-5l0 12l4 3l4 1l0 15l4 7l0 4l4-5l0 14l3-4l0 15l4 8l0 7l4 0l3 10l0 4l4 1l0-7l4 26l3-6l0 18l4-2l0 7l3 7l3-1l0-7l4 41l3-5l0 17l4-6l0-9l3 27l0 7l3-5l0-9l4 8l0 14l3-7l0 20l3-1l0 7l3 5l0 6l3 4l0 18l4 6l0 14l3-12l3 11l0-26l3 48l0 9l3-5l3 1l0-15l4 7l0 52l4 0l0-21l5 13l0 17l4 10l0 20l4 0l0 44l5-20l0-17l4 17l0 61l4-12l0-43l4 29l0 34l4 17l0-36l4 12l0 80l4-21l0-51l4 33l0 22l4 1l0 35l4-22l0-25l4 19l0 57l4 9l0-25l4 20l0 44l4-17l0 54l3-2l0-42l4 2l0 25l4 22l0 58l3-70l0 161l4-68l0-98l4 62l0 22l3-40l0 96l4-28l0 63l3-18l0-41l3 4l0 50l4 5l0 30l3-20l0 66l4-6l0-84l3 55l0 62l3 14l0-71l4 43l0 60l3-32l0-34l3 6l0 44l3 8l0-31l4 23l0 117l3-56l0-45l3 8l0 18l3 19l0 111l3-43l0-24l3 12l0 105l3-50l0-55l3 12l0 133l4 0l0-105l4 15l0 165l4-28l0-166l3 119l0 140l4 145l0-343l4 37l0 248l4 0l0-285l4 37l0 248l3-152l0 390l4 180l0-418l5 58l0 75l3 285l0-598l4 238l0 360l3 0l0-505l4 145l0 180l3-105l0 285l4 0l3-180l0-180l3 180l0 180l5 0l0-285l3 105l0 180l3-180l0-180l4 75l0 285l3 0l0-180l3 180l3 0l4 0l5-180l4 180l9 0l5 0l0-180l4 180l3 0l0-180l3 180l4-180l6 180l2 0l9 0l28 0l8 0" stroke="#ff0000" stroke-width="17"/>
<path d="M16195 4684l451-540l209-375l138-100l103-144l82-77l68-119l59-37l51-92l46-31l41-47l37-45l34-26l32-46l29-40l28-19l25-17l24-52l23-2l22-25l20-28l20-18l18-15l18-22l17-11l17-5l15-34l15-14l15-14l14-12l14-12l13-3l13-6l12-8l12-8l12-16l12-16l11 0l10-10l11-13l10-9l10-19l10-13l9-3l19-19l17-20l17-19l17-16l15-4l15-11l22-10l20-10l20 4l18-16l18-3l17-8l17-6l15 4l16-2l19-6l19 4l17-6l17 5l17 6l15-8l15 11l19 6l17 11l17 11l16 4l15 15l18 16l17 21l16 17l16 17l4 5l0 9l5-1l6 7l0 7l7-1l0 18l7 2l0-11l8 11l0 21l7-3l0 9l6 3l0 10l7 5l0 8l7 2l0 13l6 5l0 8l7-8l0 18l6 5l0 12l6 3l0 4l7 9l0 8l6 5l0 14l6 0l5 12l0 13l6 3l0 17l6-4l0 13l6 1l0 20l4-2l0 19l4-2l4 11l3 1l0 14l4 1l3 8l0 11l4-4l0 15l3 1l4 8l0 21l3 1l0-17l4 24l0 4l3 10l3 16l0 5l4 0l0 5l3 7l0 12l3 4l0 4l3-2l0 6l4 2l0 10l3-1l0 6l3 5l0 7l3 4l0 11l3 3l0 7l3 0l0 23l3-2l0-13l3 22l0 24l3 0l0-10l4 12l0 35l5-13l0-13l4 30l0 12l4 4l0 12l5 11l0 8l4 0l0 34l4 10l0-21l4 29l0 33l5 5l0-30l4 14l0 34l4-14l0 53l4-21l0-5l4 18l0 53l4 2l0-33l4 2l0 43l3-5l0 42l4 32l0-66l4 30l0 27l4-5l0 55l4-10l0 27l3 8l0-80l4 37l0 40l4-24l0 89l3-34l0 70l4-16l0-48l3 21l0 35l4-4l0-55l3 59l0 35l4-18l0 38l3-34l0 72l3-23l0 90l4 24l0-66l3 0l0 42l3-15l0 47l4 48l0-102l3 38l0 64l3 10l0-126l3 86l0 145l4 54l0-112l3-12l3-12l0 117l3-65l0-28l3 93l0 19l3 68l0-152l3 84l0 68l4 0l0-87l4 0l0 115l4-28l0-87l3 115l0 65l4-35l0 540l4-285l0-220l4-65l0 210l4 0l0 75l3 0l0-180l5 47l0 418l4-180l0-285l3 47l0 418l4 0l0-360l4 75l0 285l4 0l0-360l3 0l0 180l3-105l0 285l4 0l0-180l3 180l10 0l4 0l0-180l4 180l2 0l3 0l5 0l6 0l0-180l4 0l0 180l3 0l23 0l11 0" stroke="#000" stroke-width="11.5"/>
<path d="M16646 4504l209-238l138-122l103-195l82-120l68-89l59-38l51-67l46 14l41-141l37-29l34-52l32-6l29-14l28-46l25-53l24-40l23-19l22-20l20-13l20-36l18-11l18-24l17-27l17 2l15-46l15-4l15-8l14-5l14-21l13-12l13-23l12 10l12-42l12 0l12-15l11-11l10-23l11-1l10-25l10-12l10-6l9-14l10-21l9-15l9-11l8-16l9 8l8-25l9-3l8-16l7-4l8 4l8-12l7-18l8-9l7 8l7-6l7-8l7 1l6-12l7-10l6 4l7-15l6 19l6-26l6 5l6-5l6-8l6 1l6-12l6-7l5-8l6 10l5-7l6-4l5-8l5 1l5-8l6-7l7-6l10 8l0-21l10 4l9-14l9 0l0-9l9 0l0-8l9 1l0 11l9-16l8 2l0-10l8 0l0-8l9 5l0 4l8-6l0-5l7 0l8-5l8-3l0 7l7-14l0-5l7 8l7-4l0-10l16-1l17-6l16-1l15-5l18-5l17 1l16 8l16-3l15 3l17 5l16-1l14 7l0 7l6 5l0-16l7 7l0 14l6-1l0-12l6 8l0 13l7 4l0-17l6 18l0 4l6-6l0 16l6 0l0-15l5 10l0 9l6-4l0 10l6 0l0 4l5 5l0-12l6 13l5 5l0 11l6 0l0-8l5 9l0 12l5 5l0-10l5 5l0 8l5 5l0-10l6 0l0 18l7 2l0 16l6-5l0 14l7 0l0 13l6-4l0 17l6-4l0 7l6-1l0 13l6 8l0 5l6 4l0 7l6-3l0 22l6 5l0-12l6 11l0 15l5-3l0 24l5-10l0 32l4-1l0-9l4-2l0 15l4 0l0 9l4-1l0 10l4-3l0 19l4 1l0 10l4-9l0 19l4-1l0 7l4 7l0 13l4-8l0 17l3 10l0-23l4 18l0 7l4 3l0 16l3-9l0 18l4-13l0 28l4 1l0-15l3 19l0 31l4-1l0-10l3 13l0 25l3-7l0-14l4 14l0 20l3-13l0 35l4 1l0-19l3 6l0 36l3-4l0 9l4-11l0 29l3 7l0-16l3 4l0 25l3-1l0-7l4 9l0 29l3 2l0-26l3 37l0 26l3-9l3-14l0 30l3-1l0 28l3 0l0 8l3-8l0 22l4 9l0-26l4 24l0 32l4 18l0-43l3 62l0 11l4 17l0-53l4 23l0 53l4-7l0-30l4 29l0 47l3-41l0 82l4-3l0-28l4-22l0 70l3 26l0-55l4 39l0 61l3 3l0-40l4-11l0 91l3-29l0 90l4 42l0-171l3 42l0 102l4 78l0-183l3 85l0 65l3 87l0-196l4 49l0 60l3-35l0 114l3 56l0-205l3 103l0 123l4 0l0-123l3 72l0 87l3-36l0-41l3-60l0 180l3 50l0-150l3 45l0 105l3 63l0-180l3 12l0 145l4 47l0-216l3 129l0 267l4-122l0-180l3 75l0 285l4-180l0-145l4 0l0 400l3-75l0-210l4 65l0 87l3 0l0 238l4 0l0-360l3-58l0 598l4 0l0-570l3 65l0 505l3-180l0-180l4 0l0 360l3 0l0-360l3 0l0 360l3-180l0-105l4 105l0 180l4 0l0-285l3 105l0 180l3 0l0-360l4 75l0 285l3 0l0-285l5 285l4 0l3 0l4 0l3 0l6 0l4 0l5 0l5 0l13 0l12 0l20 0" stroke="#000" stroke-width="11.5"/>
<path d="M16646 4399l209 105l138-325l103 40l82-40l68-65l59-75l51-133l46-105l41 0l37-142l34 26l32-21l29-38l28 33l25-109l24 10l23-47l22-2l20-27l20-25l18-22l18-34l17-41l17-15l15-15l15 18l15-46l14-17l14-27l13 7l13 5l12-40l12-9l12-23l12-25l11-10l10 5l11-15l10-19l10-5l10-35l9 5l10-18l9-12l9-8l8-32l9-27l8 10l9-15l8-18l7 12l8-24l8 3l7-17l8-4l7-4l7 0l7-3l7-19l6-14l7 21l6-20l7-5l6-13l6-8l6-5l6-6l6-11l6 1l6 0l6-2l5-17l6-12l5-6l6-3l5 2l5-2l5-4l6-4l5-24l5-10l5 17l4-7l5-1l7-6l0-5l10-16l9 0l0 6l9-20l8-1l0 5l9-9l8-8l0-5l9-5l8 6l0-16l7-1l0-13l8-5l0 10l8-11l0-9l7 3l0 13l8-12l0-6l7-1l0-4l7-1l0-13l7 2l7-3l0-9l6 4l7-9l6 3l0-8l7-1l0 6l6-12l6 1l6-13l0-4l6 3l0 7l6-6l6-6l6 2l0-10l6 0l5 0l0-9l6 6l0 7l5-12l6-3l0 10l5-6l5-4l0-5l5 0l0-9l6 7l5-7l6-3l0 8l7-4l0-5l7-2l0 4l8-3l0-5l7 2l0-5l6 3l7 0l0-6l7-2l0 10l6-2l0-6l7-1l0 10l6-7l0-11l6 12l7-2l0 6l6-2l0-5l6-7l0 15l5-4l0-5l6-1l0 16l6-5l0-10l6 3l5-2l0 5l6-4l0 10l5 2l0-14l5 0l0 10l6 3l0-9l5 1l0 10l5-6l0 15l5-5l0-8l6 3l0 10l7-1l0-7l6 6l0 12l6 1l0-7l7-4l0 16l6 3l0-13l6 10l0 11l6-1l0-4l6 9l6-4l0 14l5 6l0-17l6 15l6 3l0 9l5 3l0-7l6 8l0 4l5 6l5 4l0 10l6-2l0 10l5-2l5 8l0 4l5-1l0 6l6 0l0 12l6 0l0 16l6-3l0 14l6-10l0 20l6 8l0-21l5 19l0 18l6 4l0-12l6 13l0 13l4-1l0 7l3-6l0 21l4 0l0-10l3 15l0 6l3-4l0 9l3-1l0 8l4 2l0 8l3 4l0-15l3 18l0 7l3 1l0 13l3 5l0-21l3 9l0 16l3 1l0 15l4-8l0 21l4-4l0 12l4 12l0-28l3 17l0 35l4 0l0-16l4 0l0 30l4 0l0-29l4 41l0 6l3-5l0 29l4 15l0-35l4 15l0 30l3 5l0-33l4 32l0 17l4 11l0-33l3 25l0 31l4 6l0-26l3 12l0 29l4-11l0 28l3 7l0-18l3 24l0 24l4 12l0-47l3 37l0 27l3 11l0-34l4 23l0 23l3-4l0-36l3 33l0 40l3-2l0-33l3 10l0 36l4-6l0 26l3-12l0 24l3-15l0 67l3-10l0-40l3 9l0 70l3-5l0-55l3 18l0 46l4-9l0 89l4-22l0-42l3 13l0 51l4 41l0-96l4 18l0 52l3-37l0 83l4 9l0-58l3 35l0 63l4 31l0-77l3 53l0 54l4 0l0-78l3 36l0 81l3 5l0-62l4 22l0 101l3 21l0-112l3 25l0 103l4 24l0-105l3 31l0 83l3 49l0-119l3 61l0 93l3-117l0 285l4-98l0-145l3 0l0 130l3 0l0-90l3-74l0 196l3 37l0-148l3 148l0 126l3 75l0-285l4-14l0 404l3-145l0-161l4-54l0 215l3 145l0-306l4-19l0 325l3 75l0-337l3 157l0 285l4 0l0-360l3 0l0 360l3 0l0-360l4 75l0 465l3 0l0-465l3 180l0 285l3-180l0-180l4 75l0 285l2 0l0-418l4 58l0 360l3 0l0-180l3 0l0 180l4 0l0-360l3 0l0 180l3 180l4 0l4 0l3 0l10 0l0-180l3 0l0 180l6 0l8 0l4 0l9 0l3 0l12 0" stroke="#000" stroke-width="11.5"/>
<path d="M16646 4684l209 0l138-180l103 180l82-360l68-58l59 0l51-122l46-145l41 145l37-195l34-29l32 29l29-55l28-35l25-40l24-99l23-12l22-39l20 21l20-16l18-5l18-64l17 30l17-34l15-41l15 18l15-25l14-19l14-70l13 41l13-19l12-47l12-14l12-32l12-2l11-4l10-48l11 22l10-11l10-52l10 8l9-2l10-8l9-46l9 42l8-27l9-37l8-3l9-18l8-12l7-27l8 32l8-20l7 6l8-21l7-7l7-23l7-1l7 0l6-7l7-18l6 5l7-9l6 13l6-26l6-2l6-18l6 40l6-48l6 14l6-12l5-17l6-12l5 7l6-17l5 4l5 3l5-2l6-16l5-11l5-3l5-12l4 11l5-12l5-9l5-13l4 8l5-19l5 5l4-18l5-5l4 0l4 5l5-6l4-20l4 9l4-18l4 7l5 0l4-9l4 3l4-16l4-6l3 11l4-17l4 8l4-18l4 1l3 3l4-12l4 3l3-13l4 0l4-3l3-13l4 1l3 18l3-21l4-5l3 7l4-5l3 0l3-4l4-21l3 3l3 4l3-9l3 17l4-20l3 4l3-4l3-11l3 12l3-11l4 4l0-23l6 4l0 7l6-5l0-5l6 3l0-19l6 0l0 8l5-11l6 6l0 9l5-15l0-15l6 0l0 9l5-2l5-9l0-5l5 0l6 5l0-13l5 2l6 0l7-8l0-11l7-3l0 8l8-2l0-11l7-5l0 11l6-2l0-12l7 2l7 3l0-16l6 1l0-5l7 6l0-14l6 1l0 17l6-11l0-8l7 7l0-16l6 4l0 4l6 3l0-17l5 1l0 5l6 2l0-5l6 0l0-7l6 3l0-13l5 14l0 4l6-4l0-8l5-1l0 11l5-8l0-14l6 4l0 17l5-10l0-6l5-4l0 15l5-3l0-11l6 3l0-9l7 8l0 8l6-6l0-8l6 5l7 4l0-9l6 4l0 4l6-5l0-5l6 5l0 5l6-3l0-6l6 0l0 10l5-1l0-13l6 5l0 10l6 2l0-9l5 0l0 9l6 7l0-17l5 7l0 13l5-8l0-7l6 6l0 10l5 0l0-8l5 1l0 8l5 4l0-19l6 6l0 13l6-2l0 13l6 3l0-18l6 2l0 17l6-10l0 20l5 0l0-11l6-4l0 18l6 7l0-17l5 10l0 17l6 3l0-12l5 9l0 11l5 2l0-16l6 9l0 15l5 7l0-20l5 15l0 16l5-3l0-13l6 1l0 34l6-5l0-13l5 12l0 14l6 11l0-23l6 12l0 14l5-1l0 20l3-3l0 14l4-1l0-10l4 4l0 12l3 11l0-23l4 7l0 20l3 1l0 21l4-8l0-15l3-2l0 28l4-2l0 11l3-7l0 15l3 2l0-19l4 19l0 13l3 2l0-12l3 7l0 10l4-3l0 12l3 6l0 23l3-4l0-21l3 13l0 25l4-3l0 17l3-7l0 17l3-3l0-9l3 7l0 19l3 6l0-27l3 25l0 17l3-3l0 7l3-6l0 20l4 4l0-25l3 25l0 15l4 3l0-19l4 23l0 30l3 0l0-20l4-10l0 43l3-9l0 26l4-18l0 52l3 4l0-47l4 23l0 24l3 1l0 8l4 4l0 20l3 16l0-42l3 25l0 47l4 2l0-50l3 25l0 41l3 24l0-53l4 14l0 39l3-17l0 51l3-5l0-35l3 2l0 47l3 11l0-31l3 37l0 30l4 19l0-45l3 0l0 58l3 5l0-29l3 6l0 58l3-26l0 62l4-2l0-44l3-6l0 72l4-30l0 75l3 0l0-75l4 43l0 76l3 31l0-101l3 26l0 83l4 9l0-76l3 10l0 89l3 15l0-86l4 52l0 72l3 25l0-58l3-10l0 81l3 14l0-90l4 44l0 121l3 9l0-142l3 81l0 129l3 28l0-201l3 77l0 139l3-15l0-115l3 10l0 135l3 0l0-154l3 28l0 276l4-75l0-133l3-24l0 297l4-117l0-98l3-44l0 224l3 35l0-230l4 69l0 161l3 87l0-248l3-54l0 540l4-105l0-285l3 0l0 210l3 75l0-220l3 87l0 238l3 180l0-465l3 47l0 238l4 0l0-180l3 75l0 105l3 180l0-418l3 133l0 285l4 0l0-285l4 0l0 285l3 0l0-180l5 0l0 180l3 0l0-180l4 0l0 180l5 0l3 0l0-180l3 180l3-180l5 180l3-180l9 0l0 180l8 0l13 0l7 0l8 0" stroke="#000" stroke-width="11.5"/>
<path d="M16993 4684l103 0l82-360l68-105l59 285l51-285l46 0l41 180l37-75l34-325l32 63l29 24l28-87l25-18l24-196l23 179l22-94l20 50l20-71l18 0l18-39l17-25l17 8l15-91l15 0l15-28l14-15l14-5l13-33l13 18l12-4l12 4l12-38l12 4l11-55l10-53l11 22l10 34l10-61l10-25l9-25l10 60l9-58l9 18l8-57l9-23l8 41l9-43l8-16l7 5l8-21l8-10l7 7l8-17l7-29l7-13l7 18l7-9l6-6l7 0l6 5l7-15l6 8l6-31l6 7l6-19l6-16l6 1l6-6l6 17l5-18l6 7l5-14l6-2l5-29l5-14l5 37l6-39l5-29l5 39l5-22l4 1l5-16l5-8l5-5l4-1l5-35l5 6l4 8l5-22l4 6l4 9l5-29l4 6l4-15l4 4l4-6l5 17l4-28l4 24l4-16l4-12l3-10l4-21l4 6l4 22l4-33l3-14l4 14l4 27l3-4l4-32l4-16l3 13l4 11l3-30l3 3l4-3l3 4l4-13l3 16l3-24l4-6l3 1l3-5l3 3l3-24l4 38l3-21l3-9l3-13l3 16l3-19l4 6l0 8l6-22l6 2l0 13l6-1l0-20l6 5l0-21l5 3l0-18l6 1l0 15l5 1l0-14l6 3l0-9l5-8l5-3l0-6l5 2l0 13l6-16l0-7l5-8l5 2l5 7l0-14l4 2l0 10l5-6l0-6l5-10l0-6l5-7l0 15l4 0l0-4l5 1l0-17l5 6l4-2l0-5l5-4l0 9l4-1l0-14l4 4l0-11l5 10l4-15l5 1l0-12l6 2l0 10l7-14l0-7l6 2l0 14l6-4l0-15l5 2l6-4l0-5l6 6l0-14l6 1l5-5l0 12l6-6l0-10l5 4l0-17l5-1l0 9l6 3l0-9l5-1l0 7l5-8l0-14l5 8l6-15l0 30l7-16l0-17l6 9l0 9l6-8l0-9l7 5l0 11l6-14l0-10l6 7l0-17l6 6l0 9l6-2l0-5l6 6l0-14l5-1l0 12l6 1l0-14l6-4l0 11l5 5l0-15l6-4l0 16l5 0l0-16l5 2l0 9l6-1l0-10l5 1l0 11l5 1l0-8l5-7l0 15l6-4l0-11l6-6l0 19l6 1l0-15l6 6l0 8l6 0l0-14l5 7l6-4l0 12l6 4l0-16l5 6l0 8l6 2l0-17l5 5l0 15l5 3l0-13l6-1l0 10l5 1l0 5l5-1l0 9l5 7l0-19l6 2l0 10l6-6l0 18l5 1l0-14l6 0l0 25l6-5l0-12l5 1l0 19l6 8l0-23l5 14l0 8l6-3l0 17l5-6l0-12l5-4l0 30l6-4l0 21l5-1l0-19l5 3l0 31l5-2l0-13l5 10l0 17l3-7l0-8l3 1l0 15l3-9l0 18l3 1l0-6l4-7l0 26l3-3l0-17l3 12l0 10l3-1l0 11l3 3l0-12l3 3l0 12l3-3l0 15l4-9l0 20l4 3l0-11l3 1l0 27l4 4l0-26l4 15l0 25l3 11l0-34l4 19l0 17l3-1l0-14l4 12l0 19l3 9l0-23l4 11l0 21l3-11l0 29l3 4l0-32l4 19l0 17l3-12l0 38l3-6l0-11l4 3l0 30l3 6l0-25l3 11l0 35l3-9l0-27l3 14l0 28l4-15l0 35l3 5l0-36l3 31l0 15l3 13l0-37l3 21l0 23l3-18l0 40l3-3l0-14l4 7l0 39l3 3l0-41l4 25l0 31l3-22l0 61l4-2l0-83l3 67l0 24l3 4l0-44l4 34l0 43l3-31l0 68l3 0l0-54l4 13l0 53l3-30l0 69l3 2l0-69l3 33l0 48l4-29l0 58l3 11l0-61l3 21l0 50l3 14l0-49l3 11l0 51l3-25l0 59l3 13l0-68l3 38l0 72l3-6l0-58l4 9l0 74l3 10l0-79l4 53l0 79l3 26l0-95l3 34l0 61l4-34l0 74l3 23l0-113l3 24l0 107l4 73l0-154l3 51l0 95l3 44l0-160l3 39l0 130l3-28l0-146l3 113l0 157l3 0l0-115l4-9l0 171l3-47l0-85l3 10l0 159l3 21l0-180l3 35l0 250l4 75l0-325l3 0l0 220l3 105l0-238l4 18l0 267l3-47l0-180l3 75l0 390l3-105l0-400l3 63l0 262l4 180l0-390l3 65l0 505l3 0l0-505l3-93l0 598l3 0l0-465l4 47l0 418l3 0l0-360l3-58l0 418l3 0l0-418l3 133l0 285l4 0l0-285l3-75l0 360l3 0l0-285l4 285l4 0l0-180l3 0l0 180l3 0l0-180l5 180l2 0l5 0l3 0l4 0l0-180l6 180l3 0l8 0l13 0l4 0l26 0" stroke="#000" stroke-width="11.5"/>
</g>
<text x="123" y="161" font-family='"Liberation Sans", Arial, Helvetica, sans-serif' font-size="22.3" text-anchor="start" fill="#000" ><tspan font-style="italic">T</tspan><tspan dy="-3" dx="-0.8" font-size="22.3">*</tspan><tspan dy="8.5" dx="-10.8" font-size="14.5">g</tspan><tspan dy="-5.5" dx="1">/</tspan><tspan dx="0.3" font-style="italic">T</tspan><tspan dx="4.5"> =</tspan></text>
<text x="124" y="196" font-family='"Liberation Sans", Arial, Helvetica, sans-serif' font-size="26.8" text-anchor="start" fill="#000" >3.07</text>
<text x="293" y="186.5" font-family='"Liberation Sans", Arial, Helvetica, sans-serif' font-size="26.5" text-anchor="start" fill="#1775c4" >1.23</text>
<text x="316.5" y="223.5" font-family='"Liberation Sans", Arial, Helvetica, sans-serif' font-size="26" text-anchor="start" fill="#ee1c25" >0.97 (=<tspan font-style="italic">T</tspan><tspan dy="-3.2" dx="-0.8" font-size="24">*</tspan><tspan dy="9.2" dx="-11.6" font-size="15.6">g</tspan><tspan dy="-5.9" dx="1.1">/</tspan><tspan dx="0.3" font-style="italic">T</tspan><tspan dy="6.2" dx="-1" font-size="17.3" font-family='"Liberation Serif", "Times New Roman", Times, serif' font-style="italic">χ</tspan><tspan dy="-6.2">)</tspan></text>
<text x="423" y="273" font-family='"Liberation Sans", Arial, Helvetica, sans-serif' font-size="26.5" text-anchor="start" fill="#000" >0.71</text>
<text x="606.5" y="175" font-family='"Liberation Sans", Arial, Helvetica, sans-serif' font-size="27.5" text-anchor="start" fill="#000" >3.04</text>
<text x="776" y="185" font-family='"Liberation Sans", Arial, Helvetica, sans-serif' font-size="26.5" text-anchor="start" fill="#1775c4" >1.22</text>
<text x="806" y="222.5" font-family='"Liberation Sans", Arial, Helvetica, sans-serif' font-size="26" text-anchor="start" fill="#ee1c25" >0.96 (=<tspan font-style="italic">T</tspan><tspan dy="-3.2" dx="-0.8" font-size="24">*</tspan><tspan dy="9.2" dx="-11.6" font-size="15.6">g</tspan><tspan dy="-5.9" dx="1.1">/</tspan><tspan dx="0.3" font-style="italic">T</tspan><tspan dy="6.2" dx="-1" font-size="17.3" font-family='"Liberation Serif", "Times New Roman", Times, serif' font-style="italic">χ</tspan><tspan dy="-6.2">)</tspan></text>
<text x="910" y="267" font-family='"Liberation Sans", Arial, Helvetica, sans-serif' font-size="26.5" text-anchor="start" fill="#000" >0.70</text>
<text x="1110" y="175.5" font-family='"Liberation Sans", Arial, Helvetica, sans-serif' font-size="27.5" text-anchor="start" fill="#000" >3.16</text>
<text x="1271" y="182" font-family='"Liberation Sans", Arial, Helvetica, sans-serif' font-size="26.5" text-anchor="start" fill="#1775c4" >1.27</text>
<text x="1293" y="227" font-family='"Liberation Sans", Arial, Helvetica, sans-serif' font-size="26" text-anchor="start" fill="#ee1c25" >0.95 (=<tspan font-style="italic">T</tspan><tspan dy="-3.2" dx="-0.8" font-size="24">*</tspan><tspan dy="9.2" dx="-11.6" font-size="15.6">g</tspan><tspan dy="-5.9" dx="1.1">/</tspan><tspan dx="0.3" font-style="italic">T</tspan><tspan dy="6.2" dx="-1" font-size="17.3" font-family='"Liberation Serif", "Times New Roman", Times, serif' font-style="italic">χ</tspan><tspan dy="-6.2">)</tspan></text>
<text x="1402" y="267" font-family='"Liberation Sans", Arial, Helvetica, sans-serif' font-size="26.5" text-anchor="start" fill="#000" >0.73</text>
<text x="1597" y="177" font-family='"Liberation Sans", Arial, Helvetica, sans-serif' font-size="27.5" text-anchor="start" fill="#000" >3.22</text>
<text x="1746" y="168" font-family='"Liberation Sans", Arial, Helvetica, sans-serif' font-size="26.5" text-anchor="start" fill="#1775c4" >1.38</text>
<text x="1790" y="230" font-family='"Liberation Sans", Arial, Helvetica, sans-serif' font-size="26" text-anchor="start" fill="#ee1c25" >0.92 (=<tspan font-style="italic">T</tspan><tspan dy="-3.2" dx="-0.8" font-size="24">*</tspan><tspan dy="9.2" dx="-11.6" font-size="15.6">g</tspan><tspan dy="-5.9" dx="1.1">/</tspan><tspan dx="0.3" font-style="italic">T</tspan><tspan dy="6.2" dx="-1" font-size="17.3" font-family='"Liberation Serif", "Times New Roman", Times, serif' font-style="italic">χ</tspan><tspan dy="-6.2">)</tspan></text>
<text x="1896" y="273" font-family='"Liberation Sans", Arial, Helvetica, sans-serif' font-size="26.5" text-anchor="start" fill="#000" >0.74</text>
<path d="M231.4 1473.4L231.4 1467.9M231.4 752.4L231.4 757.9M284.7 1473.4L284.7 1463.4M284.7 752.4L284.7 762.4M338 1473.4L338 1467.9M338 752.4L338 757.9M391.4 1473.4L391.4 1467.9M391.4 752.4L391.4 757.9M444.7 1473.4L444.7 1467.9M444.7 752.4L444.7 757.9M498.1 1473.4L498.1 1467.9M498.1 752.4L498.1 757.9M551.4 1473.4L551.4 1463.4M551.4 752.4L551.4 762.4M604.7 1473.4L604.7 1467.9M604.7 752.4L604.7 757.9M658.1 1473.4L658.1 1467.9M658.1 752.4L658.1 757.9M711.4 1473.4L711.4 1467.9M711.4 752.4L711.4 757.9M764.8 1473.4L764.8 1467.9M764.8 752.4L764.8 757.9M818.1 1473.4L818.1 1463.4M818.1 752.4L818.1 762.4M871.4 1473.4L871.4 1467.9M871.4 752.4L871.4 757.9M204.9 1379.1L210.4 1379.1M925.8 1379.1L920.3 1379.1M204.9 1323.9L210.4 1323.9M925.8 1323.9L920.3 1323.9M204.9 1284.7L210.4 1284.7M925.8 1284.7L920.3 1284.7M204.9 1254.3L210.4 1254.3M925.8 1254.3L920.3 1254.3M204.9 1229.5L210.4 1229.5M925.8 1229.5L920.3 1229.5M204.9 1208.5L210.4 1208.5M925.8 1208.5L920.3 1208.5M204.9 1190.4L210.4 1190.4M925.8 1190.4L920.3 1190.4M204.9 1174.3L210.4 1174.3M925.8 1174.3L920.3 1174.3M204.9 1160L214.9 1160M925.8 1160L915.8 1160M204.9 1065.7L210.4 1065.7M925.8 1065.7L920.3 1065.7M204.9 1010.5L210.4 1010.5M925.8 1010.5L920.3 1010.5M204.9 971.3L210.4 971.3M925.8 971.3L920.3 971.3M204.9 940.9L210.4 940.9M925.8 940.9L920.3 940.9M204.9 916.1L210.4 916.1M925.8 916.1L920.3 916.1M204.9 895.1L210.4 895.1M925.8 895.1L920.3 895.1M204.9 877L210.4 877M925.8 877L920.3 877M204.9 860.9L210.4 860.9M925.8 860.9L920.3 860.9M204.9 846.6L214.9 846.6M925.8 846.6L915.8 846.6M204.9 752.3L210.4 752.3M925.8 752.3L920.3 752.3" stroke="#000" stroke-width="1.7" fill="none"/>
<path d="M276.6 1046.3L276.6 1172M272.6 1046.3L280.6 1046.3M272.6 1172L280.6 1172" stroke="#000" stroke-width="1.6" fill="none"/>
<path d="M261.9 1100.7L261.9 1179.5M257.9 1100.7L265.9 1100.7M257.9 1179.5L265.9 1179.5" stroke="#000" stroke-width="1.6" fill="none"/>
<path d="M252.2 858L252.2 900M248.2 858L256.2 858M248.2 900L256.2 900" stroke="#000" stroke-width="1.6" fill="none"/>
<path d="M263.6 1030L263.6 1120M259.6 1030L267.6 1030M259.6 1120L267.6 1120" stroke="#000" stroke-width="1.6" fill="none"/>
<path d="M255.8 930L255.8 1000M251.8 930L259.8 930M251.8 1000L259.8 1000" stroke="#000" stroke-width="1.6" fill="none"/>
<path d="M836.8 1382.2L719.8 1369.2L632.1 1360.9L563.8 1354.2L509.3 1343.3L464.6 1333.8L427.4 1324.8L395.9 1314.6L368.9 1305.6L345.5 1298.5L325 1284.2L307 1278.7L290.9 1261.7L276.6 1130.7L263.6 1080L251.9 984.5L241.3 925" stroke="#808080" stroke-width="3.2" fill="none" stroke-linejoin="round"/>
<path d="M836.8 1356.3L719.8 1344.4L632.1 1333.9L563.8 1322.8L509.3 1313L464.6 1303.4L427.4 1294.5L395.9 1283.1L368.9 1269.9L345.5 1255.6L325 1233.7L307 1207.2L290.9 1158.2L276.6 1079.7L263.6 995.3L251.9 929.9L241.3 869.9" stroke="#707070" stroke-width="1.5" fill="none" stroke-dasharray="4.5 3.5" stroke-linejoin="round"/>
<path d="M836.8 1372.3L846.3 1389.4L827.3 1389.4Z" fill="#fff" stroke="#808080" stroke-width="3.5"/><path d="M719.8 1359.3L729.3 1376.4L710.3 1376.4Z" fill="#fff" stroke="#808080" stroke-width="3.5"/><path d="M632.1 1351L641.6 1368.1L622.6 1368.1Z" fill="#fff" stroke="#808080" stroke-width="3.5"/><path d="M563.8 1344.3L573.3 1361.4L554.3 1361.4Z" fill="#fff" stroke="#808080" stroke-width="3.5"/><path d="M509.3 1333.4L518.8 1350.5L499.8 1350.5Z" fill="#fff" stroke="#808080" stroke-width="3.5"/><path d="M464.6 1323.9L474.1 1341L455.1 1341Z" fill="#fff" stroke="#808080" stroke-width="3.5"/><path d="M427.4 1314.9L436.9 1332L417.9 1332Z" fill="#fff" stroke="#808080" stroke-width="3.5"/><path d="M395.9 1304.6L405.4 1321.7L386.4 1321.7Z" fill="#fff" stroke="#808080" stroke-width="3.5"/><path d="M368.9 1295.7L378.4 1312.8L359.4 1312.8Z" fill="#fff" stroke="#808080" stroke-width="3.5"/><path d="M345.5 1288.6L355 1305.7L336 1305.7Z" fill="#fff" stroke="#808080" stroke-width="3.5"/><path d="M325 1274.3L334.5 1291.4L315.5 1291.4Z" fill="#fff" stroke="#808080" stroke-width="3.5"/><path d="M307 1268.7L316.5 1285.8L297.5 1285.8Z" fill="#fff" stroke="#808080" stroke-width="3.5"/><path d="M290.9 1251.8L300.4 1268.9L281.4 1268.9Z" fill="#fff" stroke="#808080" stroke-width="3.5"/><path d="M276.6 1120.8L286.1 1137.9L267.1 1137.9Z" fill="#fff" stroke="#808080" stroke-width="3.5"/><path d="M263.6 1070.1L273.1 1087.2L254.1 1087.2Z" fill="#fff" stroke="#808080" stroke-width="3.5"/><path d="M251.9 974.6L261.4 991.7L242.4 991.7Z" fill="#fff" stroke="#808080" stroke-width="3.5"/><path d="M241.3 915.1L250.8 932.2L231.8 932.2Z" fill="#fff" stroke="#808080" stroke-width="3.5"/><path d="M836.8 1345.9L846.8 1363.9L826.8 1363.9Z" fill="#808080"/><path d="M719.8 1333.9L729.8 1351.9L709.8 1351.9Z" fill="#808080"/><path d="M632.1 1323.4L642.1 1341.4L622.1 1341.4Z" fill="#808080"/><path d="M563.8 1312.3L573.8 1330.3L553.8 1330.3Z" fill="#808080"/><path d="M509.3 1302.5L519.3 1320.5L499.3 1320.5Z" fill="#808080"/><path d="M464.6 1293L474.6 1311L454.6 1311Z" fill="#808080"/><path d="M427.4 1284L437.4 1302L417.4 1302Z" fill="#808080"/><path d="M395.9 1272.7L405.9 1290.7L385.9 1290.7Z" fill="#808080"/><path d="M368.9 1259.5L378.9 1277.5L358.9 1277.5Z" fill="#808080"/><path d="M345.5 1245.2L355.5 1263.2L335.5 1263.2Z" fill="#808080"/><path d="M325 1223.2L335 1241.2L315 1241.2Z" fill="#808080"/><path d="M307 1196.8L317 1214.8L297 1214.8Z" fill="#808080"/><path d="M290.9 1147.7L300.9 1165.7L280.9 1165.7Z" fill="#808080"/><path d="M276.6 1069.3L286.6 1087.3L266.6 1087.3Z" fill="#808080"/><path d="M263.6 984.8L273.6 1002.8L253.6 1002.8Z" fill="#808080"/><path d="M251.9 919.4L261.9 937.4L241.9 937.4Z" fill="#808080"/><path d="M241.3 859.4L251.3 877.4L231.3 877.4Z" fill="#808080"/>
<path d="M876.8 1381.8L754.1 1371.4L662.1 1361.3L590.5 1350.7L533.3 1341L486.4 1331.1L447.4 1326.3L414.4 1319.1L386 1303.1L361.5 1306.6L340 1291.1L321.1 1281.9L304.3 1279.3L289.2 1257.2L275.6 1229.5L263.4 1150.1L252.2 882.8" stroke="#ff0000" stroke-width="1.6" fill="none" stroke-linejoin="round"/>
<path d="M876.8 1357.4L754.1 1344.9L662.1 1334.2L590.5 1323.2L533.3 1314L486.4 1304.1L447.4 1292.8L414.4 1281.5L386 1266.6L361.5 1251.6L340 1228.8L321.1 1195.6L304.3 1150.2L289.2 1090L275.6 1007.8L263.4 908.8L252.2 821.2" stroke="#ff0000" stroke-width="1.5" fill="none" stroke-dasharray="4.5 3.5" stroke-linejoin="round"/>
<circle cx="876.8" cy="1381.8" r="9.8" fill="#fff" stroke="#ff0000" stroke-width="4"/><circle cx="754.1" cy="1371.4" r="9.8" fill="#fff" stroke="#ff0000" stroke-width="4"/><circle cx="662.1" cy="1361.3" r="9.8" fill="#fff" stroke="#ff0000" stroke-width="4"/><circle cx="590.5" cy="1350.7" r="9.8" fill="#fff" stroke="#ff0000" stroke-width="4"/><circle cx="533.3" cy="1341" r="9.8" fill="#fff" stroke="#ff0000" stroke-width="4"/><circle cx="486.4" cy="1331.1" r="9.8" fill="#fff" stroke="#ff0000" stroke-width="4"/><circle cx="447.4" cy="1326.3" r="9.8" fill="#fff" stroke="#ff0000" stroke-width="4"/><circle cx="414.4" cy="1319.1" r="9.8" fill="#fff" stroke="#ff0000" stroke-width="4"/><circle cx="386" cy="1303.1" r="9.8" fill="#fff" stroke="#ff0000" stroke-width="4"/><circle cx="361.5" cy="1306.6" r="9.8" fill="#fff" stroke="#ff0000" stroke-width="4"/><circle cx="340" cy="1291.1" r="9.8" fill="#fff" stroke="#ff0000" stroke-width="4"/><circle cx="321.1" cy="1281.9" r="9.8" fill="#fff" stroke="#ff0000" stroke-width="4"/><circle cx="304.3" cy="1279.3" r="9.8" fill="#fff" stroke="#ff0000" stroke-width="4"/><circle cx="289.2" cy="1257.2" r="9.8" fill="#fff" stroke="#ff0000" stroke-width="4"/><circle cx="275.6" cy="1229.5" r="9.8" fill="#fff" stroke="#ff0000" stroke-width="4"/><circle cx="263.4" cy="1150.1" r="9.8" fill="#fff" stroke="#ff0000" stroke-width="4"/><circle cx="252.2" cy="882.8" r="9.8" fill="#fff" stroke="#ff0000" stroke-width="4"/><circle cx="876.8" cy="1357.4" r="9.8" fill="#ff0000"/><circle cx="754.1" cy="1344.9" r="9.8" fill="#ff0000"/><circle cx="662.1" cy="1334.2" r="9.8" fill="#ff0000"/><circle cx="590.5" cy="1323.2" r="9.8" fill="#ff0000"/><circle cx="533.3" cy="1314" r="9.8" fill="#ff0000"/><circle cx="486.4" cy="1304.1" r="9.8" fill="#ff0000"/><circle cx="447.4" cy="1292.8" r="9.8" fill="#ff0000"/><circle cx="414.4" cy="1281.5" r="9.8" fill="#ff0000"/><circle cx="386" cy="1266.6" r="9.8" fill="#ff0000"/><circle cx="361.5" cy="1251.6" r="9.8" fill="#ff0000"/><circle cx="340" cy="1228.8" r="9.8" fill="#ff0000"/><circle cx="321.1" cy="1195.6" r="9.8" fill="#ff0000"/><circle cx="304.3" cy="1150.2" r="9.8" fill="#ff0000"/><circle cx="289.2" cy="1090" r="9.8" fill="#ff0000"/><circle cx="275.6" cy="1007.8" r="9.8" fill="#ff0000"/><circle cx="263.4" cy="908.8" r="9.8" fill="#ff0000"/><circle cx="252.2" cy="821.2" r="9.8" fill="#ff0000"/>
<path d="M860.8 1391.8L740.4 1367.2L650.1 1357.7L579.8 1343.5L523.7 1348.9L477.7 1343.2L439.4 1331.5L407 1319.2L379.2 1315.7L355.1 1310L334 1299.1L315.4 1288.6L298.9 1272.9L284.1 1243.7L270.8 1184.4L258.8 964.9L247.8 900.2" stroke="#00ffff" stroke-width="3.2" fill="none" stroke-linejoin="round"/>
<path d="M860.8 1356.4L740.4 1343.9L650.1 1332.3L579.8 1319.8L523.7 1310.3L477.7 1301.5L439.4 1291.7L407 1280.4L379.2 1265.4L355.1 1250.3L334 1227.7L315.4 1197.7L298.9 1147.6L284.1 1080.4L270.8 989.1L258.8 892.6L247.8 828.8" stroke="#00ffff" stroke-width="1.5" fill="none" stroke-dasharray="4.5 3.5" stroke-linejoin="round"/>
<path d="M860.8 1381.8L870.8 1391.8L860.8 1401.8L850.8 1391.8Z" fill="#fff" stroke="#00ffff" stroke-width="3.2"/><path d="M740.4 1357.2L750.4 1367.2L740.4 1377.2L730.4 1367.2Z" fill="#fff" stroke="#00ffff" stroke-width="3.2"/><path d="M650.1 1347.7L660.1 1357.7L650.1 1367.7L640.1 1357.7Z" fill="#fff" stroke="#00ffff" stroke-width="3.2"/><path d="M579.8 1333.5L589.8 1343.5L579.8 1353.5L569.8 1343.5Z" fill="#fff" stroke="#00ffff" stroke-width="3.2"/><path d="M523.7 1338.9L533.7 1348.9L523.7 1358.9L513.7 1348.9Z" fill="#fff" stroke="#00ffff" stroke-width="3.2"/><path d="M477.7 1333.2L487.7 1343.2L477.7 1353.2L467.7 1343.2Z" fill="#fff" stroke="#00ffff" stroke-width="3.2"/><path d="M439.4 1321.5L449.4 1331.5L439.4 1341.5L429.4 1331.5Z" fill="#fff" stroke="#00ffff" stroke-width="3.2"/><path d="M407 1309.2L417 1319.2L407 1329.2L397 1319.2Z" fill="#fff" stroke="#00ffff" stroke-width="3.2"/><path d="M379.2 1305.7L389.2 1315.7L379.2 1325.7L369.2 1315.7Z" fill="#fff" stroke="#00ffff" stroke-width="3.2"/><path d="M355.1 1300L365.1 1310L355.1 1320L345.1 1310Z" fill="#fff" stroke="#00ffff" stroke-width="3.2"/><path d="M334 1289.1L344 1299.1L334 1309.1L324 1299.1Z" fill="#fff" stroke="#00ffff" stroke-width="3.2"/><path d="M315.4 1278.6L325.4 1288.6L315.4 1298.6L305.4 1288.6Z" fill="#fff" stroke="#00ffff" stroke-width="3.2"/><path d="M298.9 1262.9L308.9 1272.9L298.9 1282.9L288.9 1272.9Z" fill="#fff" stroke="#00ffff" stroke-width="3.2"/><path d="M284.1 1233.7L294.1 1243.7L284.1 1253.7L274.1 1243.7Z" fill="#fff" stroke="#00ffff" stroke-width="3.2"/><path d="M270.8 1174.4L280.8 1184.4L270.8 1194.4L260.8 1184.4Z" fill="#fff" stroke="#00ffff" stroke-width="3.2"/><path d="M258.8 954.9L268.8 964.9L258.8 974.9L248.8 964.9Z" fill="#fff" stroke="#00ffff" stroke-width="3.2"/><path d="M247.8 890.2L257.8 900.2L247.8 910.2L237.8 900.2Z" fill="#fff" stroke="#00ffff" stroke-width="3.2"/><path d="M860.8 1346.4L870.8 1356.4L860.8 1366.4L850.8 1356.4Z" fill="#00ffff"/><path d="M740.4 1333.9L750.4 1343.9L740.4 1353.9L730.4 1343.9Z" fill="#00ffff"/><path d="M650.1 1322.3L660.1 1332.3L650.1 1342.3L640.1 1332.3Z" fill="#00ffff"/><path d="M579.8 1309.8L589.8 1319.8L579.8 1329.8L569.8 1319.8Z" fill="#00ffff"/><path d="M523.7 1300.3L533.7 1310.3L523.7 1320.3L513.7 1310.3Z" fill="#00ffff"/><path d="M477.7 1291.5L487.7 1301.5L477.7 1311.5L467.7 1301.5Z" fill="#00ffff"/><path d="M439.4 1281.7L449.4 1291.7L439.4 1301.7L429.4 1291.7Z" fill="#00ffff"/><path d="M407 1270.4L417 1280.4L407 1290.4L397 1280.4Z" fill="#00ffff"/><path d="M379.2 1255.4L389.2 1265.4L379.2 1275.4L369.2 1265.4Z" fill="#00ffff"/><path d="M355.1 1240.3L365.1 1250.3L355.1 1260.3L345.1 1250.3Z" fill="#00ffff"/><path d="M334 1217.7L344 1227.7L334 1237.7L324 1227.7Z" fill="#00ffff"/><path d="M315.4 1187.7L325.4 1197.7L315.4 1207.7L305.4 1197.7Z" fill="#00ffff"/><path d="M298.9 1137.6L308.9 1147.6L298.9 1157.6L288.9 1147.6Z" fill="#00ffff"/><path d="M284.1 1070.4L294.1 1080.4L284.1 1090.4L274.1 1080.4Z" fill="#00ffff"/><path d="M270.8 979.1L280.8 989.1L270.8 999.1L260.8 989.1Z" fill="#00ffff"/><path d="M258.8 882.6L268.8 892.6L258.8 902.6L248.8 892.6Z" fill="#00ffff"/><path d="M247.8 818.8L257.8 828.8L247.8 838.8L237.8 828.8Z" fill="#00ffff"/>
<path d="M828.8 1381.8L712.9 1367.7L626.1 1360.8L558.5 1345.5L504.5 1342.4L460.2 1333.8L423.4 1321.7L392.2 1316.1L365.5 1312.8L342.3 1307.9L322 1289.7L304.2 1279.6L288.3 1258.8L274 1212.7L261.2 1085.1L249.6 950.7L239.1 911.2" stroke="#087d40" stroke-width="3.2" fill="none" stroke-linejoin="round"/>
<path d="M828.8 1354.2L712.9 1342.3L626.1 1331.8L558.5 1320.7L504.5 1310.9L460.2 1301.3L423.4 1292.4L392.2 1280.4L365.5 1267.2L342.3 1252.2L322 1229.5L304.2 1197.4L288.3 1144.6L274 1062.3L261.2 972.3L249.6 899.5L239.1 849.3" stroke="#087d40" stroke-width="1.5" fill="none" stroke-dasharray="4.5 3.5" stroke-linejoin="round"/>
<rect x="819" y="1372" width="19.5" height="19.5" fill="#fff" stroke="#087d40" stroke-width="4"/><rect x="703.2" y="1357.9" width="19.5" height="19.5" fill="#fff" stroke="#087d40" stroke-width="4"/><rect x="616.3" y="1351" width="19.5" height="19.5" fill="#fff" stroke="#087d40" stroke-width="4"/><rect x="548.8" y="1335.8" width="19.5" height="19.5" fill="#fff" stroke="#087d40" stroke-width="4"/><rect x="494.7" y="1332.6" width="19.5" height="19.5" fill="#fff" stroke="#087d40" stroke-width="4"/><rect x="450.5" y="1324" width="19.5" height="19.5" fill="#fff" stroke="#087d40" stroke-width="4"/><rect x="413.6" y="1311.9" width="19.5" height="19.5" fill="#fff" stroke="#087d40" stroke-width="4"/><rect x="382.5" y="1306.3" width="19.5" height="19.5" fill="#fff" stroke="#087d40" stroke-width="4"/><rect x="355.7" y="1303" width="19.5" height="19.5" fill="#fff" stroke="#087d40" stroke-width="4"/><rect x="332.6" y="1298.2" width="19.5" height="19.5" fill="#fff" stroke="#087d40" stroke-width="4"/><rect x="312.3" y="1280" width="19.5" height="19.5" fill="#fff" stroke="#087d40" stroke-width="4"/><rect x="294.4" y="1269.9" width="19.5" height="19.5" fill="#fff" stroke="#087d40" stroke-width="4"/><rect x="278.5" y="1249.1" width="19.5" height="19.5" fill="#fff" stroke="#087d40" stroke-width="4"/><rect x="264.3" y="1203" width="19.5" height="19.5" fill="#fff" stroke="#087d40" stroke-width="4"/><rect x="251.5" y="1075.4" width="19.5" height="19.5" fill="#fff" stroke="#087d40" stroke-width="4"/><rect x="239.9" y="941" width="19.5" height="19.5" fill="#fff" stroke="#087d40" stroke-width="4"/><rect x="229.4" y="901.4" width="19.5" height="19.5" fill="#fff" stroke="#087d40" stroke-width="4"/><rect x="818.5" y="1344" width="20.5" height="20.5" fill="#087d40"/><rect x="702.7" y="1332.1" width="20.5" height="20.5" fill="#087d40"/><rect x="615.8" y="1321.6" width="20.5" height="20.5" fill="#087d40"/><rect x="548.3" y="1310.5" width="20.5" height="20.5" fill="#087d40"/><rect x="494.2" y="1300.6" width="20.5" height="20.5" fill="#087d40"/><rect x="450" y="1291.1" width="20.5" height="20.5" fill="#087d40"/><rect x="413.1" y="1282.2" width="20.5" height="20.5" fill="#087d40"/><rect x="382" y="1270.1" width="20.5" height="20.5" fill="#087d40"/><rect x="355.2" y="1256.9" width="20.5" height="20.5" fill="#087d40"/><rect x="332.1" y="1241.9" width="20.5" height="20.5" fill="#087d40"/><rect x="311.8" y="1219.3" width="20.5" height="20.5" fill="#087d40"/><rect x="293.9" y="1187.1" width="20.5" height="20.5" fill="#087d40"/><rect x="278" y="1134.3" width="20.5" height="20.5" fill="#087d40"/><rect x="263.8" y="1052" width="20.5" height="20.5" fill="#087d40"/><rect x="251" y="962.1" width="20.5" height="20.5" fill="#087d40"/><rect x="239.4" y="889.2" width="20.5" height="20.5" fill="#087d40"/><rect x="228.9" y="839.1" width="20.5" height="20.5" fill="#087d40"/>
<rect x="204.9" y="752.4" width="720.9" height="721" fill="none" stroke="#000" stroke-width="2.2"/>
<text x="284.7" y="1511.3" font-family='"Liberation Sans", Arial, Helvetica, sans-serif' font-size="36" text-anchor="middle" fill="#000" >1</text>
<text x="551.4" y="1511.3" font-family='"Liberation Sans", Arial, Helvetica, sans-serif' font-size="36" text-anchor="middle" fill="#000" >2</text>
<text x="818.1" y="1511.3" font-family='"Liberation Sans", Arial, Helvetica, sans-serif' font-size="36" text-anchor="middle" fill="#000" >3</text>
<text x="196.4" y="863.6" font-family='"Liberation Sans", Arial, Helvetica, sans-serif' font-size="35.5" text-anchor="end" fill="#000" >10<tspan dy="-19.8" dx="1.5" font-size="25">1</tspan></text>
<text x="196.4" y="1177" font-family='"Liberation Sans", Arial, Helvetica, sans-serif' font-size="35.5" text-anchor="end" fill="#000" >10<tspan dy="-19.8" dx="1.5" font-size="25">0</tspan></text>
<text x="196.4" y="1490.4" font-family='"Liberation Sans", Arial, Helvetica, sans-serif' font-size="35.5" text-anchor="end" fill="#000" >10<tspan dy="-19.8" dx="1.5" font-size="25">−1</tspan></text>
<text x="510.5" y="1577.3" font-family='"Liberation Sans", Arial, Helvetica, sans-serif' font-size="44.5" text-anchor="start" fill="#000" ><tspan font-style="italic">T</tspan><tspan dy="-6" dx="-1.5" font-size="44.5">*</tspan><tspan dy="17" dx="-21.5" font-size="29">g</tspan><tspan dy="-11" dx="2">/</tspan><tspan dx="0.5" font-style="italic">T</tspan></text>
<text x="0" y="0" font-family='"Liberation Sans", Arial, Helvetica, sans-serif' font-size="45.3" text-anchor="middle" fill="#000" transform="translate(106.7,1103.5) rotate(-90)" >Average peak, 1st peak positions (<tspan font-family='"Liberation Serif", "Times New Roman", Times, serif'>Å</tspan>)</text>
<text x="5" y="731" font-family='"Liberation Sans", Arial, Helvetica, sans-serif' font-size="70" text-anchor="start" fill="#000" font-weight="bold" >b</text>
<text x="241.5" y="723.5" font-family='"Liberation Serif", "Times New Roman", Times, serif' font-size="42.5" text-anchor="start" fill="#000" font-style="italic" >high T</text>
<text x="483.5" y="687" font-family='"Liberation Serif", "Times New Roman", Times, serif' font-size="42.5" text-anchor="start" fill="#000" font-style="italic" >unfreezing</text>
<text x="770" y="723.5" font-family='"Liberation Serif", "Times New Roman", Times, serif' font-size="42.5" text-anchor="start" fill="#000" font-style="italic" >low T</text>
<line x1="425" y1="708.5" x2="730.5" y2="708.5" stroke="#000" stroke-width="1.7" />
<path d="M394.3 708.5L428 698L428 719Z" fill="#000"/>
<text x="322.5" y="834.7" font-family='"Liberation Sans", Arial, Helvetica, sans-serif' font-size="35.3" text-anchor="start" fill="#000" >average,</text>
<text x="472.5" y="834.7" font-family='"Liberation Serif", "Times New Roman", Times, serif' font-size="40" text-anchor="start" fill="#000" font-style="italic" >Δ</text>
<text x="498.8" y="834.7" font-family='"Liberation Serif", "Times New Roman", Times, serif' font-size="39" text-anchor="start" fill="#000" font-style="italic" >r</text>
<text x="515" y="844.7" font-family='"Liberation Serif", "Times New Roman", Times, serif' font-size="27" text-anchor="start" fill="#000" >ave</text>
<text x="632.3" y="838" font-family='"Liberation Sans", Arial, Helvetica, sans-serif' font-size="35.3" text-anchor="start" fill="#000" >1st peak,</text>
<text x="790.5" y="838" font-family='"Liberation Serif", "Times New Roman", Times, serif' font-size="40" text-anchor="start" fill="#000" font-style="italic" >Δ</text>
<text x="817.2" y="838" font-family='"Liberation Serif", "Times New Roman", Times, serif' font-size="39" text-anchor="start" fill="#000" font-style="italic" >r</text>
<text x="833.5" y="848" font-family='"Liberation Serif", "Times New Roman", Times, serif' font-size="27" text-anchor="start" fill="#000" >1st</text>
<line x1="332.7" y1="872.7" x2="426" y2="872.7" stroke="#808080" stroke-width="1.7" stroke-dasharray="5 5.3"/>
<path d="M379.8 859.5L392.6 881.4L367.2 881.4Z" fill="#808080"/>
<text x="436.5" y="883.3" font-family='"Liberation Sans", Arial, Helvetica, sans-serif' font-size="33.6" text-anchor="start" fill="#000" >Cu<tspan dy="7" font-size="21.8">30</tspan><tspan dy="-7" font-size="33.6">Zr</tspan><tspan dy="7" font-size="21.8">70</tspan></text>
<line x1="641.5" y1="874.8" x2="734.3" y2="874.8" stroke="#808080" stroke-width="3.6" />
<path d="M688.8 863.5L701.5 883.3L676.1 883.3Z" fill="#fff" stroke="#808080" stroke-width="3.8" stroke-linejoin="miter"/>
<text x="745.5" y="884.3" font-family='"Liberation Sans", Arial, Helvetica, sans-serif' font-size="33.6" text-anchor="start" fill="#000" >Cu<tspan dy="7" font-size="21.8">30</tspan><tspan dy="-7" font-size="33.6">Zr</tspan><tspan dy="7" font-size="21.8">70</tspan></text>
<line x1="332.7" y1="931.9" x2="426" y2="931.9" stroke="#808080" stroke-width="1.7" stroke-dasharray="5 5.3"/>
<rect x="369.3" y="921.9" width="20.7" height="20.7" fill="#087d40"/>
<text x="436.5" y="942.5" font-family='"Liberation Sans", Arial, Helvetica, sans-serif' font-size="33.6" text-anchor="start" fill="#000" >Cu<tspan dy="7" font-size="21.8">40</tspan><tspan dy="-7" font-size="33.6">Zr</tspan><tspan dy="7" font-size="21.8">60</tspan></text>
<line x1="641.5" y1="933.3" x2="734.3" y2="933.3" stroke="#808080" stroke-width="3.6" />
<rect x="678.6" y="923.9" width="19.3" height="19.3" fill="#fff" stroke="#087d40" stroke-width="3.8"/>
<text x="745.5" y="942.8" font-family='"Liberation Sans", Arial, Helvetica, sans-serif' font-size="33.6" text-anchor="start" fill="#000" >Cu<tspan dy="7" font-size="21.8">40</tspan><tspan dy="-7" font-size="33.6">Zr</tspan><tspan dy="7" font-size="21.8">60</tspan></text>
<line x1="332.7" y1="989.5" x2="426" y2="989.5" stroke="#00ffff" stroke-width="1.7" stroke-dasharray="5 5.3"/>
<path d="M379.7 979.5L390.1 989.9L379.7 1000.2L369.3 989.9Z" fill="#00ffff"/>
<text x="436.5" y="1000.1" font-family='"Liberation Sans", Arial, Helvetica, sans-serif' font-size="33.6" text-anchor="start" fill="#000" >Cu<tspan dy="7" font-size="21.8">52</tspan><tspan dy="-7" font-size="33.6">Zr</tspan><tspan dy="7" font-size="21.8">48</tspan></text>
<line x1="641.5" y1="991" x2="734.3" y2="991" stroke="#00ffff" stroke-width="3.6" />
<path d="M688.2 980.2L699 991L688.2 1001.8L677.5 991Z" fill="#fff" stroke="#00ffff" stroke-width="3.3"/>
<text x="745.5" y="1000.5" font-family='"Liberation Sans", Arial, Helvetica, sans-serif' font-size="33.6" text-anchor="start" fill="#000" >Cu<tspan dy="7" font-size="21.8">52</tspan><tspan dy="-7" font-size="33.6">Zr</tspan><tspan dy="7" font-size="21.8">48</tspan></text>
<line x1="332.7" y1="1045.7" x2="426" y2="1045.7" stroke="#ff0000" stroke-width="1.7" stroke-dasharray="5 5.3"/>
<circle cx="379.6" cy="1046.2" r="12.3" fill="#ff0000"/>
<text x="436.5" y="1056.3" font-family='"Liberation Sans", Arial, Helvetica, sans-serif' font-size="33.6" text-anchor="start" fill="#000" >Cu<tspan dy="7" font-size="21.8">58</tspan><tspan dy="-7" font-size="33.6">Zr</tspan><tspan dy="7" font-size="21.8">42</tspan></text>
<line x1="641.5" y1="1047.2" x2="734.3" y2="1047.2" stroke="#ff0000" stroke-width="3.6" />
<circle cx="688.2" cy="1047.2" r="10.2" fill="#fff" stroke="#ff0000" stroke-width="4"/>
<text x="745.5" y="1056.7" font-family='"Liberation Sans", Arial, Helvetica, sans-serif' font-size="33.6" text-anchor="start" fill="#000" >Cu<tspan dy="7" font-size="21.8">58</tspan><tspan dy="-7" font-size="33.6">Zr</tspan><tspan dy="7" font-size="21.8">42</tspan></text>
<path d="M1239.7 1473.5L1239.7 1468.7M1239.7 754.5L1239.7 759.3M1287.5 1473.5L1287.5 1468.7M1287.5 754.5L1287.5 759.3M1335.3 1473.5L1335.3 1463.9M1335.3 754.5L1335.3 764.1M1383.1 1473.5L1383.1 1468.7M1383.1 754.5L1383.1 759.3M1430.9 1473.5L1430.9 1468.7M1430.9 754.5L1430.9 759.3M1478.6 1473.5L1478.6 1468.7M1478.6 754.5L1478.6 759.3M1526.4 1473.5L1526.4 1468.7M1526.4 754.5L1526.4 759.3M1574.2 1473.5L1574.2 1463.9M1574.2 754.5L1574.2 764.1M1622 1473.5L1622 1468.7M1622 754.5L1622 759.3M1669.8 1473.5L1669.8 1468.7M1669.8 754.5L1669.8 759.3M1717.5 1473.5L1717.5 1468.7M1717.5 754.5L1717.5 759.3M1765.3 1473.5L1765.3 1468.7M1765.3 754.5L1765.3 759.3M1813.1 1473.5L1813.1 1463.9M1813.1 754.5L1813.1 764.1M1860.9 1473.5L1860.9 1468.7M1860.9 754.5L1860.9 759.3M1908.7 1473.5L1908.7 1468.7M1908.7 754.5L1908.7 759.3M1214.8 1413.7L1224.8 1413.7M1933.5 1413.7L1923.5 1413.7M1214.8 1312.2L1224.8 1312.2M1933.5 1312.2L1923.5 1312.2M1214.8 1210.7L1224.8 1210.7M1933.5 1210.7L1923.5 1210.7M1214.8 1109.2L1224.8 1109.2M1933.5 1109.2L1923.5 1109.2M1214.8 1007.7L1224.8 1007.7M1933.5 1007.7L1923.5 1007.7M1214.8 906.2L1224.8 906.2M1933.5 906.2L1923.5 906.2M1214.8 804.7L1224.8 804.7M1933.5 804.7L1923.5 804.7" stroke="#000" stroke-width="1.7" fill="none"/>
<path d="M1326.9 1188.4L1326.9 1437.3M1322.2 1188.4L1331.7 1188.4M1322.2 1437.3L1331.7 1437.3" stroke="#000" stroke-width="1.6" fill="none"/>
<path d="M1316.4 1303.1L1316.4 1347.7M1311.7 1303.1L1321.2 1303.1M1311.7 1347.7L1321.2 1347.7" stroke="#000" stroke-width="1.6" fill="none"/>
<path d="M1296.4 1358.9L1296.4 1379.2M1291.7 1358.9L1301.2 1358.9M1291.7 1379.2L1301.2 1379.2" stroke="#000" stroke-width="1.6" fill="none"/>
<path d="M1355.3 1336.6L1355.3 1350.8M1350.5 1336.6L1360 1336.6M1350.5 1350.8L1360 1350.8" stroke="#000" stroke-width="1.6" fill="none"/>
<path d="M1371.4 1363L1371.4 1373.1M1366.7 1363L1376.2 1363M1366.7 1373.1L1376.2 1373.1" stroke="#000" stroke-width="1.6" fill="none"/>
<path d="M1389.8 1371.1L1389.8 1381.2M1385 1371.1L1394.5 1371.1M1385 1381.2L1394.5 1381.2" stroke="#000" stroke-width="1.6" fill="none"/>
<path d="M1829.8 1392.4L1725 1393.4L1646.5 1391.4L1585.3 1387.3L1536.5 1388.3L1496.4 1388.3L1463.1 1388.3L1434.9 1387.3L1410.7 1383.2L1389.8 1376.1L1371.4 1368L1355.3 1343.7L1340.9 1298L1328 1298L1316.4 1325.4L1305.9 1368L1296.4 1369" stroke="#808080" stroke-width="1.4" fill="none" stroke-linejoin="round"/>
<path d="M1829.8 1381.9L1839.8 1399.9L1819.8 1399.9Z" fill="#808080"/><path d="M1725 1383L1735 1401L1715 1401Z" fill="#808080"/><path d="M1646.5 1380.9L1656.5 1398.9L1636.5 1398.9Z" fill="#808080"/><path d="M1585.3 1376.9L1595.3 1394.9L1575.3 1394.9Z" fill="#808080"/><path d="M1536.5 1377.9L1546.5 1395.9L1526.5 1395.9Z" fill="#808080"/><path d="M1496.4 1377.9L1506.4 1395.9L1486.4 1395.9Z" fill="#808080"/><path d="M1463.1 1377.9L1473.1 1395.9L1453.1 1395.9Z" fill="#808080"/><path d="M1434.9 1376.9L1444.9 1394.9L1424.9 1394.9Z" fill="#808080"/><path d="M1410.7 1372.8L1420.7 1390.8L1400.7 1390.8Z" fill="#808080"/><path d="M1389.8 1365.7L1399.8 1383.7L1379.8 1383.7Z" fill="#808080"/><path d="M1371.4 1357.6L1381.4 1375.6L1361.4 1375.6Z" fill="#808080"/><path d="M1355.3 1333.2L1365.3 1351.2L1345.3 1351.2Z" fill="#808080"/><path d="M1340.9 1287.5L1350.9 1305.5L1330.9 1305.5Z" fill="#808080"/><path d="M1328 1287.5L1338 1305.5L1318 1305.5Z" fill="#808080"/><path d="M1316.4 1315L1326.4 1333L1306.4 1333Z" fill="#808080"/><path d="M1305.9 1357.6L1315.9 1375.6L1295.9 1375.6Z" fill="#808080"/><path d="M1296.4 1358.6L1306.4 1376.6L1286.4 1376.6Z" fill="#808080"/>
<path d="M1322.9 1063.5L1322.9 1114.3M1318.1 1063.5L1327.6 1063.5M1318.1 1114.3L1327.6 1114.3" stroke="#000" stroke-width="1.6" fill="none"/>
<path d="M1334.8 1166L1334.8 1190.4M1330 1166L1339.5 1166M1330 1190.4L1339.5 1190.4" stroke="#000" stroke-width="1.6" fill="none"/>
<path d="M1348 1252.3L1348 1268.6M1343.3 1252.3L1352.8 1252.3M1343.3 1268.6L1352.8 1268.6" stroke="#000" stroke-width="1.6" fill="none"/>
<path d="M1312.1 1332.5L1312.1 1352.8M1307.3 1332.5L1316.8 1332.5M1307.3 1352.8L1316.8 1352.8" stroke="#000" stroke-width="1.6" fill="none"/>
<path d="M1851.3 1383.6L1743.5 1394.7L1662.6 1392.9L1599.7 1394.4L1549.4 1380.4L1508.2 1377.4L1473.9 1379.2L1444.8 1380.2L1419.9 1368.3L1398.4 1357.9L1379.5 1343.7L1362.8 1317.3L1348 1260.4L1334.8 1178.2L1322.9 1088.9L1312.1 1342.7L1302.3 1343.7" stroke="#00ffff" stroke-width="1.4" fill="none" stroke-linejoin="round"/>
<path d="M1851.3 1373.6L1861.3 1383.6L1851.3 1393.6L1841.3 1383.6Z" fill="#00ffff"/><path d="M1743.5 1384.7L1753.5 1394.7L1743.5 1404.7L1733.5 1394.7Z" fill="#00ffff"/><path d="M1662.6 1382.9L1672.6 1392.9L1662.6 1402.9L1652.6 1392.9Z" fill="#00ffff"/><path d="M1599.7 1384.4L1609.7 1394.4L1599.7 1404.4L1589.7 1394.4Z" fill="#00ffff"/><path d="M1549.4 1370.4L1559.4 1380.4L1549.4 1390.4L1539.4 1380.4Z" fill="#00ffff"/><path d="M1508.2 1367.4L1518.2 1377.4L1508.2 1387.4L1498.2 1377.4Z" fill="#00ffff"/><path d="M1473.9 1369.2L1483.9 1379.2L1473.9 1389.2L1463.9 1379.2Z" fill="#00ffff"/><path d="M1444.8 1370.2L1454.8 1380.2L1444.8 1390.2L1434.8 1380.2Z" fill="#00ffff"/><path d="M1419.9 1358.3L1429.9 1368.3L1419.9 1378.3L1409.9 1368.3Z" fill="#00ffff"/><path d="M1398.4 1347.9L1408.4 1357.9L1398.4 1367.9L1388.4 1357.9Z" fill="#00ffff"/><path d="M1379.5 1333.7L1389.5 1343.7L1379.5 1353.7L1369.5 1343.7Z" fill="#00ffff"/><path d="M1362.8 1307.3L1372.8 1317.3L1362.8 1327.3L1352.8 1317.3Z" fill="#00ffff"/><path d="M1348 1250.4L1358 1260.4L1348 1270.4L1338 1260.4Z" fill="#00ffff"/><path d="M1334.8 1168.2L1344.8 1178.2L1334.8 1188.2L1324.8 1178.2Z" fill="#00ffff"/><path d="M1322.9 1078.9L1332.9 1088.9L1322.9 1098.9L1312.9 1088.9Z" fill="#00ffff"/><path d="M1312.1 1332.7L1322.1 1342.7L1312.1 1352.7L1302.1 1342.7Z" fill="#00ffff"/><path d="M1302.3 1333.7L1312.3 1343.7L1302.3 1353.7L1292.3 1343.7Z" fill="#00ffff"/>
<path d="M1325.7 1190.4L1325.7 1226.9M1321 1190.4L1330.5 1190.4M1321 1226.9L1330.5 1226.9" stroke="#000" stroke-width="1.6" fill="none"/>
<path d="M1314.3 1255.4L1314.3 1310.2M1309.5 1255.4L1319 1255.4M1309.5 1310.2L1319 1310.2" stroke="#000" stroke-width="1.6" fill="none"/>
<path d="M1294.5 1326.9L1294.5 1383.8M1289.7 1326.9L1299.2 1326.9M1289.7 1383.8L1299.2 1383.8" stroke="#000" stroke-width="1.6" fill="none"/>
<path d="M1303.9 1354.1L1303.9 1380.5M1299.2 1354.1L1308.7 1354.1M1299.2 1380.5L1308.7 1380.5" stroke="#000" stroke-width="1.6" fill="none"/>
<path d="M1338.5 1274.1L1338.5 1286.3M1333.7 1274.1L1343.2 1274.1M1333.7 1286.3L1343.2 1286.3" stroke="#000" stroke-width="1.6" fill="none"/>
<path d="M1822.7 1391L1718.9 1392.9L1641.1 1389.6L1580.6 1393.4L1532.2 1387.3L1492.5 1386.4L1459.5 1389.3L1431.6 1383.2L1407.7 1373.3L1386.9 1362.3L1368.7 1357.3L1352.7 1329.5L1338.5 1280.2L1325.7 1208.7L1314.3 1282.8L1303.9 1367.3L1294.5 1355.3" stroke="#008000" stroke-width="1.4" fill="none" stroke-linejoin="round"/>
<rect x="1812.4" y="1380.7" width="20.5" height="20.5" fill="#008000"/><rect x="1708.7" y="1382.6" width="20.5" height="20.5" fill="#008000"/><rect x="1630.8" y="1379.4" width="20.5" height="20.5" fill="#008000"/><rect x="1570.3" y="1383.2" width="20.5" height="20.5" fill="#008000"/><rect x="1521.9" y="1377.1" width="20.5" height="20.5" fill="#008000"/><rect x="1482.3" y="1376.1" width="20.5" height="20.5" fill="#008000"/><rect x="1449.3" y="1379.1" width="20.5" height="20.5" fill="#008000"/><rect x="1421.3" y="1373" width="20.5" height="20.5" fill="#008000"/><rect x="1397.4" y="1363.1" width="20.5" height="20.5" fill="#008000"/><rect x="1376.7" y="1352.1" width="20.5" height="20.5" fill="#008000"/><rect x="1358.5" y="1347" width="20.5" height="20.5" fill="#008000"/><rect x="1342.5" y="1319.2" width="20.5" height="20.5" fill="#008000"/><rect x="1328.2" y="1270" width="20.5" height="20.5" fill="#008000"/><rect x="1315.5" y="1198.4" width="20.5" height="20.5" fill="#008000"/><rect x="1304" y="1272.5" width="20.5" height="20.5" fill="#008000"/><rect x="1293.7" y="1357.1" width="20.5" height="20.5" fill="#008000"/><rect x="1284.2" y="1345.1" width="20.5" height="20.5" fill="#008000"/>
<path d="M1316.2 789.8L1316.2 1045.6M1311.4 789.8L1320.9 789.8M1311.4 1045.6L1320.9 1045.6" stroke="#000" stroke-width="1.6" fill="none"/>
<path d="M1327.2 951.1L1327.2 1044.4M1322.4 951.1L1331.9 951.1M1322.4 1044.4L1331.9 1044.4" stroke="#000" stroke-width="1.6" fill="none"/>
<path d="M1339.3 1150.2L1339.3 1186.7M1334.6 1150.2L1344.1 1150.2M1334.6 1186.7L1344.1 1186.7" stroke="#000" stroke-width="1.6" fill="none"/>
<path d="M1352.8 1243L1352.8 1263.3M1348.1 1243L1357.6 1243M1348.1 1263.3L1357.6 1263.3" stroke="#000" stroke-width="1.6" fill="none"/>
<path d="M1306.2 1343.5L1306.2 1367.8M1301.4 1343.5L1310.9 1343.5M1301.4 1367.8L1310.9 1367.8" stroke="#000" stroke-width="1.6" fill="none"/>
<path d="M1865.7 1393.8L1755.8 1391.9L1673.3 1391.4L1609.2 1391L1558 1391.4L1516 1391.4L1481 1385.4L1451.4 1381.4L1426.1 1382.4L1404.1 1363.3L1384.9 1354.8L1367.9 1323.9L1352.8 1253.1L1339.3 1168.5L1327.2 997.8L1316.2 917.7L1306.2 1355.6" stroke="#ff0000" stroke-width="1.4" fill="none" stroke-linejoin="round"/>
<circle cx="1865.7" cy="1393.8" r="9.8" fill="#ff0000"/><circle cx="1755.8" cy="1391.9" r="9.8" fill="#ff0000"/><circle cx="1673.3" cy="1391.4" r="9.8" fill="#ff0000"/><circle cx="1609.2" cy="1391" r="9.8" fill="#ff0000"/><circle cx="1558" cy="1391.4" r="9.8" fill="#ff0000"/><circle cx="1516" cy="1391.4" r="9.8" fill="#ff0000"/><circle cx="1481" cy="1385.4" r="9.8" fill="#ff0000"/><circle cx="1451.4" cy="1381.4" r="9.8" fill="#ff0000"/><circle cx="1426.1" cy="1382.4" r="9.8" fill="#ff0000"/><circle cx="1404.1" cy="1363.3" r="9.8" fill="#ff0000"/><circle cx="1384.9" cy="1354.8" r="9.8" fill="#ff0000"/><circle cx="1367.9" cy="1323.9" r="9.8" fill="#ff0000"/><circle cx="1352.8" cy="1253.1" r="9.8" fill="#ff0000"/><circle cx="1339.3" cy="1168.5" r="9.8" fill="#ff0000"/><circle cx="1327.2" cy="997.8" r="9.8" fill="#ff0000"/><circle cx="1316.2" cy="917.7" r="9.8" fill="#ff0000"/><circle cx="1306.2" cy="1355.6" r="9.8" fill="#ff0000"/>
<rect x="1214.8" y="754.5" width="718.7" height="719" fill="none" stroke="#000" stroke-width="2.1"/>
<text x="1335.3" y="1510.3" font-family='"Liberation Sans", Arial, Helvetica, sans-serif' font-size="35" text-anchor="middle" fill="#000" >1</text>
<text x="1574.2" y="1510.3" font-family='"Liberation Sans", Arial, Helvetica, sans-serif' font-size="35" text-anchor="middle" fill="#000" >2</text>
<text x="1813.1" y="1510.3" font-family='"Liberation Sans", Arial, Helvetica, sans-serif' font-size="35" text-anchor="middle" fill="#000" >3</text>
<text x="1208.5" y="1426.3" font-family='"Liberation Sans", Arial, Helvetica, sans-serif' font-size="35" text-anchor="end" fill="#000" >1</text>
<text x="1208.5" y="1324.8" font-family='"Liberation Sans", Arial, Helvetica, sans-serif' font-size="35" text-anchor="end" fill="#000" >2</text>
<text x="1208.5" y="1223.3" font-family='"Liberation Sans", Arial, Helvetica, sans-serif' font-size="35" text-anchor="end" fill="#000" >3</text>
<text x="1208.5" y="1121.8" font-family='"Liberation Sans", Arial, Helvetica, sans-serif' font-size="35" text-anchor="end" fill="#000" >4</text>
<text x="1208.5" y="1020.3" font-family='"Liberation Sans", Arial, Helvetica, sans-serif' font-size="35" text-anchor="end" fill="#000" >5</text>
<text x="1208.5" y="918.8" font-family='"Liberation Sans", Arial, Helvetica, sans-serif' font-size="35" text-anchor="end" fill="#000" >6</text>
<text x="1208.5" y="817.3" font-family='"Liberation Sans", Arial, Helvetica, sans-serif' font-size="35" text-anchor="end" fill="#000" >7</text>
<text x="1534.5" y="1566.5" font-family='"Liberation Sans", Arial, Helvetica, sans-serif' font-size="44.1" text-anchor="start" fill="#000" ><tspan font-style="italic">T</tspan><tspan dy="-5.9" dx="-1.5" font-size="44.1">*</tspan><tspan dy="16.8" dx="-21.3" font-size="28.7">g</tspan><tspan dy="-10.9" dx="2">/</tspan><tspan dx="0.5" font-style="italic">T</tspan></text>
<text x="1073.5" y="728.3" font-family='"Liberation Sans", Arial, Helvetica, sans-serif' font-size="70" text-anchor="start" fill="#000" font-weight="bold" >c</text>
<text x="1258" y="723.5" font-family='"Liberation Serif", "Times New Roman", Times, serif' font-size="42.5" text-anchor="start" fill="#000" font-style="italic" >high T</text>
<text x="1507" y="687.7" font-family='"Liberation Serif", "Times New Roman", Times, serif' font-size="42.5" text-anchor="start" fill="#000" font-style="italic" >unfreezing</text>
<text x="1786" y="723.5" font-family='"Liberation Serif", "Times New Roman", Times, serif' font-size="42.5" text-anchor="start" fill="#000" font-style="italic" >low T</text>
<line x1="1442" y1="708.6" x2="1747.2" y2="708.6" stroke="#000" stroke-width="1.7" />
<path d="M1412.2 708.6L1445.5 698.1L1445.5 719.1Z" fill="#000"/>
<g transform="translate(1141.1,1272) rotate(-90)" font-family='"Liberation Serif", "Times New Roman", Times, serif' fill="#000"><text x="0" y="0" font-size="48" font-style="italic">χ</text><text x="37" y="0" font-size="45" font-style="normal">(</text><text x="57.5" y="0" font-size="35" font-style="normal">=</text><text x="80" y="0" font-size="45" font-style="italic" stroke="#000" stroke-width="0.7">Δ</text><text x="107.5" y="0" font-size="45" font-style="italic" stroke="#000" stroke-width="0.7">r</text><text x="127" y="11" font-size="32" font-style="normal">ave</text><text x="187" y="0" font-size="45" font-style="normal">/</text><text x="211" y="0" font-size="45" font-style="italic" stroke="#000" stroke-width="0.7">Δ</text><text x="239.5" y="0" font-size="45" font-style="italic" stroke="#000" stroke-width="0.7">r</text><text x="262" y="11" font-size="32" font-style="normal">1st</text><text x="316" y="0" font-size="45" font-style="normal">)</text></g>
<line x1="1362.9" y1="781.1" x2="1454.8" y2="781.1" stroke="#808080" stroke-width="1.8" />
<path d="M1409.7 768.3L1422.2 790.8L1397.2 790.8Z" fill="#808080"/>
<text x="1477" y="795.4" font-family='"Liberation Sans", Arial, Helvetica, sans-serif' font-size="37.1" text-anchor="start" fill="#000" >Cu<tspan dy="9.1" font-size="24.4">30</tspan><tspan dy="-9.1" font-size="37.1">Zr</tspan><tspan dy="9.1" font-size="24.4">70</tspan></text>
<line x1="1362.9" y1="835.8" x2="1454.8" y2="835.8" stroke="#008000" stroke-width="1.8" />
<rect x="1399.5" y="825.5" width="20.5" height="20.5" fill="#008000"/>
<text x="1477" y="850.1" font-family='"Liberation Sans", Arial, Helvetica, sans-serif' font-size="37.1" text-anchor="start" fill="#000" >Cu<tspan dy="9.1" font-size="24.4">40</tspan><tspan dy="-9.1" font-size="37.1">Zr</tspan><tspan dy="9.1" font-size="24.4">60</tspan></text>
<line x1="1649.9" y1="781.1" x2="1742.1" y2="781.1" stroke="#00ffff" stroke-width="1.8" />
<path d="M1697.2 771.1L1707.2 781.1L1697.2 791.1L1687.2 781.1Z" fill="#00ffff"/>
<text x="1764.4" y="795.4" font-family='"Liberation Sans", Arial, Helvetica, sans-serif' font-size="37.1" text-anchor="start" fill="#000" >Cu<tspan dy="9.1" font-size="24.4">52</tspan><tspan dy="-9.1" font-size="37.1">Zr</tspan><tspan dy="9.1" font-size="24.4">48</tspan></text>
<line x1="1649.9" y1="835.8" x2="1742.1" y2="835.8" stroke="#ff0000" stroke-width="1.8" />
<circle cx="1697.2" cy="835.8" r="11.5" fill="#ff0000"/>
<text x="1764.4" y="850.1" font-family='"Liberation Sans", Arial, Helvetica, sans-serif' font-size="37.1" text-anchor="start" fill="#000" >Cu<tspan dy="9.1" font-size="24.4">58</tspan><tspan dy="-9.1" font-size="37.1">Zr</tspan><tspan dy="9.1" font-size="24.4">42</tspan></text>
<rect x="1496.8" y="876.4" width="404.5" height="404.3" fill="#fff" stroke="none"/>
<path d="M1510.7 1280.7L1510.7 1277.1M1510.7 876.4L1510.7 880M1537.6 1280.7L1537.6 1277.1M1537.6 876.4L1537.6 880M1564.5 1280.7L1564.5 1274.4M1564.5 876.4L1564.5 882.7M1591.4 1280.7L1591.4 1277.1M1591.4 876.4L1591.4 880M1618.3 1280.7L1618.3 1277.1M1618.3 876.4L1618.3 880M1645.1 1280.7L1645.1 1277.1M1645.1 876.4L1645.1 880M1672 1280.7L1672 1277.1M1672 876.4L1672 880M1698.9 1280.7L1698.9 1274.4M1698.9 876.4L1698.9 882.7M1725.8 1280.7L1725.8 1277.1M1725.8 876.4L1725.8 880M1752.7 1280.7L1752.7 1277.1M1752.7 876.4L1752.7 880M1779.5 1280.7L1779.5 1277.1M1779.5 876.4L1779.5 880M1806.4 1280.7L1806.4 1277.1M1806.4 876.4L1806.4 880M1833.3 1280.7L1833.3 1274.4M1833.3 876.4L1833.3 882.7M1860.2 1280.7L1860.2 1277.1M1860.2 876.4L1860.2 880M1887.1 1280.7L1887.1 1277.1M1887.1 876.4L1887.1 880M1496.8 1240.3L1500.6 1240.3M1901.3 1240.3L1897.5 1240.3M1496.8 1199.9L1503.1 1199.9M1901.3 1199.9L1895 1199.9M1496.8 1159.4L1500.6 1159.4M1901.3 1159.4L1897.5 1159.4M1496.8 1119L1503.1 1119M1901.3 1119L1895 1119M1496.8 1078.6L1500.6 1078.6M1901.3 1078.6L1897.5 1078.6M1496.8 1038.2L1503.1 1038.2M1901.3 1038.2L1895 1038.2M1496.8 997.7L1500.6 997.7M1901.3 997.7L1897.5 997.7M1496.8 957.3L1503.1 957.3M1901.3 957.3L1895 957.3M1496.8 916.9L1500.6 916.9M1901.3 916.9L1897.5 916.9" stroke="#000" stroke-width="1.2" fill="none"/>
<path d="M1842.7 1222.8L1842.7 1248.7M1840 1222.8L1845.5 1222.8M1840 1248.7L1845.5 1248.7" stroke="#111" stroke-width="1.3" fill="none"/>
<path d="M1783.8 1214.4L1783.8 1243.5M1781 1214.4L1786.5 1214.4M1781 1243.5L1786.5 1243.5" stroke="#111" stroke-width="1.3" fill="none"/>
<path d="M1739.6 1189L1739.6 1244M1736.8 1189L1742.3 1189M1736.8 1244L1742.3 1244" stroke="#111" stroke-width="1.3" fill="none"/>
<path d="M1705.2 1184.8L1705.2 1223.6M1702.4 1184.8L1707.9 1184.8M1702.4 1223.6L1707.9 1223.6" stroke="#111" stroke-width="1.3" fill="none"/>
<path d="M1677.7 1160.4L1677.7 1192.7M1674.9 1160.4L1680.4 1160.4M1674.9 1192.7L1680.4 1192.7" stroke="#111" stroke-width="1.3" fill="none"/>
<path d="M1636.4 1095.6L1636.4 1157M1633.7 1095.6L1639.2 1095.6M1633.7 1157L1639.2 1157" stroke="#111" stroke-width="1.3" fill="none"/>
<path d="M1606.9 1041.9L1606.9 1058M1604.2 1041.9L1609.7 1041.9M1604.2 1058L1609.7 1058" stroke="#111" stroke-width="1.3" fill="none"/>
<path d="M1595.1 1018.3L1595.1 1037.7M1592.4 1018.3L1597.9 1018.3M1592.4 1037.7L1597.9 1037.7" stroke="#111" stroke-width="1.3" fill="none"/>
<path d="M1584.8 1032.3L1584.8 1048.5M1582.1 1032.3L1587.6 1032.3M1582.1 1048.5L1587.6 1048.5" stroke="#111" stroke-width="1.3" fill="none"/>
<path d="M1842.7 1235.7L1783.8 1229L1739.6 1216.5L1705.2 1204.2L1677.7 1176.6L1655.2 1139.5L1636.4 1126.3L1620.5 1060.9L1606.9 1050L1595.1 1028L1584.8 1040.4L1575.7 1070.5L1567.6 1138.1L1560.4 1204.2L1553.9 1250.9L1548 1271L1542.6 1275.8L1537.7 1277.5L1533.3 1278.6L1529.1 1279.4L1525.3 1279.9" stroke="#808080" stroke-width="1.3" fill="none" stroke-linejoin="round"/>
<path d="M1842.7 1230.3L1848 1239.7L1837.5 1239.7Z" fill="#808080"/><path d="M1783.8 1223.5L1789 1232.9L1778.5 1232.9Z" fill="#808080"/><path d="M1739.6 1211L1744.8 1220.5L1734.3 1220.5Z" fill="#808080"/><path d="M1705.2 1198.7L1710.4 1208.2L1699.9 1208.2Z" fill="#808080"/><path d="M1677.7 1171.1L1682.9 1180.5L1672.4 1180.5Z" fill="#808080"/><path d="M1655.2 1134.1L1660.4 1143.5L1649.9 1143.5Z" fill="#808080"/><path d="M1636.4 1120.8L1641.7 1130.2L1631.2 1130.2Z" fill="#808080"/><path d="M1620.5 1055.5L1625.8 1064.9L1615.3 1064.9Z" fill="#808080"/><path d="M1606.9 1044.5L1612.2 1053.9L1601.7 1053.9Z" fill="#808080"/><path d="M1595.1 1022.5L1600.4 1031.9L1589.9 1031.9Z" fill="#808080"/><path d="M1584.8 1034.9L1590.1 1044.4L1579.6 1044.4Z" fill="#808080"/><path d="M1575.7 1065L1581 1074.5L1570.5 1074.5Z" fill="#808080"/><path d="M1567.6 1132.6L1572.9 1142L1562.4 1142Z" fill="#808080"/><path d="M1560.4 1198.7L1565.6 1208.2L1555.1 1208.2Z" fill="#808080"/><path d="M1553.9 1245.5L1559.1 1254.9L1548.6 1254.9Z" fill="#808080"/><path d="M1548 1265.5L1553.2 1275L1542.7 1275Z" fill="#808080"/><path d="M1542.6 1270.4L1547.9 1279.8L1537.4 1279.8Z" fill="#808080"/><path d="M1537.7 1272L1543 1281.4L1532.5 1281.4Z" fill="#808080"/><path d="M1533.3 1273.1L1538.5 1282.6L1528 1282.6Z" fill="#808080"/><path d="M1529.1 1273.9L1534.4 1283.4L1523.9 1283.4Z" fill="#808080"/><path d="M1525.3 1274.4L1530.6 1283.9L1520.1 1283.9Z" fill="#808080"/>
<path d="M1854.8 1226.5L1854.8 1239.5M1852.1 1226.5L1857.6 1226.5M1852.1 1239.5L1857.6 1239.5" stroke="#111" stroke-width="1.3" fill="none"/>
<path d="M1794.1 1212.6L1794.1 1230.4M1791.4 1212.6L1796.9 1212.6M1791.4 1230.4L1796.9 1230.4" stroke="#111" stroke-width="1.3" fill="none"/>
<path d="M1748.6 1158.5L1748.6 1216.7M1745.9 1158.5L1751.4 1158.5M1745.9 1216.7L1751.4 1216.7" stroke="#111" stroke-width="1.3" fill="none"/>
<path d="M1713.2 1128.9L1713.2 1167.7M1710.5 1128.9L1716 1128.9M1710.5 1167.7L1716 1167.7" stroke="#111" stroke-width="1.3" fill="none"/>
<path d="M1661.8 1079.2L1661.8 1111.6M1659 1079.2L1664.5 1079.2M1659 1111.6L1664.5 1111.6" stroke="#111" stroke-width="1.3" fill="none"/>
<path d="M1642.5 1032L1642.5 1080.5M1639.7 1032L1645.2 1032M1639.7 1080.5L1645.2 1080.5" stroke="#111" stroke-width="1.3" fill="none"/>
<path d="M1626.1 1003.4L1626.1 1048.7M1623.4 1003.4L1628.9 1003.4M1623.4 1048.7L1628.9 1048.7" stroke="#111" stroke-width="1.3" fill="none"/>
<path d="M1612.1 961.8L1612.1 984.5M1609.4 961.8L1614.9 961.8M1609.4 984.5L1614.9 984.5" stroke="#111" stroke-width="1.3" fill="none"/>
<path d="M1600 959.4L1600 985.3M1597.2 959.4L1602.7 959.4M1597.2 985.3L1602.7 985.3" stroke="#111" stroke-width="1.3" fill="none"/>
<path d="M1589.4 975.1L1589.4 1007.4M1586.6 975.1L1592.1 975.1M1586.6 1007.4L1592.1 1007.4" stroke="#111" stroke-width="1.3" fill="none"/>
<path d="M1580 1030.4L1580 1053M1577.2 1030.4L1582.7 1030.4M1577.2 1053L1582.7 1053" stroke="#111" stroke-width="1.3" fill="none"/>
<path d="M1571.7 1110.9L1571.7 1127.1M1568.9 1110.9L1574.4 1110.9M1568.9 1127.1L1574.4 1127.1" stroke="#111" stroke-width="1.3" fill="none"/>
<path d="M1564.2 1182.5L1564.2 1195.5M1561.5 1182.5L1567 1182.5M1561.5 1195.5L1567 1195.5" stroke="#111" stroke-width="1.3" fill="none"/>
<path d="M1854.8 1233L1794.1 1221.5L1748.6 1187.6L1713.2 1148.3L1684.9 1138.1L1661.8 1095.4L1642.5 1056.3L1626.1 1026L1612.1 973.1L1600 972.3L1589.4 991.3L1580 1041.7L1571.7 1119L1564.2 1189L1557.5 1240.8L1551.4 1268.9L1545.9 1275.8L1540.9 1278.3L1536.3 1279.2L1532 1279.9" stroke="#00ffff" stroke-width="1.3" fill="none" stroke-linejoin="round"/>
<path d="M1854.8 1227.7L1860.1 1233L1854.8 1238.3L1849.5 1233Z" fill="#00ffff"/><path d="M1794.1 1216.2L1799.4 1221.5L1794.1 1226.8L1788.8 1221.5Z" fill="#00ffff"/><path d="M1748.6 1182.3L1753.9 1187.6L1748.6 1192.9L1743.3 1187.6Z" fill="#00ffff"/><path d="M1713.2 1143L1718.5 1148.3L1713.2 1153.6L1707.9 1148.3Z" fill="#00ffff"/><path d="M1684.9 1132.8L1690.2 1138.1L1684.9 1143.4L1679.6 1138.1Z" fill="#00ffff"/><path d="M1661.8 1090.1L1667.1 1095.4L1661.8 1100.7L1656.5 1095.4Z" fill="#00ffff"/><path d="M1642.5 1051L1647.8 1056.3L1642.5 1061.6L1637.2 1056.3Z" fill="#00ffff"/><path d="M1626.1 1020.7L1631.4 1026L1626.1 1031.3L1620.8 1026Z" fill="#00ffff"/><path d="M1612.1 967.8L1617.4 973.1L1612.1 978.4L1606.8 973.1Z" fill="#00ffff"/><path d="M1600 967L1605.3 972.3L1600 977.6L1594.7 972.3Z" fill="#00ffff"/><path d="M1589.4 986L1594.7 991.3L1589.4 996.6L1584.1 991.3Z" fill="#00ffff"/><path d="M1580 1036.4L1585.3 1041.7L1580 1047L1574.7 1041.7Z" fill="#00ffff"/><path d="M1571.7 1113.7L1577 1119L1571.7 1124.3L1566.4 1119Z" fill="#00ffff"/><path d="M1564.2 1183.7L1569.5 1189L1564.2 1194.3L1558.9 1189Z" fill="#00ffff"/><path d="M1557.5 1235.5L1562.8 1240.8L1557.5 1246.1L1552.2 1240.8Z" fill="#00ffff"/><path d="M1551.4 1263.6L1556.7 1268.9L1551.4 1274.2L1546.1 1268.9Z" fill="#00ffff"/><path d="M1545.9 1270.5L1551.2 1275.8L1545.9 1281.1L1540.6 1275.8Z" fill="#00ffff"/><path d="M1540.9 1273L1546.2 1278.3L1540.9 1283.6L1535.6 1278.3Z" fill="#00ffff"/><path d="M1536.3 1273.9L1541.6 1279.2L1536.3 1284.5L1531 1279.2Z" fill="#00ffff"/><path d="M1532 1274.6L1537.3 1279.9L1532 1285.2L1526.7 1279.9Z" fill="#00ffff"/>
<path d="M1838.7 1223L1838.7 1254.3M1835.9 1223L1841.4 1223M1835.9 1254.3L1841.4 1254.3" stroke="#111" stroke-width="1.3" fill="none"/>
<path d="M1780.3 1212.9L1780.3 1242.1M1777.6 1212.9L1783.1 1212.9M1777.6 1242.1L1783.1 1242.1" stroke="#111" stroke-width="1.3" fill="none"/>
<path d="M1736.5 1216L1736.5 1241.9M1733.8 1216L1739.3 1216M1733.8 1241.9L1739.3 1241.9" stroke="#111" stroke-width="1.3" fill="none"/>
<path d="M1702.5 1161.5L1702.5 1223M1699.7 1161.5L1705.2 1161.5M1699.7 1223L1705.2 1223" stroke="#111" stroke-width="1.3" fill="none"/>
<path d="M1675.2 1150.4L1675.2 1195.6M1672.5 1150.4L1678 1150.4M1672.5 1195.6L1678 1195.6" stroke="#111" stroke-width="1.3" fill="none"/>
<path d="M1653 1111.4L1653 1164.8M1650.2 1111.4L1655.7 1111.4M1650.2 1164.8L1655.7 1164.8" stroke="#111" stroke-width="1.3" fill="none"/>
<path d="M1634.4 1096.5L1634.4 1120.8M1631.6 1096.5L1637.1 1096.5M1631.6 1120.8L1637.1 1120.8" stroke="#111" stroke-width="1.3" fill="none"/>
<path d="M1618.7 1043.6L1618.7 1076M1615.9 1043.6L1621.4 1043.6M1615.9 1076L1621.4 1076" stroke="#111" stroke-width="1.3" fill="none"/>
<path d="M1605.2 1017.5L1605.2 1032M1602.5 1017.5L1608 1017.5M1602.5 1032L1608 1032" stroke="#111" stroke-width="1.3" fill="none"/>
<path d="M1593.5 1008.1L1593.5 1025.9M1590.8 1008.1L1596.3 1008.1M1590.8 1025.9L1596.3 1025.9" stroke="#111" stroke-width="1.3" fill="none"/>
<path d="M1583.3 1022.1L1583.3 1038.3M1580.6 1022.1L1586.1 1022.1M1580.6 1038.3L1586.1 1038.3" stroke="#111" stroke-width="1.3" fill="none"/>
<path d="M1574.3 1055.9L1574.3 1078.6M1571.6 1055.9L1577.1 1055.9M1571.6 1078.6L1577.1 1078.6" stroke="#111" stroke-width="1.3" fill="none"/>
<path d="M1566.3 1124.3L1566.3 1150.2M1563.5 1124.3L1569 1124.3M1563.5 1150.2L1569 1150.2" stroke="#111" stroke-width="1.3" fill="none"/>
<path d="M1559.1 1200.5L1559.1 1219.9M1556.4 1200.5L1561.9 1200.5M1556.4 1219.9L1561.9 1219.9" stroke="#111" stroke-width="1.3" fill="none"/>
<path d="M1838.7 1238.7L1780.3 1227.5L1736.5 1229L1702.5 1192.3L1675.2 1173L1653 1138.1L1634.4 1108.7L1618.7 1059.8L1605.2 1024.7L1593.5 1017L1583.3 1030.2L1574.3 1067.3L1566.3 1137.3L1559.1 1210.2L1552.7 1254.3L1546.8 1271.6L1541.5 1275.8L1536.7 1277.5L1532.2 1278.4L1528.2 1279.2L1524.4 1279.9" stroke="#087d40" stroke-width="1.3" fill="none" stroke-linejoin="round"/>
<rect x="1833.2" y="1233.2" width="11" height="11" fill="#087d40"/><rect x="1774.8" y="1222" width="11" height="11" fill="#087d40"/><rect x="1731" y="1223.5" width="11" height="11" fill="#087d40"/><rect x="1697" y="1186.8" width="11" height="11" fill="#087d40"/><rect x="1669.7" y="1167.5" width="11" height="11" fill="#087d40"/><rect x="1647.5" y="1132.6" width="11" height="11" fill="#087d40"/><rect x="1628.9" y="1103.2" width="11" height="11" fill="#087d40"/><rect x="1613.2" y="1054.3" width="11" height="11" fill="#087d40"/><rect x="1599.7" y="1019.2" width="11" height="11" fill="#087d40"/><rect x="1588" y="1011.5" width="11" height="11" fill="#087d40"/><rect x="1577.8" y="1024.7" width="11" height="11" fill="#087d40"/><rect x="1568.8" y="1061.8" width="11" height="11" fill="#087d40"/><rect x="1560.8" y="1131.8" width="11" height="11" fill="#087d40"/><rect x="1553.6" y="1204.7" width="11" height="11" fill="#087d40"/><rect x="1547.2" y="1248.8" width="11" height="11" fill="#087d40"/><rect x="1541.3" y="1266.1" width="11" height="11" fill="#087d40"/><rect x="1536" y="1270.3" width="11" height="11" fill="#087d40"/><rect x="1531.2" y="1272" width="11" height="11" fill="#087d40"/><rect x="1526.7" y="1272.9" width="11" height="11" fill="#087d40"/><rect x="1522.7" y="1273.7" width="11" height="11" fill="#087d40"/><rect x="1518.9" y="1274.4" width="11" height="11" fill="#087d40"/>
<path d="M1801 1191.4L1801 1241.6M1798.3 1191.4L1803.8 1191.4M1798.3 1241.6L1803.8 1241.6" stroke="#111" stroke-width="1.3" fill="none"/>
<path d="M1689.8 1113.7L1689.8 1167M1687 1113.7L1692.5 1113.7M1687 1167L1692.5 1167" stroke="#111" stroke-width="1.3" fill="none"/>
<path d="M1666.2 1053.5L1666.2 1127.9M1663.4 1053.5L1668.9 1053.5M1663.4 1127.9L1668.9 1127.9" stroke="#111" stroke-width="1.3" fill="none"/>
<path d="M1646.5 1024.2L1646.5 1038.8M1643.7 1024.2L1649.2 1024.2M1643.7 1038.8L1649.2 1038.8" stroke="#111" stroke-width="1.3" fill="none"/>
<path d="M1629.8 968.5L1629.8 984.6M1627.1 968.5L1632.6 968.5M1627.1 984.6L1632.6 984.6" stroke="#111" stroke-width="1.3" fill="none"/>
<path d="M1592.4 963.6L1592.4 989.5M1589.6 963.6L1595.1 963.6M1589.6 989.5L1595.1 989.5" stroke="#111" stroke-width="1.3" fill="none"/>
<path d="M1754.7 1197.4L1754.7 1213.6M1751.9 1197.4L1757.4 1197.4M1751.9 1213.6L1757.4 1213.6" stroke="#111" stroke-width="1.3" fill="none"/>
<path d="M1718.6 1175.4L1718.6 1191.6M1715.9 1175.4L1721.4 1175.4M1715.9 1191.6L1721.4 1191.6" stroke="#111" stroke-width="1.3" fill="none"/>
<path d="M1582.8 1022.1L1582.8 1038.3M1580.1 1022.1L1585.6 1022.1M1580.1 1038.3L1585.6 1038.3" stroke="#111" stroke-width="1.3" fill="none"/>
<path d="M1862.9 1228.3L1801 1216.5L1754.7 1205.5L1718.6 1183.5L1689.8 1140.3L1666.2 1090.7L1646.5 1031.5L1629.8 976.5L1615.6 941.8L1603.2 944.5L1592.4 976.5L1582.8 1030.2L1574.4 1101.5L1566.8 1171.4L1559.9 1224.3L1553.7 1259.2L1548.1 1274.2L1543 1278L1538.3 1279.1" stroke="#ff0000" stroke-width="1.3" fill="none" stroke-linejoin="round"/>
<circle cx="1862.9" cy="1228.3" r="5" fill="#ff0000"/><circle cx="1801" cy="1216.5" r="5" fill="#ff0000"/><circle cx="1754.7" cy="1205.5" r="5" fill="#ff0000"/><circle cx="1718.6" cy="1183.5" r="5" fill="#ff0000"/><circle cx="1689.8" cy="1140.3" r="5" fill="#ff0000"/><circle cx="1666.2" cy="1090.7" r="5" fill="#ff0000"/><circle cx="1646.5" cy="1031.5" r="5" fill="#ff0000"/><circle cx="1629.8" cy="976.5" r="5" fill="#ff0000"/><circle cx="1615.6" cy="941.8" r="5" fill="#ff0000"/><circle cx="1603.2" cy="944.5" r="5" fill="#ff0000"/><circle cx="1592.4" cy="976.5" r="5" fill="#ff0000"/><circle cx="1582.8" cy="1030.2" r="5" fill="#ff0000"/><circle cx="1574.4" cy="1101.5" r="5" fill="#ff0000"/><circle cx="1566.8" cy="1171.4" r="5" fill="#ff0000"/><circle cx="1559.9" cy="1224.3" r="5" fill="#ff0000"/><circle cx="1553.7" cy="1259.2" r="5" fill="#ff0000"/><circle cx="1548.1" cy="1274.2" r="5" fill="#ff0000"/><circle cx="1543" cy="1278" r="5" fill="#ff0000"/><circle cx="1538.3" cy="1279.1" r="5" fill="#ff0000"/>
<rect x="1496.8" y="876.4" width="404.5" height="404.3" fill="none" stroke="#000" stroke-width="1.4"/>
<text x="1492.5" y="1289.3" font-family='"Liberation Sans", Arial, Helvetica, sans-serif' font-size="23.5" text-anchor="end" fill="#000" >0.0</text>
<text x="1492.5" y="1208.5" font-family='"Liberation Sans", Arial, Helvetica, sans-serif' font-size="23.5" text-anchor="end" fill="#000" >0.5</text>
<text x="1492.5" y="1127.6" font-family='"Liberation Sans", Arial, Helvetica, sans-serif' font-size="23.5" text-anchor="end" fill="#000" >1.0</text>
<text x="1492.5" y="1046.8" font-family='"Liberation Sans", Arial, Helvetica, sans-serif' font-size="23.5" text-anchor="end" fill="#000" >1.5</text>
<text x="1492.5" y="965.9" font-family='"Liberation Sans", Arial, Helvetica, sans-serif' font-size="23.5" text-anchor="end" fill="#000" >2.0</text>
<text x="1492.5" y="885.1" font-family='"Liberation Sans", Arial, Helvetica, sans-serif' font-size="23.5" text-anchor="end" fill="#000" >2.5</text>
<text x="1564.5" y="1307.3" font-family='"Liberation Sans", Arial, Helvetica, sans-serif' font-size="23.5" text-anchor="middle" fill="#000" >1</text>
<text x="1698.9" y="1307.3" font-family='"Liberation Sans", Arial, Helvetica, sans-serif' font-size="23.5" text-anchor="middle" fill="#000" >2</text>
<text x="1833.3" y="1307.3" font-family='"Liberation Sans", Arial, Helvetica, sans-serif' font-size="23.5" text-anchor="middle" fill="#000" >3</text>
<text x="1664.3" y="1354" font-family='"Liberation Sans", Arial, Helvetica, sans-serif' font-size="34.3" text-anchor="start" fill="#000" ><tspan font-style="italic">T</tspan><tspan dy="-4.6" dx="-1.2" font-size="34.3">*</tspan><tspan dy="13.1" dx="-16.6" font-size="22.4">g</tspan><tspan dy="-8.5" dx="1.5">/</tspan><tspan dx="0.4" font-style="italic">T</tspan></text>
<text x="0" y="0" font-family='"Liberation Sans", Arial, Helvetica, sans-serif' font-size="32" text-anchor="middle" fill="#000" transform="translate(1444,1083) rotate(-90)" ><tspan font-size="42" font-family='"Liberation Serif", "Times New Roman", Times, serif' font-style="italic">α</tspan><tspan dy="7" dx="-2" font-size="25" font-family='"Liberation Serif", "Times New Roman", Times, serif' font-style="italic">2</tspan></text>
</svg>
</body></html>
